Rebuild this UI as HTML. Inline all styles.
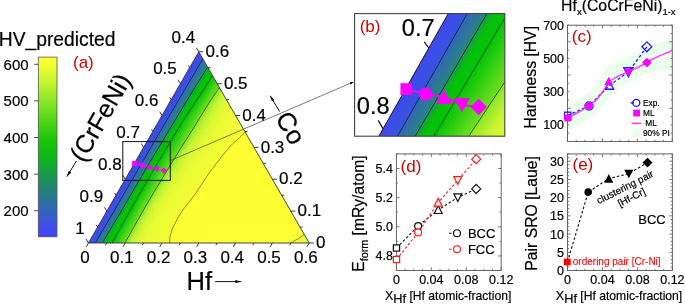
<!DOCTYPE html>
<html><head><meta charset="utf-8"><style>
html,body{margin:0;padding:0;background:#fff;overflow:hidden;}
svg{display:block;will-change:transform;}
text{font-family:"Liberation Sans",sans-serif;stroke:#000;stroke-width:0.2px;}
</style></head><body>
<svg width="685" height="304" viewBox="0 0 685 304" font-family="Liberation Sans, sans-serif">
<defs><linearGradient id="g1" gradientUnits="userSpaceOnUse" x1="198.47" y1="0" x2="199.13" y2="0"></linearGradient><linearGradient id="g2" gradientUnits="userSpaceOnUse" x1="197.90" y1="0" x2="199.70" y2="0"><stop offset="0.2765" stop-color="#3e48ee"/><stop offset="0.7235" stop-color="#3d49ec"/></linearGradient><linearGradient id="g3" gradientUnits="userSpaceOnUse" x1="197.32" y1="0" x2="200.28" y2="0"><stop offset="0.1687" stop-color="#3e48ee"/><stop offset="0.8313" stop-color="#3c4bea"/></linearGradient><linearGradient id="g4" gradientUnits="userSpaceOnUse" x1="196.74" y1="0" x2="200.86" y2="0"><stop offset="0.1214" stop-color="#3e48ee"/><stop offset="0.8786" stop-color="#3b4de7"/></linearGradient><linearGradient id="g5" gradientUnits="userSpaceOnUse" x1="196.16" y1="0" x2="201.44" y2="0"><stop offset="0.0948" stop-color="#3e48ee"/><stop offset="0.9052" stop-color="#3a4fe4"/></linearGradient><linearGradient id="g6" gradientUnits="userSpaceOnUse" x1="195.59" y1="0" x2="202.01" y2="0"><stop offset="0.0778" stop-color="#3e48ee"/><stop offset="0.9222" stop-color="#3951e2"/></linearGradient><linearGradient id="g7" gradientUnits="userSpaceOnUse" x1="195.01" y1="0" x2="202.59" y2="0"><stop offset="0.0659" stop-color="#3e48ee"/><stop offset="0.9341" stop-color="#3853df"/></linearGradient><linearGradient id="g8" gradientUnits="userSpaceOnUse" x1="194.43" y1="0" x2="203.17" y2="0"><stop offset="0.0572" stop-color="#3e48ee"/><stop offset="0.9428" stop-color="#3755dd"/></linearGradient><linearGradient id="g9" gradientUnits="userSpaceOnUse" x1="193.85" y1="0" x2="203.75" y2="0"><stop offset="0.0505" stop-color="#3e48ee"/><stop offset="0.8647" stop-color="#3755dc"/><stop offset="0.8647" stop-color="#3266ba"/><stop offset="0.9495" stop-color="#3169b4"/></linearGradient><linearGradient id="g10" gradientUnits="userSpaceOnUse" x1="193.28" y1="0" x2="204.32" y2="0"><stop offset="0.0453" stop-color="#3e48ee"/><stop offset="0.7737" stop-color="#3755dc"/><stop offset="0.7737" stop-color="#3266ba"/><stop offset="0.9547" stop-color="#306dac"/></linearGradient><linearGradient id="g11" gradientUnits="userSpaceOnUse" x1="192.70" y1="0" x2="204.90" y2="0"><stop offset="0.0410" stop-color="#3e48ee"/><stop offset="0.6999" stop-color="#3755dc"/><stop offset="0.6999" stop-color="#3266ba"/><stop offset="0.9590" stop-color="#2e72a3"/></linearGradient><linearGradient id="g12" gradientUnits="userSpaceOnUse" x1="192.12" y1="0" x2="205.48" y2="0"><stop offset="0.0374" stop-color="#3e48ee"/><stop offset="0.6388" stop-color="#3755dc"/><stop offset="0.6388" stop-color="#3266ba"/><stop offset="0.9626" stop-color="#2d769b"/></linearGradient><linearGradient id="g13" gradientUnits="userSpaceOnUse" x1="191.54" y1="0" x2="206.06" y2="0"><stop offset="0.0345" stop-color="#3e48ee"/><stop offset="0.5875" stop-color="#3755dc"/><stop offset="0.5875" stop-color="#3266ba"/><stop offset="0.9655" stop-color="#2c7b92"/></linearGradient><linearGradient id="g14" gradientUnits="userSpaceOnUse" x1="190.97" y1="0" x2="206.63" y2="0"><stop offset="0.0319" stop-color="#3e48ee"/><stop offset="0.5437" stop-color="#3755dc"/><stop offset="0.5437" stop-color="#3266ba"/><stop offset="0.9681" stop-color="#2a7f8a"/></linearGradient><linearGradient id="g15" gradientUnits="userSpaceOnUse" x1="190.39" y1="0" x2="207.21" y2="0"><stop offset="0.0297" stop-color="#3e48ee"/><stop offset="0.5060" stop-color="#3755dc"/><stop offset="0.5060" stop-color="#3266ba"/><stop offset="0.9703" stop-color="#298381"/></linearGradient><linearGradient id="g16" gradientUnits="userSpaceOnUse" x1="189.81" y1="0" x2="207.79" y2="0"><stop offset="0.0278" stop-color="#3e48ee"/><stop offset="0.4731" stop-color="#3755dc"/><stop offset="0.4731" stop-color="#3266ba"/><stop offset="0.9628" stop-color="#28877a"/><stop offset="0.9628" stop-color="#1e9850"/><stop offset="0.9722" stop-color="#1d9a4d"/></linearGradient><linearGradient id="g17" gradientUnits="userSpaceOnUse" x1="189.23" y1="0" x2="208.37" y2="0"><stop offset="0.0261" stop-color="#3e48ee"/><stop offset="0.4441" stop-color="#3755dc"/><stop offset="0.4441" stop-color="#3266ba"/><stop offset="0.9495" stop-color="#28877a"/><stop offset="0.9495" stop-color="#1e9850"/><stop offset="0.9739" stop-color="#1b9d47"/></linearGradient><linearGradient id="g18" gradientUnits="userSpaceOnUse" x1="188.66" y1="0" x2="208.94" y2="0"><stop offset="0.0246" stop-color="#3e48ee"/><stop offset="0.4185" stop-color="#3755dc"/><stop offset="0.4185" stop-color="#3266ba"/><stop offset="0.8932" stop-color="#28877a"/><stop offset="0.8932" stop-color="#1e9850"/><stop offset="0.9754" stop-color="#12a931"/></linearGradient><linearGradient id="g19" gradientUnits="userSpaceOnUse" x1="188.08" y1="0" x2="209.52" y2="0"><stop offset="0.0233" stop-color="#3e48ee"/><stop offset="0.3956" stop-color="#3755dc"/><stop offset="0.3956" stop-color="#3266ba"/><stop offset="0.8430" stop-color="#28877a"/><stop offset="0.8430" stop-color="#1e9850"/><stop offset="0.9767" stop-color="#0ab61a"/></linearGradient><linearGradient id="g20" gradientUnits="userSpaceOnUse" x1="187.50" y1="0" x2="210.10" y2="0"><stop offset="0.0221" stop-color="#3e48ee"/><stop offset="0.3751" stop-color="#3755dc"/><stop offset="0.3751" stop-color="#3266ba"/><stop offset="0.7978" stop-color="#28877a"/><stop offset="0.7978" stop-color="#1e9850"/><stop offset="0.9374" stop-color="#08b914"/><stop offset="0.9779" stop-color="#06bc10"/></linearGradient><linearGradient id="g21" gradientUnits="userSpaceOnUse" x1="186.93" y1="0" x2="210.67" y2="0"><stop offset="0.0211" stop-color="#3e48ee"/><stop offset="0.3565" stop-color="#3755dc"/><stop offset="0.3565" stop-color="#3266ba"/><stop offset="0.7571" stop-color="#28877a"/><stop offset="0.7571" stop-color="#1e9850"/><stop offset="0.8893" stop-color="#08b914"/><stop offset="0.9789" stop-color="#03c10a"/></linearGradient><linearGradient id="g22" gradientUnits="userSpaceOnUse" x1="186.35" y1="0" x2="211.25" y2="0"><stop offset="0.0201" stop-color="#3e48ee"/><stop offset="0.3397" stop-color="#3755dc"/><stop offset="0.3397" stop-color="#3266ba"/><stop offset="0.7202" stop-color="#28877a"/><stop offset="0.7202" stop-color="#1e9850"/><stop offset="0.8457" stop-color="#08b914"/><stop offset="0.9503" stop-color="#02c308"/><stop offset="0.9799" stop-color="#02c308"/></linearGradient><linearGradient id="g23" gradientUnits="userSpaceOnUse" x1="185.77" y1="0" x2="211.83" y2="0"><stop offset="0.0192" stop-color="#3e48ee"/><stop offset="0.3244" stop-color="#3755dc"/><stop offset="0.3244" stop-color="#3266ba"/><stop offset="0.6865" stop-color="#28877a"/><stop offset="0.6865" stop-color="#1e9850"/><stop offset="0.8060" stop-color="#08b914"/><stop offset="0.9055" stop-color="#02c308"/><stop offset="0.9808" stop-color="#02c307"/></linearGradient><linearGradient id="g24" gradientUnits="userSpaceOnUse" x1="185.19" y1="0" x2="212.41" y2="0"><stop offset="0.0184" stop-color="#3e48ee"/><stop offset="0.3104" stop-color="#3755dc"/><stop offset="0.3104" stop-color="#3266ba"/><stop offset="0.6557" stop-color="#28877a"/><stop offset="0.6557" stop-color="#1e9850"/><stop offset="0.7696" stop-color="#08b914"/><stop offset="0.8646" stop-color="#02c308"/><stop offset="0.9816" stop-color="#02c407"/></linearGradient><linearGradient id="g25" gradientUnits="userSpaceOnUse" x1="184.62" y1="0" x2="212.98" y2="0"><stop offset="0.0176" stop-color="#3e48ee"/><stop offset="0.2975" stop-color="#3755dc"/><stop offset="0.2975" stop-color="#3266ba"/><stop offset="0.6273" stop-color="#28877a"/><stop offset="0.6273" stop-color="#1e9850"/><stop offset="0.7362" stop-color="#08b914"/><stop offset="0.8269" stop-color="#02c308"/><stop offset="0.9824" stop-color="#02c406"/></linearGradient><linearGradient id="g26" gradientUnits="userSpaceOnUse" x1="184.04" y1="0" x2="213.56" y2="0"><stop offset="0.0169" stop-color="#3e48ee"/><stop offset="0.2856" stop-color="#3755dc"/><stop offset="0.2856" stop-color="#3266ba"/><stop offset="0.6012" stop-color="#28877a"/><stop offset="0.6012" stop-color="#1e9850"/><stop offset="0.7038" stop-color="#08b914"/><stop offset="0.7893" stop-color="#02c308"/><stop offset="0.9431" stop-color="#02c406"/><stop offset="0.9431" stop-color="#05c408"/><stop offset="0.9831" stop-color="#0ec60a"/></linearGradient><linearGradient id="g27" gradientUnits="userSpaceOnUse" x1="183.46" y1="0" x2="214.14" y2="0"><stop offset="0.0163" stop-color="#3e48ee"/><stop offset="0.2746" stop-color="#3755dc"/><stop offset="0.2746" stop-color="#3266ba"/><stop offset="0.5771" stop-color="#28877a"/><stop offset="0.5771" stop-color="#1e9850"/><stop offset="0.6757" stop-color="#08b914"/><stop offset="0.7579" stop-color="#02c308"/><stop offset="0.9058" stop-color="#02c406"/><stop offset="0.9058" stop-color="#05c408"/><stop offset="0.9837" stop-color="#16c80c"/></linearGradient><linearGradient id="g28" gradientUnits="userSpaceOnUse" x1="182.88" y1="0" x2="214.72" y2="0"><stop offset="0.0157" stop-color="#3e48ee"/><stop offset="0.2644" stop-color="#3755dc"/><stop offset="0.2644" stop-color="#3266ba"/><stop offset="0.5547" stop-color="#28877a"/><stop offset="0.5547" stop-color="#1e9850"/><stop offset="0.6497" stop-color="#08b914"/><stop offset="0.7288" stop-color="#02c308"/><stop offset="0.8712" stop-color="#02c406"/><stop offset="0.8712" stop-color="#05c408"/><stop offset="0.9843" stop-color="#1fcb0e"/></linearGradient><linearGradient id="g29" gradientUnits="userSpaceOnUse" x1="182.31" y1="0" x2="215.29" y2="0"><stop offset="0.0152" stop-color="#3e48ee"/><stop offset="0.2550" stop-color="#3755dc"/><stop offset="0.2550" stop-color="#3266ba"/><stop offset="0.5339" stop-color="#28877a"/><stop offset="0.5339" stop-color="#1e9850"/><stop offset="0.6254" stop-color="#08b914"/><stop offset="0.7017" stop-color="#02c308"/><stop offset="0.8390" stop-color="#02c406"/><stop offset="0.8390" stop-color="#05c408"/><stop offset="0.9848" stop-color="#28cd10"/></linearGradient><linearGradient id="g30" gradientUnits="userSpaceOnUse" x1="181.73" y1="0" x2="215.87" y2="0"><stop offset="0.0146" stop-color="#3e48ee"/><stop offset="0.2461" stop-color="#3755dc"/><stop offset="0.2461" stop-color="#3266ba"/><stop offset="0.5145" stop-color="#28877a"/><stop offset="0.5145" stop-color="#1e9850"/><stop offset="0.6028" stop-color="#08b914"/><stop offset="0.6764" stop-color="#02c308"/><stop offset="0.8089" stop-color="#02c406"/><stop offset="0.8089" stop-color="#05c408"/><stop offset="0.9854" stop-color="#31cf12"/></linearGradient><linearGradient id="g31" gradientUnits="userSpaceOnUse" x1="181.15" y1="0" x2="216.45" y2="0"><stop offset="0.0142" stop-color="#3e48ee"/><stop offset="0.2379" stop-color="#3755dc"/><stop offset="0.2379" stop-color="#3266ba"/><stop offset="0.4964" stop-color="#28877a"/><stop offset="0.4964" stop-color="#1e9850"/><stop offset="0.5817" stop-color="#08b914"/><stop offset="0.6528" stop-color="#02c308"/><stop offset="0.7809" stop-color="#02c406"/><stop offset="0.7809" stop-color="#05c408"/><stop offset="0.9858" stop-color="#3ad114"/></linearGradient><linearGradient id="g32" gradientUnits="userSpaceOnUse" x1="180.57" y1="0" x2="217.03" y2="0"><stop offset="0.0137" stop-color="#3e48ee"/><stop offset="0.2301" stop-color="#3755dc"/><stop offset="0.2301" stop-color="#3266ba"/><stop offset="0.4794" stop-color="#28877a"/><stop offset="0.4794" stop-color="#1e9850"/><stop offset="0.5619" stop-color="#08b914"/><stop offset="0.6307" stop-color="#02c308"/><stop offset="0.7546" stop-color="#02c406"/><stop offset="0.7546" stop-color="#05c408"/><stop offset="0.9610" stop-color="#3cd214"/><stop offset="0.9863" stop-color="#43d416"/></linearGradient><linearGradient id="g33" gradientUnits="userSpaceOnUse" x1="180.00" y1="0" x2="217.60" y2="0"><stop offset="0.0133" stop-color="#3e48ee"/><stop offset="0.2229" stop-color="#3755dc"/><stop offset="0.2229" stop-color="#3266ba"/><stop offset="0.4634" stop-color="#28877a"/><stop offset="0.4634" stop-color="#1e9850"/><stop offset="0.5434" stop-color="#08b914"/><stop offset="0.6100" stop-color="#02c308"/><stop offset="0.7299" stop-color="#02c406"/><stop offset="0.7299" stop-color="#05c408"/><stop offset="0.9297" stop-color="#3cd214"/><stop offset="0.9867" stop-color="#4cd618"/></linearGradient><linearGradient id="g34" gradientUnits="userSpaceOnUse" x1="179.42" y1="0" x2="218.18" y2="0"><stop offset="0.0129" stop-color="#3e48ee"/><stop offset="0.2161" stop-color="#3755dc"/><stop offset="0.2161" stop-color="#3266ba"/><stop offset="0.4485" stop-color="#28877a"/><stop offset="0.4485" stop-color="#1e9850"/><stop offset="0.5259" stop-color="#08b914"/><stop offset="0.5905" stop-color="#02c308"/><stop offset="0.7067" stop-color="#02c406"/><stop offset="0.7067" stop-color="#05c408"/><stop offset="0.9004" stop-color="#3cd214"/><stop offset="0.9871" stop-color="#55d81a"/></linearGradient><linearGradient id="g35" gradientUnits="userSpaceOnUse" x1="178.84" y1="0" x2="218.76" y2="0"><stop offset="0.0125" stop-color="#3e48ee"/><stop offset="0.2096" stop-color="#3755dc"/><stop offset="0.2096" stop-color="#3266ba"/><stop offset="0.4343" stop-color="#28877a"/><stop offset="0.4343" stop-color="#1e9850"/><stop offset="0.5095" stop-color="#08b914"/><stop offset="0.5721" stop-color="#02c308"/><stop offset="0.6848" stop-color="#02c406"/><stop offset="0.6848" stop-color="#05c408"/><stop offset="0.8727" stop-color="#3cd214"/><stop offset="0.9875" stop-color="#5eda1c"/></linearGradient><linearGradient id="g36" gradientUnits="userSpaceOnUse" x1="178.26" y1="0" x2="219.34" y2="0"><stop offset="0.0122" stop-color="#3e48ee"/><stop offset="0.2036" stop-color="#3755dc"/><stop offset="0.2036" stop-color="#3266ba"/><stop offset="0.4210" stop-color="#28877a"/><stop offset="0.4210" stop-color="#1e9850"/><stop offset="0.4940" stop-color="#08b914"/><stop offset="0.5548" stop-color="#02c308"/><stop offset="0.6642" stop-color="#02c406"/><stop offset="0.6642" stop-color="#05c408"/><stop offset="0.8466" stop-color="#3cd214"/><stop offset="0.9878" stop-color="#67dc1e"/></linearGradient><linearGradient id="g37" gradientUnits="userSpaceOnUse" x1="177.69" y1="0" x2="219.91" y2="0"><stop offset="0.0118" stop-color="#3e48ee"/><stop offset="0.1978" stop-color="#3755dc"/><stop offset="0.1978" stop-color="#3266ba"/><stop offset="0.4084" stop-color="#28877a"/><stop offset="0.4084" stop-color="#1e9850"/><stop offset="0.4793" stop-color="#08b914"/><stop offset="0.5384" stop-color="#02c308"/><stop offset="0.6447" stop-color="#02c406"/><stop offset="0.6447" stop-color="#05c408"/><stop offset="0.8219" stop-color="#3cd214"/><stop offset="0.9882" stop-color="#70de20"/></linearGradient><linearGradient id="g38" gradientUnits="userSpaceOnUse" x1="177.11" y1="0" x2="220.49" y2="0"><stop offset="0.0115" stop-color="#3e48ee"/><stop offset="0.1924" stop-color="#3755dc"/><stop offset="0.1924" stop-color="#3266ba"/><stop offset="0.3965" stop-color="#28877a"/><stop offset="0.3965" stop-color="#1e9850"/><stop offset="0.4654" stop-color="#08b914"/><stop offset="0.5228" stop-color="#02c308"/><stop offset="0.6262" stop-color="#02c406"/><stop offset="0.6262" stop-color="#05c408"/><stop offset="0.7943" stop-color="#3cd214"/><stop offset="0.9624" stop-color="#73df21"/><stop offset="0.9624" stop-color="#8ce628"/><stop offset="0.9885" stop-color="#95e82a"/></linearGradient><linearGradient id="g39" gradientUnits="userSpaceOnUse" x1="176.53" y1="0" x2="221.07" y2="0"><stop offset="0.0112" stop-color="#3e48ee"/><stop offset="0.1872" stop-color="#3755dc"/><stop offset="0.1872" stop-color="#3266ba"/><stop offset="0.3851" stop-color="#28877a"/><stop offset="0.3851" stop-color="#1e9850"/><stop offset="0.4522" stop-color="#08b914"/><stop offset="0.5081" stop-color="#02c308"/><stop offset="0.6087" stop-color="#02c406"/><stop offset="0.6087" stop-color="#05c408"/><stop offset="0.7719" stop-color="#3cd214"/><stop offset="0.9351" stop-color="#73df21"/><stop offset="0.9351" stop-color="#8ce628"/><stop offset="0.9888" stop-color="#9eeb2b"/></linearGradient><linearGradient id="g40" gradientUnits="userSpaceOnUse" x1="175.95" y1="0" x2="221.65" y2="0"><stop offset="0.0109" stop-color="#3e48ee"/><stop offset="0.1824" stop-color="#3755dc"/><stop offset="0.1824" stop-color="#3266ba"/><stop offset="0.3744" stop-color="#28877a"/><stop offset="0.3744" stop-color="#1e9850"/><stop offset="0.4397" stop-color="#08b914"/><stop offset="0.4941" stop-color="#02c308"/><stop offset="0.5921" stop-color="#02c406"/><stop offset="0.5921" stop-color="#05c408"/><stop offset="0.7506" stop-color="#3cd214"/><stop offset="0.9092" stop-color="#73df21"/><stop offset="0.9092" stop-color="#8ce628"/><stop offset="0.9891" stop-color="#a8ed2d"/></linearGradient><linearGradient id="g41" gradientUnits="userSpaceOnUse" x1="175.38" y1="0" x2="222.22" y2="0"><stop offset="0.0107" stop-color="#3e48ee"/><stop offset="0.1777" stop-color="#3755dc"/><stop offset="0.1777" stop-color="#3266ba"/><stop offset="0.3642" stop-color="#28877a"/><stop offset="0.3642" stop-color="#1e9850"/><stop offset="0.4278" stop-color="#08b914"/><stop offset="0.4809" stop-color="#02c308"/><stop offset="0.5763" stop-color="#02c406"/><stop offset="0.5763" stop-color="#05c408"/><stop offset="0.7304" stop-color="#3cd214"/><stop offset="0.8846" stop-color="#73df21"/><stop offset="0.8846" stop-color="#8ce628"/><stop offset="0.9893" stop-color="#b2f02f"/></linearGradient><linearGradient id="g42" gradientUnits="userSpaceOnUse" x1="174.80" y1="0" x2="222.80" y2="0"><stop offset="0.0104" stop-color="#3e48ee"/><stop offset="0.1733" stop-color="#3755dc"/><stop offset="0.1733" stop-color="#3266ba"/><stop offset="0.3545" stop-color="#28877a"/><stop offset="0.3545" stop-color="#1e9850"/><stop offset="0.4165" stop-color="#08b914"/><stop offset="0.4682" stop-color="#02c308"/><stop offset="0.5613" stop-color="#02c406"/><stop offset="0.5613" stop-color="#05c408"/><stop offset="0.7112" stop-color="#3cd214"/><stop offset="0.8611" stop-color="#73df21"/><stop offset="0.8611" stop-color="#8ce628"/><stop offset="0.9896" stop-color="#bcf231"/></linearGradient><linearGradient id="g43" gradientUnits="userSpaceOnUse" x1="174.22" y1="0" x2="223.38" y2="0"><stop offset="0.0102" stop-color="#3e48ee"/><stop offset="0.1691" stop-color="#3755dc"/><stop offset="0.1691" stop-color="#3266ba"/><stop offset="0.3452" stop-color="#28877a"/><stop offset="0.3452" stop-color="#1e9850"/><stop offset="0.4057" stop-color="#08b914"/><stop offset="0.4562" stop-color="#02c308"/><stop offset="0.5469" stop-color="#02c406"/><stop offset="0.5469" stop-color="#05c408"/><stop offset="0.6928" stop-color="#3cd214"/><stop offset="0.8388" stop-color="#73df21"/><stop offset="0.8388" stop-color="#8ce628"/><stop offset="0.9832" stop-color="#c3f432"/><stop offset="0.9898" stop-color="#c4f432"/></linearGradient><linearGradient id="g44" gradientUnits="userSpaceOnUse" x1="173.64" y1="0" x2="223.96" y2="0"><stop offset="0.0099" stop-color="#3e48ee"/><stop offset="0.1650" stop-color="#3755dc"/><stop offset="0.1650" stop-color="#3266ba"/><stop offset="0.3364" stop-color="#28877a"/><stop offset="0.3364" stop-color="#1e9850"/><stop offset="0.3954" stop-color="#08b914"/><stop offset="0.4447" stop-color="#02c308"/><stop offset="0.5333" stop-color="#02c406"/><stop offset="0.5333" stop-color="#05c408"/><stop offset="0.6753" stop-color="#3cd214"/><stop offset="0.8174" stop-color="#73df21"/><stop offset="0.8174" stop-color="#8ce628"/><stop offset="0.9581" stop-color="#c3f432"/><stop offset="0.9901" stop-color="#c9f532"/></linearGradient><linearGradient id="g45" gradientUnits="userSpaceOnUse" x1="173.07" y1="0" x2="224.53" y2="0"><stop offset="0.0097" stop-color="#3e48ee"/><stop offset="0.1611" stop-color="#3755dc"/><stop offset="0.1611" stop-color="#3266ba"/><stop offset="0.3282" stop-color="#28877a"/><stop offset="0.3282" stop-color="#1e9850"/><stop offset="0.3857" stop-color="#08b914"/><stop offset="0.4337" stop-color="#02c308"/><stop offset="0.5200" stop-color="#02c406"/><stop offset="0.5200" stop-color="#05c408"/><stop offset="0.6585" stop-color="#3cd214"/><stop offset="0.7971" stop-color="#73df21"/><stop offset="0.7971" stop-color="#8ce628"/><stop offset="0.9342" stop-color="#c3f432"/><stop offset="0.9903" stop-color="#cdf633"/></linearGradient><linearGradient id="g46" gradientUnits="userSpaceOnUse" x1="172.49" y1="0" x2="225.11" y2="0"><stop offset="0.0095" stop-color="#3e48ee"/><stop offset="0.1574" stop-color="#3755dc"/><stop offset="0.1574" stop-color="#3266ba"/><stop offset="0.3205" stop-color="#28877a"/><stop offset="0.3205" stop-color="#1e9850"/><stop offset="0.3765" stop-color="#08b914"/><stop offset="0.4231" stop-color="#02c308"/><stop offset="0.5071" stop-color="#02c406"/><stop offset="0.5071" stop-color="#05c408"/><stop offset="0.6424" stop-color="#3cd214"/><stop offset="0.7776" stop-color="#73df21"/><stop offset="0.7776" stop-color="#8ce628"/><stop offset="0.9115" stop-color="#c3f432"/><stop offset="0.9905" stop-color="#d2f733"/></linearGradient><linearGradient id="g47" gradientUnits="userSpaceOnUse" x1="171.91" y1="0" x2="225.69" y2="0"><stop offset="0.0093" stop-color="#3e48ee"/><stop offset="0.1537" stop-color="#3755dc"/><stop offset="0.1537" stop-color="#3266ba"/><stop offset="0.3132" stop-color="#28877a"/><stop offset="0.3132" stop-color="#1e9850"/><stop offset="0.3677" stop-color="#08b914"/><stop offset="0.4131" stop-color="#02c308"/><stop offset="0.4948" stop-color="#02c406"/><stop offset="0.4948" stop-color="#05c408"/><stop offset="0.6269" stop-color="#3cd214"/><stop offset="0.7590" stop-color="#73df21"/><stop offset="0.7590" stop-color="#8ce628"/><stop offset="0.8897" stop-color="#c3f432"/><stop offset="0.9907" stop-color="#d6f834"/></linearGradient><linearGradient id="g48" gradientUnits="userSpaceOnUse" x1="171.34" y1="0" x2="226.26" y2="0"><stop offset="0.0091" stop-color="#3e48ee"/><stop offset="0.1503" stop-color="#3755dc"/><stop offset="0.1503" stop-color="#3266ba"/><stop offset="0.3062" stop-color="#28877a"/><stop offset="0.3062" stop-color="#1e9850"/><stop offset="0.3592" stop-color="#08b914"/><stop offset="0.4034" stop-color="#02c308"/><stop offset="0.4830" stop-color="#02c406"/><stop offset="0.4830" stop-color="#05c408"/><stop offset="0.6121" stop-color="#3cd214"/><stop offset="0.7411" stop-color="#73df21"/><stop offset="0.7411" stop-color="#8ce628"/><stop offset="0.8689" stop-color="#c3f432"/><stop offset="0.9909" stop-color="#dbf934"/></linearGradient><linearGradient id="g49" gradientUnits="userSpaceOnUse" x1="170.76" y1="0" x2="226.84" y2="0"><stop offset="0.0089" stop-color="#3e48ee"/><stop offset="0.1469" stop-color="#3755dc"/><stop offset="0.1469" stop-color="#3266ba"/><stop offset="0.2995" stop-color="#28877a"/><stop offset="0.2995" stop-color="#1e9850"/><stop offset="0.3511" stop-color="#08b914"/><stop offset="0.3942" stop-color="#02c308"/><stop offset="0.4717" stop-color="#02c406"/><stop offset="0.4717" stop-color="#05c408"/><stop offset="0.5979" stop-color="#3cd214"/><stop offset="0.7240" stop-color="#73df21"/><stop offset="0.7240" stop-color="#8ce628"/><stop offset="0.8489" stop-color="#c3f432"/><stop offset="0.9738" stop-color="#dcf934"/><stop offset="0.9911" stop-color="#def934"/></linearGradient><linearGradient id="g50" gradientUnits="userSpaceOnUse" x1="170.18" y1="0" x2="227.42" y2="0"><stop offset="0.0087" stop-color="#3e48ee"/><stop offset="0.1437" stop-color="#3755dc"/><stop offset="0.1437" stop-color="#3266ba"/><stop offset="0.2930" stop-color="#28877a"/><stop offset="0.2930" stop-color="#1e9850"/><stop offset="0.3434" stop-color="#08b914"/><stop offset="0.3853" stop-color="#02c308"/><stop offset="0.4608" stop-color="#02c406"/><stop offset="0.4608" stop-color="#05c408"/><stop offset="0.5842" stop-color="#3cd214"/><stop offset="0.7076" stop-color="#73df21"/><stop offset="0.7076" stop-color="#8ce628"/><stop offset="0.8297" stop-color="#c3f432"/><stop offset="0.9519" stop-color="#dcf934"/><stop offset="0.9913" stop-color="#e0fa34"/></linearGradient><linearGradient id="g51" gradientUnits="userSpaceOnUse" x1="169.60" y1="0" x2="228.00" y2="0"><stop offset="0.0086" stop-color="#3e48ee"/><stop offset="0.1407" stop-color="#3755dc"/><stop offset="0.1407" stop-color="#3266ba"/><stop offset="0.2868" stop-color="#28877a"/><stop offset="0.2868" stop-color="#1e9850"/><stop offset="0.3359" stop-color="#08b914"/><stop offset="0.3768" stop-color="#02c308"/><stop offset="0.4504" stop-color="#02c406"/><stop offset="0.4504" stop-color="#05c408"/><stop offset="0.5711" stop-color="#3cd214"/><stop offset="0.6918" stop-color="#73df21"/><stop offset="0.6918" stop-color="#8ce628"/><stop offset="0.8113" stop-color="#c3f432"/><stop offset="0.9308" stop-color="#dcf934"/><stop offset="0.9914" stop-color="#e2fa34"/></linearGradient><linearGradient id="g52" gradientUnits="userSpaceOnUse" x1="169.03" y1="0" x2="228.57" y2="0"><stop offset="0.0084" stop-color="#3e48ee"/><stop offset="0.1377" stop-color="#3755dc"/><stop offset="0.1377" stop-color="#3266ba"/><stop offset="0.2809" stop-color="#28877a"/><stop offset="0.2809" stop-color="#1e9850"/><stop offset="0.3287" stop-color="#08b914"/><stop offset="0.3686" stop-color="#02c308"/><stop offset="0.4404" stop-color="#02c406"/><stop offset="0.4404" stop-color="#05c408"/><stop offset="0.5585" stop-color="#3cd214"/><stop offset="0.6766" stop-color="#73df21"/><stop offset="0.6766" stop-color="#8ce628"/><stop offset="0.7936" stop-color="#c3f432"/><stop offset="0.9105" stop-color="#dcf934"/><stop offset="0.9916" stop-color="#e4fb34"/></linearGradient><linearGradient id="g53" gradientUnits="userSpaceOnUse" x1="168.45" y1="0" x2="229.15" y2="0"><stop offset="0.0082" stop-color="#3e48ee"/><stop offset="0.1349" stop-color="#3755dc"/><stop offset="0.1349" stop-color="#3266ba"/><stop offset="0.2751" stop-color="#28877a"/><stop offset="0.2751" stop-color="#1e9850"/><stop offset="0.3218" stop-color="#08b914"/><stop offset="0.3607" stop-color="#02c308"/><stop offset="0.4308" stop-color="#02c406"/><stop offset="0.4308" stop-color="#05c408"/><stop offset="0.5465" stop-color="#3cd214"/><stop offset="0.6622" stop-color="#73df21"/><stop offset="0.6622" stop-color="#8ce628"/><stop offset="0.7767" stop-color="#c3f432"/><stop offset="0.8913" stop-color="#dcf934"/><stop offset="0.9918" stop-color="#e6fb34"/></linearGradient><linearGradient id="g54" gradientUnits="userSpaceOnUse" x1="167.87" y1="0" x2="229.73" y2="0"><stop offset="0.0081" stop-color="#3e48ee"/><stop offset="0.1321" stop-color="#3755dc"/><stop offset="0.1321" stop-color="#3266ba"/><stop offset="0.2696" stop-color="#28877a"/><stop offset="0.2696" stop-color="#1e9850"/><stop offset="0.3152" stop-color="#08b914"/><stop offset="0.3531" stop-color="#02c308"/><stop offset="0.4215" stop-color="#02c406"/><stop offset="0.4215" stop-color="#05c408"/><stop offset="0.5353" stop-color="#3cd214"/><stop offset="0.6492" stop-color="#73df21"/><stop offset="0.6492" stop-color="#8ce628"/><stop offset="0.7619" stop-color="#c3f432"/><stop offset="0.8747" stop-color="#dcf934"/><stop offset="0.9919" stop-color="#e8fb34"/></linearGradient><linearGradient id="g55" gradientUnits="userSpaceOnUse" x1="167.29" y1="0" x2="230.31" y2="0"><stop offset="0.0079" stop-color="#3e48ee"/><stop offset="0.1295" stop-color="#3755dc"/><stop offset="0.1295" stop-color="#3266ba"/><stop offset="0.2643" stop-color="#28877a"/><stop offset="0.2643" stop-color="#1e9850"/><stop offset="0.3088" stop-color="#08b914"/><stop offset="0.3458" stop-color="#02c308"/><stop offset="0.4125" stop-color="#02c406"/><stop offset="0.4125" stop-color="#05c408"/><stop offset="0.5246" stop-color="#3cd214"/><stop offset="0.6367" stop-color="#73df21"/><stop offset="0.6367" stop-color="#8ce628"/><stop offset="0.7477" stop-color="#c3f432"/><stop offset="0.8587" stop-color="#dcf934"/><stop offset="0.9921" stop-color="#eafc34"/></linearGradient><linearGradient id="g56" gradientUnits="userSpaceOnUse" x1="166.72" y1="0" x2="230.88" y2="0"><stop offset="0.0078" stop-color="#3e48ee"/><stop offset="0.1270" stop-color="#3755dc"/><stop offset="0.1270" stop-color="#3266ba"/><stop offset="0.2592" stop-color="#28877a"/><stop offset="0.2592" stop-color="#1e9850"/><stop offset="0.3026" stop-color="#08b914"/><stop offset="0.3388" stop-color="#02c308"/><stop offset="0.4039" stop-color="#02c406"/><stop offset="0.4039" stop-color="#05c408"/><stop offset="0.5143" stop-color="#3cd214"/><stop offset="0.6247" stop-color="#73df21"/><stop offset="0.6247" stop-color="#8ce628"/><stop offset="0.7340" stop-color="#c3f432"/><stop offset="0.8433" stop-color="#dcf934"/><stop offset="0.9890" stop-color="#ebfc34"/><stop offset="0.9922" stop-color="#ebfc34"/></linearGradient><linearGradient id="g57" gradientUnits="userSpaceOnUse" x1="166.14" y1="0" x2="231.46" y2="0"><stop offset="0.0077" stop-color="#3e48ee"/><stop offset="0.1245" stop-color="#3755dc"/><stop offset="0.1245" stop-color="#3266ba"/><stop offset="0.2542" stop-color="#28877a"/><stop offset="0.2542" stop-color="#1e9850"/><stop offset="0.2967" stop-color="#08b914"/><stop offset="0.3320" stop-color="#02c308"/><stop offset="0.3956" stop-color="#02c406"/><stop offset="0.3956" stop-color="#05c408"/><stop offset="0.5043" stop-color="#3cd214"/><stop offset="0.6131" stop-color="#73df21"/><stop offset="0.6131" stop-color="#8ce628"/><stop offset="0.7207" stop-color="#c3f432"/><stop offset="0.8284" stop-color="#dcf934"/><stop offset="0.9719" stop-color="#ebfc34"/><stop offset="0.9923" stop-color="#ebfc34"/></linearGradient><linearGradient id="g58" gradientUnits="userSpaceOnUse" x1="165.56" y1="0" x2="232.04" y2="0"><stop offset="0.0075" stop-color="#3e48ee"/><stop offset="0.1221" stop-color="#3755dc"/><stop offset="0.1221" stop-color="#3266ba"/><stop offset="0.2495" stop-color="#28877a"/><stop offset="0.2495" stop-color="#1e9850"/><stop offset="0.2909" stop-color="#08b914"/><stop offset="0.3254" stop-color="#02c308"/><stop offset="0.3876" stop-color="#02c406"/><stop offset="0.3876" stop-color="#05c408"/><stop offset="0.4947" stop-color="#3cd214"/><stop offset="0.6019" stop-color="#73df21"/><stop offset="0.6019" stop-color="#8ce628"/><stop offset="0.7079" stop-color="#c3f432"/><stop offset="0.8140" stop-color="#dcf934"/><stop offset="0.9555" stop-color="#ebfc34"/><stop offset="0.9925" stop-color="#ecfc34"/></linearGradient><linearGradient id="g59" gradientUnits="userSpaceOnUse" x1="164.98" y1="0" x2="232.62" y2="0"><stop offset="0.0074" stop-color="#3e48ee"/><stop offset="0.1199" stop-color="#3755dc"/><stop offset="0.1199" stop-color="#3266ba"/><stop offset="0.2449" stop-color="#28877a"/><stop offset="0.2449" stop-color="#1e9850"/><stop offset="0.2854" stop-color="#08b914"/><stop offset="0.3191" stop-color="#02c308"/><stop offset="0.3798" stop-color="#02c406"/><stop offset="0.3798" stop-color="#05c408"/><stop offset="0.4854" stop-color="#3cd214"/><stop offset="0.5910" stop-color="#73df21"/><stop offset="0.5910" stop-color="#8ce628"/><stop offset="0.6956" stop-color="#c3f432"/><stop offset="0.8002" stop-color="#dcf934"/><stop offset="0.9396" stop-color="#ebfc34"/><stop offset="0.9926" stop-color="#ecfc34"/></linearGradient><linearGradient id="g60" gradientUnits="userSpaceOnUse" x1="164.41" y1="0" x2="233.19" y2="0"><stop offset="0.0073" stop-color="#3e48ee"/><stop offset="0.1177" stop-color="#3755dc"/><stop offset="0.1177" stop-color="#3266ba"/><stop offset="0.2404" stop-color="#28877a"/><stop offset="0.2404" stop-color="#1e9850"/><stop offset="0.2800" stop-color="#08b914"/><stop offset="0.3130" stop-color="#02c308"/><stop offset="0.3723" stop-color="#02c406"/><stop offset="0.3723" stop-color="#05c408"/><stop offset="0.4765" stop-color="#3cd214"/><stop offset="0.5806" stop-color="#73df21"/><stop offset="0.5806" stop-color="#8ce628"/><stop offset="0.6837" stop-color="#c3f432"/><stop offset="0.7868" stop-color="#dcf934"/><stop offset="0.9242" stop-color="#ebfc34"/><stop offset="0.9927" stop-color="#edfc34"/></linearGradient><linearGradient id="g61" gradientUnits="userSpaceOnUse" x1="163.83" y1="0" x2="233.77" y2="0"><stop offset="0.0071" stop-color="#3e48ee"/><stop offset="0.1155" stop-color="#3755dc"/><stop offset="0.1155" stop-color="#3266ba"/><stop offset="0.2361" stop-color="#28877a"/><stop offset="0.2361" stop-color="#1e9850"/><stop offset="0.2748" stop-color="#08b914"/><stop offset="0.3071" stop-color="#02c308"/><stop offset="0.3651" stop-color="#02c406"/><stop offset="0.3651" stop-color="#05c408"/><stop offset="0.4678" stop-color="#3cd214"/><stop offset="0.5705" stop-color="#73df21"/><stop offset="0.5705" stop-color="#8ce628"/><stop offset="0.6721" stop-color="#c3f432"/><stop offset="0.7738" stop-color="#dcf934"/><stop offset="0.9094" stop-color="#ebfc34"/><stop offset="0.9929" stop-color="#edfc34"/></linearGradient><linearGradient id="g62" gradientUnits="userSpaceOnUse" x1="163.25" y1="0" x2="234.35" y2="0"><stop offset="0.0070" stop-color="#3e48ee"/><stop offset="0.1135" stop-color="#3755dc"/><stop offset="0.1135" stop-color="#3266ba"/><stop offset="0.2320" stop-color="#28877a"/><stop offset="0.2320" stop-color="#1e9850"/><stop offset="0.2698" stop-color="#08b914"/><stop offset="0.3013" stop-color="#02c308"/><stop offset="0.3581" stop-color="#02c406"/><stop offset="0.3581" stop-color="#05c408"/><stop offset="0.4594" stop-color="#3cd214"/><stop offset="0.5607" stop-color="#73df21"/><stop offset="0.5607" stop-color="#8ce628"/><stop offset="0.6610" stop-color="#c3f432"/><stop offset="0.7613" stop-color="#dcf934"/><stop offset="0.8950" stop-color="#ebfc34"/><stop offset="0.9930" stop-color="#edfc34"/></linearGradient><linearGradient id="g63" gradientUnits="userSpaceOnUse" x1="162.67" y1="0" x2="234.93" y2="0"><stop offset="0.0069" stop-color="#3e48ee"/><stop offset="0.1115" stop-color="#3755dc"/><stop offset="0.1115" stop-color="#3266ba"/><stop offset="0.2279" stop-color="#28877a"/><stop offset="0.2279" stop-color="#1e9850"/><stop offset="0.2649" stop-color="#08b914"/><stop offset="0.2958" stop-color="#02c308"/><stop offset="0.3513" stop-color="#02c406"/><stop offset="0.3513" stop-color="#05c408"/><stop offset="0.4513" stop-color="#3cd214"/><stop offset="0.5512" stop-color="#73df21"/><stop offset="0.5512" stop-color="#8ce628"/><stop offset="0.6502" stop-color="#c3f432"/><stop offset="0.7491" stop-color="#dcf934"/><stop offset="0.8811" stop-color="#ebfc34"/><stop offset="0.9931" stop-color="#eefc34"/></linearGradient><linearGradient id="g64" gradientUnits="userSpaceOnUse" x1="162.10" y1="0" x2="235.50" y2="0"><stop offset="0.0068" stop-color="#3e48ee"/><stop offset="0.1095" stop-color="#3755dc"/><stop offset="0.1095" stop-color="#3266ba"/><stop offset="0.2240" stop-color="#28877a"/><stop offset="0.2240" stop-color="#1e9850"/><stop offset="0.2602" stop-color="#08b914"/><stop offset="0.2904" stop-color="#02c308"/><stop offset="0.3447" stop-color="#02c406"/><stop offset="0.3447" stop-color="#05c408"/><stop offset="0.4434" stop-color="#3cd214"/><stop offset="0.5420" stop-color="#73df21"/><stop offset="0.5420" stop-color="#8ce628"/><stop offset="0.6397" stop-color="#c3f432"/><stop offset="0.7374" stop-color="#dcf934"/><stop offset="0.8676" stop-color="#ebfc34"/><stop offset="0.9932" stop-color="#eefc34"/></linearGradient><linearGradient id="g65" gradientUnits="userSpaceOnUse" x1="161.52" y1="0" x2="236.08" y2="0"><stop offset="0.0067" stop-color="#3e48ee"/><stop offset="0.1077" stop-color="#3755dc"/><stop offset="0.1077" stop-color="#3266ba"/><stop offset="0.2202" stop-color="#28877a"/><stop offset="0.2202" stop-color="#1e9850"/><stop offset="0.2557" stop-color="#08b914"/><stop offset="0.2852" stop-color="#02c308"/><stop offset="0.3384" stop-color="#02c406"/><stop offset="0.3384" stop-color="#05c408"/><stop offset="0.4357" stop-color="#3cd214"/><stop offset="0.5331" stop-color="#73df21"/><stop offset="0.5331" stop-color="#8ce628"/><stop offset="0.6296" stop-color="#c3f432"/><stop offset="0.7260" stop-color="#dcf934"/><stop offset="0.8545" stop-color="#ebfc34"/><stop offset="0.9933" stop-color="#eefc34"/></linearGradient><linearGradient id="g66" gradientUnits="userSpaceOnUse" x1="160.94" y1="0" x2="236.66" y2="0"><stop offset="0.0066" stop-color="#3e48ee"/><stop offset="0.1058" stop-color="#3755dc"/><stop offset="0.1058" stop-color="#3266ba"/><stop offset="0.2166" stop-color="#28877a"/><stop offset="0.2166" stop-color="#1e9850"/><stop offset="0.2513" stop-color="#08b914"/><stop offset="0.2802" stop-color="#02c308"/><stop offset="0.3322" stop-color="#02c406"/><stop offset="0.3322" stop-color="#05c408"/><stop offset="0.4284" stop-color="#3cd214"/><stop offset="0.5245" stop-color="#73df21"/><stop offset="0.5245" stop-color="#8ce628"/><stop offset="0.6197" stop-color="#c3f432"/><stop offset="0.7149" stop-color="#dcf934"/><stop offset="0.8419" stop-color="#ebfc34"/><stop offset="0.9934" stop-color="#effc34"/></linearGradient><linearGradient id="g67" gradientUnits="userSpaceOnUse" x1="160.36" y1="0" x2="237.24" y2="0"><stop offset="0.0065" stop-color="#3e48ee"/><stop offset="0.1041" stop-color="#3755dc"/><stop offset="0.1041" stop-color="#3266ba"/><stop offset="0.2130" stop-color="#28877a"/><stop offset="0.2130" stop-color="#1e9850"/><stop offset="0.2470" stop-color="#08b914"/><stop offset="0.2753" stop-color="#02c308"/><stop offset="0.3262" stop-color="#02c406"/><stop offset="0.3262" stop-color="#05c408"/><stop offset="0.4212" stop-color="#3cd214"/><stop offset="0.5162" stop-color="#73df21"/><stop offset="0.5162" stop-color="#8ce628"/><stop offset="0.6102" stop-color="#c3f432"/><stop offset="0.7042" stop-color="#dcf934"/><stop offset="0.8296" stop-color="#ebfc34"/><stop offset="0.9935" stop-color="#effd34"/></linearGradient><linearGradient id="g68" gradientUnits="userSpaceOnUse" x1="159.79" y1="0" x2="237.81" y2="0"><stop offset="0.0064" stop-color="#3e48ee"/><stop offset="0.1024" stop-color="#3755dc"/><stop offset="0.1024" stop-color="#3266ba"/><stop offset="0.2096" stop-color="#28877a"/><stop offset="0.2096" stop-color="#1e9850"/><stop offset="0.2428" stop-color="#08b914"/><stop offset="0.2705" stop-color="#02c308"/><stop offset="0.3204" stop-color="#02c406"/><stop offset="0.3204" stop-color="#05c408"/><stop offset="0.4142" stop-color="#3cd214"/><stop offset="0.5080" stop-color="#73df21"/><stop offset="0.5080" stop-color="#8ce628"/><stop offset="0.6009" stop-color="#c3f432"/><stop offset="0.6938" stop-color="#dcf934"/><stop offset="0.8177" stop-color="#ebfc34"/><stop offset="0.9936" stop-color="#f0fd34"/></linearGradient><linearGradient id="g69" gradientUnits="userSpaceOnUse" x1="159.21" y1="0" x2="238.39" y2="0"><stop offset="0.0063" stop-color="#3e48ee"/><stop offset="0.1007" stop-color="#3755dc"/><stop offset="0.1007" stop-color="#3266ba"/><stop offset="0.2062" stop-color="#28877a"/><stop offset="0.2062" stop-color="#1e9850"/><stop offset="0.2388" stop-color="#08b914"/><stop offset="0.2659" stop-color="#02c308"/><stop offset="0.3147" stop-color="#02c406"/><stop offset="0.3147" stop-color="#05c408"/><stop offset="0.4075" stop-color="#3cd214"/><stop offset="0.5002" stop-color="#73df21"/><stop offset="0.5002" stop-color="#8ce628"/><stop offset="0.5920" stop-color="#c3f432"/><stop offset="0.6837" stop-color="#dcf934"/><stop offset="0.8061" stop-color="#ebfc34"/><stop offset="0.9937" stop-color="#f0fd34"/></linearGradient><linearGradient id="g70" gradientUnits="userSpaceOnUse" x1="158.63" y1="0" x2="238.97" y2="0"><stop offset="0.0062" stop-color="#3e48ee"/><stop offset="0.0991" stop-color="#3755dc"/><stop offset="0.0991" stop-color="#3266ba"/><stop offset="0.2030" stop-color="#28877a"/><stop offset="0.2030" stop-color="#1e9850"/><stop offset="0.2349" stop-color="#08b914"/><stop offset="0.2614" stop-color="#02c308"/><stop offset="0.3093" stop-color="#02c406"/><stop offset="0.3093" stop-color="#05c408"/><stop offset="0.4009" stop-color="#3cd214"/><stop offset="0.4925" stop-color="#73df21"/><stop offset="0.4925" stop-color="#8ce628"/><stop offset="0.5832" stop-color="#c3f432"/><stop offset="0.6739" stop-color="#dcf934"/><stop offset="0.7949" stop-color="#ebfc34"/><stop offset="0.9938" stop-color="#f0fd34"/></linearGradient><linearGradient id="g71" gradientUnits="userSpaceOnUse" x1="158.05" y1="0" x2="239.55" y2="0"><stop offset="0.0061" stop-color="#3e48ee"/><stop offset="0.0975" stop-color="#3755dc"/><stop offset="0.0975" stop-color="#3266ba"/><stop offset="0.1998" stop-color="#28877a"/><stop offset="0.1998" stop-color="#1e9850"/><stop offset="0.2310" stop-color="#08b914"/><stop offset="0.2571" stop-color="#02c308"/><stop offset="0.3039" stop-color="#02c406"/><stop offset="0.3039" stop-color="#05c408"/><stop offset="0.3945" stop-color="#3cd214"/><stop offset="0.4851" stop-color="#73df21"/><stop offset="0.4851" stop-color="#8ce628"/><stop offset="0.5747" stop-color="#c3f432"/><stop offset="0.6644" stop-color="#dcf934"/><stop offset="0.7840" stop-color="#ebfc34"/><stop offset="0.9939" stop-color="#f1fd34"/></linearGradient><linearGradient id="g72" gradientUnits="userSpaceOnUse" x1="157.48" y1="0" x2="240.12" y2="0"><stop offset="0.0060" stop-color="#3e48ee"/><stop offset="0.0960" stop-color="#3755dc"/><stop offset="0.0960" stop-color="#3266ba"/><stop offset="0.1967" stop-color="#28877a"/><stop offset="0.1967" stop-color="#1e9850"/><stop offset="0.2273" stop-color="#08b914"/><stop offset="0.2528" stop-color="#02c308"/><stop offset="0.2988" stop-color="#02c406"/><stop offset="0.2988" stop-color="#05c408"/><stop offset="0.3883" stop-color="#3cd214"/><stop offset="0.4779" stop-color="#73df21"/><stop offset="0.4779" stop-color="#8ce628"/><stop offset="0.5665" stop-color="#c3f432"/><stop offset="0.6552" stop-color="#dcf934"/><stop offset="0.7734" stop-color="#ebfc34"/><stop offset="0.9940" stop-color="#f1fd34"/></linearGradient><linearGradient id="g73" gradientUnits="userSpaceOnUse" x1="156.90" y1="0" x2="240.70" y2="0"><stop offset="0.0060" stop-color="#3e48ee"/><stop offset="0.0945" stop-color="#3755dc"/><stop offset="0.0945" stop-color="#3266ba"/><stop offset="0.1937" stop-color="#28877a"/><stop offset="0.1937" stop-color="#1e9850"/><stop offset="0.2237" stop-color="#08b914"/><stop offset="0.2487" stop-color="#02c308"/><stop offset="0.2937" stop-color="#02c406"/><stop offset="0.2937" stop-color="#05c408"/><stop offset="0.3823" stop-color="#3cd214"/><stop offset="0.4708" stop-color="#73df21"/><stop offset="0.4708" stop-color="#8ce628"/><stop offset="0.5585" stop-color="#c3f432"/><stop offset="0.6462" stop-color="#dcf934"/><stop offset="0.7630" stop-color="#ebfc34"/><stop offset="0.9940" stop-color="#f1fd34"/></linearGradient><linearGradient id="g74" gradientUnits="userSpaceOnUse" x1="156.32" y1="0" x2="241.28" y2="0"><stop offset="0.0059" stop-color="#3e48ee"/><stop offset="0.0931" stop-color="#3755dc"/><stop offset="0.0931" stop-color="#3266ba"/><stop offset="0.1908" stop-color="#28877a"/><stop offset="0.1908" stop-color="#1e9850"/><stop offset="0.2202" stop-color="#08b914"/><stop offset="0.2447" stop-color="#02c308"/><stop offset="0.2888" stop-color="#02c406"/><stop offset="0.2888" stop-color="#05c408"/><stop offset="0.3764" stop-color="#3cd214"/><stop offset="0.4640" stop-color="#73df21"/><stop offset="0.4640" stop-color="#8ce628"/><stop offset="0.5507" stop-color="#c3f432"/><stop offset="0.6374" stop-color="#dcf934"/><stop offset="0.7530" stop-color="#ebfc34"/><stop offset="0.9941" stop-color="#f2fd34"/></linearGradient><linearGradient id="g75" gradientUnits="userSpaceOnUse" x1="155.75" y1="0" x2="241.85" y2="0"><stop offset="0.0058" stop-color="#3e48ee"/><stop offset="0.0917" stop-color="#3755dc"/><stop offset="0.0917" stop-color="#3266ba"/><stop offset="0.1880" stop-color="#28877a"/><stop offset="0.1880" stop-color="#1e9850"/><stop offset="0.2169" stop-color="#08b914"/><stop offset="0.2410" stop-color="#02c308"/><stop offset="0.2844" stop-color="#02c406"/><stop offset="0.2844" stop-color="#05c408"/><stop offset="0.3708" stop-color="#3cd214"/><stop offset="0.4573" stop-color="#73df21"/><stop offset="0.4573" stop-color="#8ce628"/><stop offset="0.5429" stop-color="#c3f432"/><stop offset="0.6284" stop-color="#dcf934"/><stop offset="0.7425" stop-color="#ebfc34"/><stop offset="0.9942" stop-color="#f2fd34"/></linearGradient><linearGradient id="g76" gradientUnits="userSpaceOnUse" x1="155.17" y1="0" x2="242.43" y2="0"><stop offset="0.0057" stop-color="#3e48ee"/><stop offset="0.0905" stop-color="#3755dc"/><stop offset="0.0905" stop-color="#3266ba"/><stop offset="0.1852" stop-color="#28877a"/><stop offset="0.1852" stop-color="#1e9850"/><stop offset="0.2137" stop-color="#08b914"/><stop offset="0.2375" stop-color="#02c308"/><stop offset="0.2804" stop-color="#02c406"/><stop offset="0.2804" stop-color="#05c408"/><stop offset="0.3655" stop-color="#3cd214"/><stop offset="0.4507" stop-color="#73df21"/><stop offset="0.4507" stop-color="#8ce628"/><stop offset="0.5350" stop-color="#c3f432"/><stop offset="0.6193" stop-color="#dcf934"/><stop offset="0.7317" stop-color="#ebfc34"/><stop offset="0.9943" stop-color="#f2fd34"/></linearGradient><linearGradient id="g77" gradientUnits="userSpaceOnUse" x1="154.59" y1="0" x2="243.01" y2="0"><stop offset="0.0057" stop-color="#3e48ee"/><stop offset="0.0893" stop-color="#3755dc"/><stop offset="0.0893" stop-color="#3266ba"/><stop offset="0.1825" stop-color="#28877a"/><stop offset="0.1825" stop-color="#1e9850"/><stop offset="0.2107" stop-color="#08b914"/><stop offset="0.2342" stop-color="#02c308"/><stop offset="0.2764" stop-color="#02c406"/><stop offset="0.2764" stop-color="#05c408"/><stop offset="0.3603" stop-color="#3cd214"/><stop offset="0.4442" stop-color="#73df21"/><stop offset="0.4442" stop-color="#8ce628"/><stop offset="0.5273" stop-color="#c3f432"/><stop offset="0.6103" stop-color="#dcf934"/><stop offset="0.7211" stop-color="#ebfc34"/><stop offset="0.9943" stop-color="#f3fd34"/></linearGradient><linearGradient id="g78" gradientUnits="userSpaceOnUse" x1="154.01" y1="0" x2="243.59" y2="0"><stop offset="0.0056" stop-color="#3e48ee"/><stop offset="0.0881" stop-color="#3755dc"/><stop offset="0.0881" stop-color="#3266ba"/><stop offset="0.1799" stop-color="#28877a"/><stop offset="0.1799" stop-color="#1e9850"/><stop offset="0.2077" stop-color="#08b914"/><stop offset="0.2309" stop-color="#02c308"/><stop offset="0.2726" stop-color="#02c406"/><stop offset="0.2726" stop-color="#05c408"/><stop offset="0.3553" stop-color="#3cd214"/><stop offset="0.4380" stop-color="#73df21"/><stop offset="0.4380" stop-color="#8ce628"/><stop offset="0.5198" stop-color="#c3f432"/><stop offset="0.6016" stop-color="#dcf934"/><stop offset="0.7108" stop-color="#ebfc34"/><stop offset="0.9836" stop-color="#f3fd34"/><stop offset="0.9837" stop-color="#ffff33"/><stop offset="0.9944" stop-color="#ffff33"/></linearGradient><linearGradient id="g79" gradientUnits="userSpaceOnUse" x1="153.44" y1="0" x2="244.16" y2="0"><stop offset="0.0055" stop-color="#3e48ee"/><stop offset="0.0869" stop-color="#3755dc"/><stop offset="0.0869" stop-color="#3266ba"/><stop offset="0.1773" stop-color="#28877a"/><stop offset="0.1773" stop-color="#1e9850"/><stop offset="0.2048" stop-color="#08b914"/><stop offset="0.2277" stop-color="#02c308"/><stop offset="0.2689" stop-color="#02c406"/><stop offset="0.2689" stop-color="#05c408"/><stop offset="0.3504" stop-color="#3cd214"/><stop offset="0.4319" stop-color="#73df21"/><stop offset="0.4319" stop-color="#8ce628"/><stop offset="0.5125" stop-color="#c3f432"/><stop offset="0.5932" stop-color="#dcf934"/><stop offset="0.7007" stop-color="#ebfc34"/><stop offset="0.9696" stop-color="#f3fd34"/><stop offset="0.9697" stop-color="#ffff33"/><stop offset="0.9945" stop-color="#ffff33"/></linearGradient><linearGradient id="g80" gradientUnits="userSpaceOnUse" x1="152.86" y1="0" x2="244.74" y2="0"><stop offset="0.0054" stop-color="#3e48ee"/><stop offset="0.0858" stop-color="#3755dc"/><stop offset="0.0858" stop-color="#3266ba"/><stop offset="0.1748" stop-color="#28877a"/><stop offset="0.1748" stop-color="#1e9850"/><stop offset="0.2019" stop-color="#08b914"/><stop offset="0.2245" stop-color="#02c308"/><stop offset="0.2653" stop-color="#02c406"/><stop offset="0.2653" stop-color="#05c408"/><stop offset="0.3456" stop-color="#3cd214"/><stop offset="0.4259" stop-color="#73df21"/><stop offset="0.4259" stop-color="#8ce628"/><stop offset="0.5054" stop-color="#c3f432"/><stop offset="0.5849" stop-color="#dcf934"/><stop offset="0.6909" stop-color="#ebfc34"/><stop offset="0.9559" stop-color="#f3fd34"/><stop offset="0.9561" stop-color="#ffff33"/><stop offset="0.9946" stop-color="#ffff33"/></linearGradient><linearGradient id="g81" gradientUnits="userSpaceOnUse" x1="152.28" y1="0" x2="245.32" y2="0"><stop offset="0.0054" stop-color="#3e48ee"/><stop offset="0.0847" stop-color="#3755dc"/><stop offset="0.0847" stop-color="#3266ba"/><stop offset="0.1723" stop-color="#28877a"/><stop offset="0.1723" stop-color="#1e9850"/><stop offset="0.1991" stop-color="#08b914"/><stop offset="0.2215" stop-color="#02c308"/><stop offset="0.2617" stop-color="#02c406"/><stop offset="0.2617" stop-color="#05c408"/><stop offset="0.3409" stop-color="#3cd214"/><stop offset="0.4201" stop-color="#73df21"/><stop offset="0.4201" stop-color="#8ce628"/><stop offset="0.4985" stop-color="#c3f432"/><stop offset="0.5769" stop-color="#dcf934"/><stop offset="0.6814" stop-color="#ebfc34"/><stop offset="0.9426" stop-color="#f3fd34"/><stop offset="0.9428" stop-color="#ffff33"/><stop offset="0.9946" stop-color="#ffff33"/></linearGradient><linearGradient id="g82" gradientUnits="userSpaceOnUse" x1="151.70" y1="0" x2="245.90" y2="0"><stop offset="0.0053" stop-color="#3e48ee"/><stop offset="0.0836" stop-color="#3755dc"/><stop offset="0.0836" stop-color="#3266ba"/><stop offset="0.1699" stop-color="#28877a"/><stop offset="0.1699" stop-color="#1e9850"/><stop offset="0.1964" stop-color="#08b914"/><stop offset="0.2185" stop-color="#02c308"/><stop offset="0.2583" stop-color="#02c406"/><stop offset="0.2583" stop-color="#05c408"/><stop offset="0.3364" stop-color="#3cd214"/><stop offset="0.4144" stop-color="#73df21"/><stop offset="0.4144" stop-color="#8ce628"/><stop offset="0.5004" stop-color="#c3f432"/><stop offset="0.5863" stop-color="#dcf934"/><stop offset="0.7009" stop-color="#ebfc34"/><stop offset="0.9874" stop-color="#f3fd34"/><stop offset="0.9875" stop-color="#ffff33"/><stop offset="0.9947" stop-color="#ffff33"/></linearGradient><linearGradient id="g83" gradientUnits="userSpaceOnUse" x1="151.13" y1="0" x2="246.47" y2="0"><stop offset="0.0052" stop-color="#3e48ee"/><stop offset="0.0826" stop-color="#3755dc"/><stop offset="0.0826" stop-color="#3266ba"/><stop offset="0.1676" stop-color="#28877a"/><stop offset="0.1676" stop-color="#1e9850"/><stop offset="0.1938" stop-color="#08b914"/><stop offset="0.2156" stop-color="#02c308"/><stop offset="0.2549" stop-color="#02c406"/><stop offset="0.2549" stop-color="#05c408"/><stop offset="0.3319" stop-color="#3cd214"/><stop offset="0.4089" stop-color="#73df21"/><stop offset="0.4089" stop-color="#8ce628"/><stop offset="0.4933" stop-color="#c3f432"/><stop offset="0.5776" stop-color="#dcf934"/><stop offset="0.6901" stop-color="#ebfc34"/><stop offset="0.9714" stop-color="#f3fd34"/><stop offset="0.9715" stop-color="#ffff33"/><stop offset="0.9948" stop-color="#ffff33"/></linearGradient><linearGradient id="g84" gradientUnits="userSpaceOnUse" x1="150.55" y1="0" x2="247.05" y2="0"><stop offset="0.0052" stop-color="#3e48ee"/><stop offset="0.0816" stop-color="#3755dc"/><stop offset="0.0816" stop-color="#3266ba"/><stop offset="0.1653" stop-color="#28877a"/><stop offset="0.1653" stop-color="#1e9850"/><stop offset="0.1912" stop-color="#08b914"/><stop offset="0.2128" stop-color="#02c308"/><stop offset="0.2516" stop-color="#02c406"/><stop offset="0.2516" stop-color="#05c408"/><stop offset="0.3276" stop-color="#3cd214"/><stop offset="0.4035" stop-color="#73df21"/><stop offset="0.4035" stop-color="#8ce628"/><stop offset="0.4863" stop-color="#c3f432"/><stop offset="0.5692" stop-color="#dcf934"/><stop offset="0.6796" stop-color="#ebfc34"/><stop offset="0.9557" stop-color="#f3fd34"/><stop offset="0.9558" stop-color="#ffff33"/><stop offset="0.9948" stop-color="#ffff33"/></linearGradient><linearGradient id="g85" gradientUnits="userSpaceOnUse" x1="149.97" y1="0" x2="247.63" y2="0"><stop offset="0.0051" stop-color="#3e48ee"/><stop offset="0.0806" stop-color="#3755dc"/><stop offset="0.0806" stop-color="#3266ba"/><stop offset="0.1631" stop-color="#28877a"/><stop offset="0.1631" stop-color="#1e9850"/><stop offset="0.1887" stop-color="#08b914"/><stop offset="0.2100" stop-color="#02c308"/><stop offset="0.2484" stop-color="#02c406"/><stop offset="0.2484" stop-color="#05c408"/><stop offset="0.3233" stop-color="#3cd214"/><stop offset="0.3982" stop-color="#73df21"/><stop offset="0.3982" stop-color="#8ce628"/><stop offset="0.4796" stop-color="#c3f432"/><stop offset="0.5609" stop-color="#dcf934"/><stop offset="0.6694" stop-color="#ebfc34"/><stop offset="0.9405" stop-color="#f3fd34"/><stop offset="0.9406" stop-color="#ffff33"/><stop offset="0.9949" stop-color="#ffff33"/></linearGradient><linearGradient id="g86" gradientUnits="userSpaceOnUse" x1="149.39" y1="0" x2="248.21" y2="0"><stop offset="0.0051" stop-color="#3e48ee"/><stop offset="0.0796" stop-color="#3755dc"/><stop offset="0.0796" stop-color="#3266ba"/><stop offset="0.1610" stop-color="#28877a"/><stop offset="0.1610" stop-color="#1e9850"/><stop offset="0.1863" stop-color="#08b914"/><stop offset="0.2073" stop-color="#02c308"/><stop offset="0.2453" stop-color="#02c406"/><stop offset="0.2453" stop-color="#05c408"/><stop offset="0.3192" stop-color="#3cd214"/><stop offset="0.3931" stop-color="#73df21"/><stop offset="0.3931" stop-color="#8ce628"/><stop offset="0.4730" stop-color="#c3f432"/><stop offset="0.5528" stop-color="#dcf934"/><stop offset="0.6593" stop-color="#ebfc34"/><stop offset="0.9256" stop-color="#f3fd34"/><stop offset="0.9257" stop-color="#ffff33"/><stop offset="0.9949" stop-color="#ffff33"/></linearGradient><linearGradient id="g87" gradientUnits="userSpaceOnUse" x1="148.82" y1="0" x2="248.78" y2="0"><stop offset="0.0050" stop-color="#3e48ee"/><stop offset="0.0787" stop-color="#3755dc"/><stop offset="0.0787" stop-color="#3266ba"/><stop offset="0.1588" stop-color="#28877a"/><stop offset="0.1588" stop-color="#1e9850"/><stop offset="0.1839" stop-color="#08b914"/><stop offset="0.2047" stop-color="#02c308"/><stop offset="0.2422" stop-color="#02c406"/><stop offset="0.2422" stop-color="#05c408"/><stop offset="0.3151" stop-color="#3cd214"/><stop offset="0.3881" stop-color="#73df21"/><stop offset="0.3881" stop-color="#8ce628"/><stop offset="0.4665" stop-color="#c3f432"/><stop offset="0.5449" stop-color="#dcf934"/><stop offset="0.6495" stop-color="#ebfc34"/><stop offset="0.9110" stop-color="#f3fd34"/><stop offset="0.9111" stop-color="#ffff33"/><stop offset="0.9950" stop-color="#ffff33"/></linearGradient><linearGradient id="g88" gradientUnits="userSpaceOnUse" x1="148.24" y1="0" x2="249.36" y2="0"><stop offset="0.0049" stop-color="#3e48ee"/><stop offset="0.0777" stop-color="#3755dc"/><stop offset="0.0777" stop-color="#3266ba"/><stop offset="0.1568" stop-color="#28877a"/><stop offset="0.1568" stop-color="#1e9850"/><stop offset="0.1815" stop-color="#08b914"/><stop offset="0.2021" stop-color="#02c308"/><stop offset="0.2392" stop-color="#02c406"/><stop offset="0.2392" stop-color="#05c408"/><stop offset="0.3112" stop-color="#3cd214"/><stop offset="0.3831" stop-color="#73df21"/><stop offset="0.3831" stop-color="#8ce628"/><stop offset="0.4600" stop-color="#c3f432"/><stop offset="0.5369" stop-color="#dcf934"/><stop offset="0.6394" stop-color="#ebfc34"/><stop offset="0.8956" stop-color="#f3fd34"/><stop offset="0.8957" stop-color="#ffff33"/><stop offset="0.9951" stop-color="#ffff33"/></linearGradient><linearGradient id="g89" gradientUnits="userSpaceOnUse" x1="147.66" y1="0" x2="249.94" y2="0"><stop offset="0.0049" stop-color="#3e48ee"/><stop offset="0.0768" stop-color="#3755dc"/><stop offset="0.0768" stop-color="#3266ba"/><stop offset="0.1547" stop-color="#28877a"/><stop offset="0.1547" stop-color="#1e9850"/><stop offset="0.1792" stop-color="#08b914"/><stop offset="0.1996" stop-color="#02c308"/><stop offset="0.2363" stop-color="#02c406"/><stop offset="0.2363" stop-color="#05c408"/><stop offset="0.3073" stop-color="#3cd214"/><stop offset="0.3783" stop-color="#73df21"/><stop offset="0.3783" stop-color="#8ce628"/><stop offset="0.4536" stop-color="#c3f432"/><stop offset="0.5288" stop-color="#dcf934"/><stop offset="0.6291" stop-color="#ebfc34"/><stop offset="0.8798" stop-color="#f3fd34"/><stop offset="0.8799" stop-color="#ffff33"/><stop offset="0.9951" stop-color="#ffff33"/></linearGradient><linearGradient id="g90" gradientUnits="userSpaceOnUse" x1="147.08" y1="0" x2="250.52" y2="0"><stop offset="0.0048" stop-color="#3e48ee"/><stop offset="0.0760" stop-color="#3755dc"/><stop offset="0.0760" stop-color="#3266ba"/><stop offset="0.1528" stop-color="#28877a"/><stop offset="0.1528" stop-color="#1e9850"/><stop offset="0.1770" stop-color="#08b914"/><stop offset="0.1971" stop-color="#02c308"/><stop offset="0.2334" stop-color="#02c406"/><stop offset="0.2334" stop-color="#05c408"/><stop offset="0.3035" stop-color="#3cd214"/><stop offset="0.3736" stop-color="#73df21"/><stop offset="0.3736" stop-color="#8ce628"/><stop offset="0.4473" stop-color="#c3f432"/><stop offset="0.5209" stop-color="#dcf934"/><stop offset="0.6190" stop-color="#ebfc34"/><stop offset="0.8644" stop-color="#f3fd34"/><stop offset="0.8645" stop-color="#ffff33"/><stop offset="0.9952" stop-color="#ffff33"/></linearGradient><linearGradient id="g91" gradientUnits="userSpaceOnUse" x1="146.51" y1="0" x2="251.09" y2="0"><stop offset="0.0048" stop-color="#3e48ee"/><stop offset="0.0751" stop-color="#3755dc"/><stop offset="0.0751" stop-color="#3266ba"/><stop offset="0.1508" stop-color="#28877a"/><stop offset="0.1508" stop-color="#1e9850"/><stop offset="0.1748" stop-color="#08b914"/><stop offset="0.1947" stop-color="#02c308"/><stop offset="0.2306" stop-color="#02c406"/><stop offset="0.2306" stop-color="#05c408"/><stop offset="0.2999" stop-color="#3cd214"/><stop offset="0.3691" stop-color="#73df21"/><stop offset="0.3691" stop-color="#8ce628"/><stop offset="0.4411" stop-color="#c3f432"/><stop offset="0.5131" stop-color="#dcf934"/><stop offset="0.6092" stop-color="#ebfc34"/><stop offset="0.8493" stop-color="#f3fd34"/><stop offset="0.8494" stop-color="#ffff33"/><stop offset="0.9952" stop-color="#ffff33"/></linearGradient><linearGradient id="g92" gradientUnits="userSpaceOnUse" x1="145.93" y1="0" x2="251.67" y2="0"><stop offset="0.0047" stop-color="#3e48ee"/><stop offset="0.0742" stop-color="#3755dc"/><stop offset="0.0742" stop-color="#3266ba"/><stop offset="0.1489" stop-color="#28877a"/><stop offset="0.1489" stop-color="#1e9850"/><stop offset="0.1726" stop-color="#08b914"/><stop offset="0.1924" stop-color="#02c308"/><stop offset="0.2279" stop-color="#02c406"/><stop offset="0.2279" stop-color="#05c408"/><stop offset="0.2962" stop-color="#3cd214"/><stop offset="0.3646" stop-color="#73df21"/><stop offset="0.3646" stop-color="#8ce628"/><stop offset="0.4351" stop-color="#c3f432"/><stop offset="0.5056" stop-color="#dcf934"/><stop offset="0.5995" stop-color="#ebfc34"/><stop offset="0.8345" stop-color="#f3fd34"/><stop offset="0.8346" stop-color="#ffff33"/><stop offset="0.9953" stop-color="#ffff33"/></linearGradient><linearGradient id="g93" gradientUnits="userSpaceOnUse" x1="145.35" y1="0" x2="252.25" y2="0"><stop offset="0.0047" stop-color="#3e48ee"/><stop offset="0.0734" stop-color="#3755dc"/><stop offset="0.0734" stop-color="#3266ba"/><stop offset="0.1471" stop-color="#28877a"/><stop offset="0.1471" stop-color="#1e9850"/><stop offset="0.1705" stop-color="#08b914"/><stop offset="0.1901" stop-color="#02c308"/><stop offset="0.2252" stop-color="#02c406"/><stop offset="0.2252" stop-color="#05c408"/><stop offset="0.2927" stop-color="#3cd214"/><stop offset="0.3602" stop-color="#73df21"/><stop offset="0.3602" stop-color="#8ce628"/><stop offset="0.4292" stop-color="#c3f432"/><stop offset="0.4981" stop-color="#dcf934"/><stop offset="0.5901" stop-color="#ebfc34"/><stop offset="0.8201" stop-color="#f3fd34"/><stop offset="0.8202" stop-color="#ffff33"/><stop offset="0.9953" stop-color="#ffff33"/></linearGradient><linearGradient id="g94" gradientUnits="userSpaceOnUse" x1="144.77" y1="0" x2="252.83" y2="0"><stop offset="0.0046" stop-color="#3e48ee"/><stop offset="0.0726" stop-color="#3755dc"/><stop offset="0.0726" stop-color="#3266ba"/><stop offset="0.1453" stop-color="#28877a"/><stop offset="0.1453" stop-color="#1e9850"/><stop offset="0.1685" stop-color="#08b914"/><stop offset="0.1878" stop-color="#02c308"/><stop offset="0.2226" stop-color="#02c406"/><stop offset="0.2226" stop-color="#05c408"/><stop offset="0.2892" stop-color="#3cd214"/><stop offset="0.3559" stop-color="#73df21"/><stop offset="0.3559" stop-color="#8ce628"/><stop offset="0.4237" stop-color="#c3f432"/><stop offset="0.4916" stop-color="#dcf934"/><stop offset="0.5820" stop-color="#ebfc34"/><stop offset="0.8082" stop-color="#f3fd34"/><stop offset="0.8083" stop-color="#ffff33"/><stop offset="0.9954" stop-color="#ffff33"/></linearGradient><linearGradient id="g95" gradientUnits="userSpaceOnUse" x1="144.20" y1="0" x2="253.40" y2="0"><stop offset="0.0046" stop-color="#3e48ee"/><stop offset="0.0718" stop-color="#3755dc"/><stop offset="0.0718" stop-color="#3266ba"/><stop offset="0.1435" stop-color="#28877a"/><stop offset="0.1435" stop-color="#1e9850"/><stop offset="0.1665" stop-color="#08b914"/><stop offset="0.1856" stop-color="#02c308"/><stop offset="0.2201" stop-color="#02c406"/><stop offset="0.2201" stop-color="#05c408"/><stop offset="0.2859" stop-color="#3cd214"/><stop offset="0.3517" stop-color="#73df21"/><stop offset="0.3517" stop-color="#8ce628"/><stop offset="0.4184" stop-color="#c3f432"/><stop offset="0.4852" stop-color="#dcf934"/><stop offset="0.5742" stop-color="#ebfc34"/><stop offset="0.7967" stop-color="#f3fd34"/><stop offset="0.7968" stop-color="#ffff33"/><stop offset="0.9954" stop-color="#ffff33"/></linearGradient><linearGradient id="g96" gradientUnits="userSpaceOnUse" x1="143.62" y1="0" x2="253.98" y2="0"><stop offset="0.0045" stop-color="#3e48ee"/><stop offset="0.0710" stop-color="#3755dc"/><stop offset="0.0710" stop-color="#3266ba"/><stop offset="0.1418" stop-color="#28877a"/><stop offset="0.1418" stop-color="#1e9850"/><stop offset="0.1645" stop-color="#08b914"/><stop offset="0.1835" stop-color="#02c308"/><stop offset="0.2175" stop-color="#02c406"/><stop offset="0.2175" stop-color="#05c408"/><stop offset="0.2825" stop-color="#3cd214"/><stop offset="0.3475" stop-color="#73df21"/><stop offset="0.3475" stop-color="#8ce628"/><stop offset="0.4132" stop-color="#c3f432"/><stop offset="0.4789" stop-color="#dcf934"/><stop offset="0.5665" stop-color="#ebfc34"/><stop offset="0.7856" stop-color="#f3fd34"/><stop offset="0.7856" stop-color="#ffff33"/><stop offset="0.9955" stop-color="#ffff33"/></linearGradient><linearGradient id="g97" gradientUnits="userSpaceOnUse" x1="143.04" y1="0" x2="254.56" y2="0"><stop offset="0.0045" stop-color="#3e48ee"/><stop offset="0.0703" stop-color="#3755dc"/><stop offset="0.0703" stop-color="#3266ba"/><stop offset="0.1401" stop-color="#28877a"/><stop offset="0.1401" stop-color="#1e9850"/><stop offset="0.1626" stop-color="#08b914"/><stop offset="0.1813" stop-color="#02c308"/><stop offset="0.2151" stop-color="#02c406"/><stop offset="0.2151" stop-color="#05c408"/><stop offset="0.2793" stop-color="#3cd214"/><stop offset="0.3435" stop-color="#73df21"/><stop offset="0.3435" stop-color="#8ce628"/><stop offset="0.4082" stop-color="#c3f432"/><stop offset="0.4728" stop-color="#dcf934"/><stop offset="0.5591" stop-color="#ebfc34"/><stop offset="0.7746" stop-color="#f3fd34"/><stop offset="0.7747" stop-color="#ffff33"/><stop offset="0.9955" stop-color="#ffff33"/></linearGradient><linearGradient id="g98" gradientUnits="userSpaceOnUse" x1="142.46" y1="0" x2="255.14" y2="0"><stop offset="0.0044" stop-color="#3e48ee"/><stop offset="0.0695" stop-color="#3755dc"/><stop offset="0.0695" stop-color="#3266ba"/><stop offset="0.1384" stop-color="#28877a"/><stop offset="0.1384" stop-color="#1e9850"/><stop offset="0.1607" stop-color="#08b914"/><stop offset="0.1793" stop-color="#02c308"/><stop offset="0.2127" stop-color="#02c406"/><stop offset="0.2127" stop-color="#05c408"/><stop offset="0.2761" stop-color="#3cd214"/><stop offset="0.3396" stop-color="#73df21"/><stop offset="0.3396" stop-color="#8ce628"/><stop offset="0.4032" stop-color="#c3f432"/><stop offset="0.4669" stop-color="#dcf934"/><stop offset="0.5517" stop-color="#ebfc34"/><stop offset="0.7639" stop-color="#f3fd34"/><stop offset="0.7640" stop-color="#ffff33"/><stop offset="0.9956" stop-color="#ffff33"/></linearGradient><linearGradient id="g99" gradientUnits="userSpaceOnUse" x1="141.89" y1="0" x2="255.71" y2="0"><stop offset="0.0044" stop-color="#3e48ee"/><stop offset="0.0688" stop-color="#3755dc"/><stop offset="0.0688" stop-color="#3266ba"/><stop offset="0.1368" stop-color="#28877a"/><stop offset="0.1368" stop-color="#1e9850"/><stop offset="0.1588" stop-color="#08b914"/><stop offset="0.1772" stop-color="#02c308"/><stop offset="0.2103" stop-color="#02c406"/><stop offset="0.2103" stop-color="#05c408"/><stop offset="0.2730" stop-color="#3cd214"/><stop offset="0.3357" stop-color="#73df21"/><stop offset="0.3357" stop-color="#8ce628"/><stop offset="0.3983" stop-color="#c3f432"/><stop offset="0.4610" stop-color="#dcf934"/><stop offset="0.5445" stop-color="#ebfc34"/><stop offset="0.7534" stop-color="#f3fd34"/><stop offset="0.7534" stop-color="#ffff33"/><stop offset="0.9956" stop-color="#ffff33"/></linearGradient><linearGradient id="g100" gradientUnits="userSpaceOnUse" x1="141.31" y1="0" x2="256.29" y2="0"><stop offset="0.0043" stop-color="#3e48ee"/><stop offset="0.0681" stop-color="#3755dc"/><stop offset="0.0681" stop-color="#3266ba"/><stop offset="0.1352" stop-color="#28877a"/><stop offset="0.1352" stop-color="#1e9850"/><stop offset="0.1570" stop-color="#08b914"/><stop offset="0.1752" stop-color="#02c308"/><stop offset="0.2080" stop-color="#02c406"/><stop offset="0.2080" stop-color="#05c408"/><stop offset="0.2700" stop-color="#3cd214"/><stop offset="0.3319" stop-color="#73df21"/><stop offset="0.3319" stop-color="#8ce628"/><stop offset="0.3936" stop-color="#c3f432"/><stop offset="0.4552" stop-color="#dcf934"/><stop offset="0.5375" stop-color="#ebfc34"/><stop offset="0.7431" stop-color="#f3fd34"/><stop offset="0.7431" stop-color="#ffff33"/><stop offset="0.9957" stop-color="#ffff33"/></linearGradient><linearGradient id="g101" gradientUnits="userSpaceOnUse" x1="140.73" y1="0" x2="256.87" y2="0"><stop offset="0.0043" stop-color="#3e48ee"/><stop offset="0.0674" stop-color="#3755dc"/><stop offset="0.0674" stop-color="#3266ba"/><stop offset="0.1336" stop-color="#28877a"/><stop offset="0.1336" stop-color="#1e9850"/><stop offset="0.1553" stop-color="#08b914"/><stop offset="0.1733" stop-color="#02c308"/><stop offset="0.2057" stop-color="#02c406"/><stop offset="0.2057" stop-color="#05c408"/><stop offset="0.2670" stop-color="#3cd214"/><stop offset="0.3282" stop-color="#73df21"/><stop offset="0.3282" stop-color="#8ce628"/><stop offset="0.3890" stop-color="#c3f432"/><stop offset="0.4497" stop-color="#dcf934"/><stop offset="0.5308" stop-color="#ebfc34"/><stop offset="0.7333" stop-color="#f3fd34"/><stop offset="0.7334" stop-color="#ffff33"/><stop offset="0.9957" stop-color="#ffff33"/></linearGradient><linearGradient id="g102" gradientUnits="userSpaceOnUse" x1="140.16" y1="0" x2="257.44" y2="0"><stop offset="0.0043" stop-color="#3e48ee"/><stop offset="0.0667" stop-color="#3755dc"/><stop offset="0.0667" stop-color="#3266ba"/><stop offset="0.1321" stop-color="#28877a"/><stop offset="0.1321" stop-color="#1e9850"/><stop offset="0.1535" stop-color="#08b914"/><stop offset="0.1714" stop-color="#02c308"/><stop offset="0.2035" stop-color="#02c406"/><stop offset="0.2035" stop-color="#05c408"/><stop offset="0.2640" stop-color="#3cd214"/><stop offset="0.3245" stop-color="#73df21"/><stop offset="0.3245" stop-color="#8ce628"/><stop offset="0.3845" stop-color="#c3f432"/><stop offset="0.4444" stop-color="#dcf934"/><stop offset="0.5244" stop-color="#ebfc34"/><stop offset="0.7242" stop-color="#f3fd34"/><stop offset="0.7243" stop-color="#ffff33"/><stop offset="0.9957" stop-color="#ffff33"/></linearGradient><linearGradient id="g103" gradientUnits="userSpaceOnUse" x1="139.58" y1="0" x2="258.02" y2="0"><stop offset="0.0042" stop-color="#3e48ee"/><stop offset="0.0660" stop-color="#3755dc"/><stop offset="0.0660" stop-color="#3266ba"/><stop offset="0.1306" stop-color="#28877a"/><stop offset="0.1306" stop-color="#1e9850"/><stop offset="0.1518" stop-color="#08b914"/><stop offset="0.1695" stop-color="#02c308"/><stop offset="0.2013" stop-color="#02c406"/><stop offset="0.2013" stop-color="#05c408"/><stop offset="0.2612" stop-color="#3cd214"/><stop offset="0.3210" stop-color="#73df21"/><stop offset="0.3210" stop-color="#8ce628"/><stop offset="0.3801" stop-color="#c3f432"/><stop offset="0.4392" stop-color="#dcf934"/><stop offset="0.5181" stop-color="#ebfc34"/><stop offset="0.7152" stop-color="#f3fd34"/><stop offset="0.7153" stop-color="#ffff33"/><stop offset="0.9958" stop-color="#ffff33"/></linearGradient><linearGradient id="g104" gradientUnits="userSpaceOnUse" x1="139.00" y1="0" x2="258.60" y2="0"><stop offset="0.0042" stop-color="#3e48ee"/><stop offset="0.0653" stop-color="#3755dc"/><stop offset="0.0653" stop-color="#3266ba"/><stop offset="0.1291" stop-color="#28877a"/><stop offset="0.1291" stop-color="#1e9850"/><stop offset="0.1501" stop-color="#08b914"/><stop offset="0.1677" stop-color="#02c308"/><stop offset="0.1992" stop-color="#02c406"/><stop offset="0.1992" stop-color="#05c408"/><stop offset="0.2583" stop-color="#3cd214"/><stop offset="0.3175" stop-color="#73df21"/><stop offset="0.3175" stop-color="#8ce628"/><stop offset="0.3758" stop-color="#c3f432"/><stop offset="0.4341" stop-color="#dcf934"/><stop offset="0.5119" stop-color="#ebfc34"/><stop offset="0.7064" stop-color="#f3fd34"/><stop offset="0.7065" stop-color="#ffff33"/><stop offset="0.9958" stop-color="#ffff33"/></linearGradient><linearGradient id="g105" gradientUnits="userSpaceOnUse" x1="138.42" y1="0" x2="259.18" y2="0"><stop offset="0.0041" stop-color="#3e48ee"/><stop offset="0.0647" stop-color="#3755dc"/><stop offset="0.0647" stop-color="#3266ba"/><stop offset="0.1277" stop-color="#28877a"/><stop offset="0.1277" stop-color="#1e9850"/><stop offset="0.1485" stop-color="#08b914"/><stop offset="0.1659" stop-color="#02c308"/><stop offset="0.1971" stop-color="#02c406"/><stop offset="0.1971" stop-color="#05c408"/><stop offset="0.2556" stop-color="#3cd214"/><stop offset="0.3140" stop-color="#73df21"/><stop offset="0.3140" stop-color="#8ce628"/><stop offset="0.3716" stop-color="#c3f432"/><stop offset="0.4291" stop-color="#dcf934"/><stop offset="0.5059" stop-color="#ebfc34"/><stop offset="0.6977" stop-color="#f3fd34"/><stop offset="0.6978" stop-color="#ffff33"/><stop offset="0.9959" stop-color="#ffff33"/></linearGradient><linearGradient id="g106" gradientUnits="userSpaceOnUse" x1="137.85" y1="0" x2="259.75" y2="0"><stop offset="0.0041" stop-color="#3e48ee"/><stop offset="0.0641" stop-color="#3755dc"/><stop offset="0.0641" stop-color="#3266ba"/><stop offset="0.1262" stop-color="#28877a"/><stop offset="0.1262" stop-color="#1e9850"/><stop offset="0.1469" stop-color="#08b914"/><stop offset="0.1641" stop-color="#02c308"/><stop offset="0.1951" stop-color="#02c406"/><stop offset="0.1951" stop-color="#05c408"/><stop offset="0.2529" stop-color="#3cd214"/><stop offset="0.3106" stop-color="#73df21"/><stop offset="0.3106" stop-color="#8ce628"/><stop offset="0.3674" stop-color="#c3f432"/><stop offset="0.4242" stop-color="#dcf934"/><stop offset="0.5000" stop-color="#ebfc34"/><stop offset="0.6893" stop-color="#f3fd34"/><stop offset="0.6893" stop-color="#ffff33"/><stop offset="0.9959" stop-color="#ffff33"/></linearGradient><linearGradient id="g107" gradientUnits="userSpaceOnUse" x1="137.27" y1="0" x2="260.33" y2="0"><stop offset="0.0041" stop-color="#3e48ee"/><stop offset="0.0634" stop-color="#3755dc"/><stop offset="0.0634" stop-color="#3266ba"/><stop offset="0.1248" stop-color="#28877a"/><stop offset="0.1248" stop-color="#1e9850"/><stop offset="0.1453" stop-color="#08b914"/><stop offset="0.1624" stop-color="#02c308"/><stop offset="0.1930" stop-color="#02c406"/><stop offset="0.1930" stop-color="#05c408"/><stop offset="0.2502" stop-color="#3cd214"/><stop offset="0.3073" stop-color="#73df21"/><stop offset="0.3073" stop-color="#8ce628"/><stop offset="0.3634" stop-color="#c3f432"/><stop offset="0.4194" stop-color="#dcf934"/><stop offset="0.4941" stop-color="#ebfc34"/><stop offset="0.6809" stop-color="#f3fd34"/><stop offset="0.6810" stop-color="#ffff33"/><stop offset="0.9959" stop-color="#ffff33"/></linearGradient><linearGradient id="g108" gradientUnits="userSpaceOnUse" x1="136.69" y1="0" x2="260.91" y2="0"><stop offset="0.0040" stop-color="#3e48ee"/><stop offset="0.0628" stop-color="#3755dc"/><stop offset="0.0628" stop-color="#3266ba"/><stop offset="0.1235" stop-color="#28877a"/><stop offset="0.1235" stop-color="#1e9850"/><stop offset="0.1438" stop-color="#08b914"/><stop offset="0.1607" stop-color="#02c308"/><stop offset="0.1911" stop-color="#02c406"/><stop offset="0.1911" stop-color="#05c408"/><stop offset="0.2476" stop-color="#3cd214"/><stop offset="0.3041" stop-color="#73df21"/><stop offset="0.3041" stop-color="#8ce628"/><stop offset="0.3594" stop-color="#c3f432"/><stop offset="0.4147" stop-color="#dcf934"/><stop offset="0.4884" stop-color="#ebfc34"/><stop offset="0.6728" stop-color="#f3fd34"/><stop offset="0.6729" stop-color="#ffff33"/><stop offset="0.9960" stop-color="#ffff33"/></linearGradient><linearGradient id="g109" gradientUnits="userSpaceOnUse" x1="136.11" y1="0" x2="261.49" y2="0"><stop offset="0.0040" stop-color="#3e48ee"/><stop offset="0.0622" stop-color="#3755dc"/><stop offset="0.0622" stop-color="#3266ba"/><stop offset="0.1221" stop-color="#28877a"/><stop offset="0.1221" stop-color="#1e9850"/><stop offset="0.1422" stop-color="#08b914"/><stop offset="0.1590" stop-color="#02c308"/><stop offset="0.1891" stop-color="#02c406"/><stop offset="0.1891" stop-color="#05c408"/><stop offset="0.2450" stop-color="#3cd214"/><stop offset="0.3009" stop-color="#73df21"/><stop offset="0.3009" stop-color="#8ce628"/><stop offset="0.3555" stop-color="#c3f432"/><stop offset="0.4101" stop-color="#dcf934"/><stop offset="0.4829" stop-color="#ebfc34"/><stop offset="0.6648" stop-color="#f3fd34"/><stop offset="0.6649" stop-color="#ffff33"/><stop offset="0.9960" stop-color="#ffff33"/></linearGradient><linearGradient id="g110" gradientUnits="userSpaceOnUse" x1="135.54" y1="0" x2="262.06" y2="0"><stop offset="0.0040" stop-color="#3e48ee"/><stop offset="0.0616" stop-color="#3755dc"/><stop offset="0.0616" stop-color="#3266ba"/><stop offset="0.1209" stop-color="#28877a"/><stop offset="0.1209" stop-color="#1e9850"/><stop offset="0.1408" stop-color="#08b914"/><stop offset="0.1574" stop-color="#02c308"/><stop offset="0.1873" stop-color="#02c406"/><stop offset="0.1873" stop-color="#05c408"/><stop offset="0.2426" stop-color="#3cd214"/><stop offset="0.2979" stop-color="#73df21"/><stop offset="0.2979" stop-color="#8ce628"/><stop offset="0.3517" stop-color="#c3f432"/><stop offset="0.4056" stop-color="#dcf934"/><stop offset="0.4775" stop-color="#ebfc34"/><stop offset="0.6571" stop-color="#f3fd34"/><stop offset="0.6572" stop-color="#ffff33"/><stop offset="0.9960" stop-color="#ffff33"/></linearGradient><linearGradient id="g111" gradientUnits="userSpaceOnUse" x1="134.96" y1="0" x2="262.64" y2="0"><stop offset="0.0039" stop-color="#3e48ee"/><stop offset="0.0611" stop-color="#3755dc"/><stop offset="0.0611" stop-color="#3266ba"/><stop offset="0.1197" stop-color="#28877a"/><stop offset="0.1197" stop-color="#1e9850"/><stop offset="0.1395" stop-color="#08b914"/><stop offset="0.1559" stop-color="#02c308"/><stop offset="0.1855" stop-color="#02c406"/><stop offset="0.1855" stop-color="#05c408"/><stop offset="0.2402" stop-color="#3cd214"/><stop offset="0.2950" stop-color="#73df21"/><stop offset="0.2950" stop-color="#8ce628"/><stop offset="0.3482" stop-color="#c3f432"/><stop offset="0.4013" stop-color="#dcf934"/><stop offset="0.4723" stop-color="#ebfc34"/><stop offset="0.6496" stop-color="#f3fd34"/><stop offset="0.6497" stop-color="#ffff33"/><stop offset="0.9961" stop-color="#ffff33"/></linearGradient><linearGradient id="g112" gradientUnits="userSpaceOnUse" x1="134.38" y1="0" x2="263.22" y2="0"><stop offset="0.0039" stop-color="#3e48ee"/><stop offset="0.0605" stop-color="#3755dc"/><stop offset="0.0605" stop-color="#3266ba"/><stop offset="0.1186" stop-color="#28877a"/><stop offset="0.1186" stop-color="#1e9850"/><stop offset="0.1382" stop-color="#08b914"/><stop offset="0.1545" stop-color="#02c308"/><stop offset="0.1838" stop-color="#02c406"/><stop offset="0.1838" stop-color="#05c408"/><stop offset="0.2380" stop-color="#3cd214"/><stop offset="0.2921" stop-color="#73df21"/><stop offset="0.2921" stop-color="#8ce628"/><stop offset="0.3446" stop-color="#c3f432"/><stop offset="0.3971" stop-color="#dcf934"/><stop offset="0.4671" stop-color="#ebfc34"/><stop offset="0.6422" stop-color="#f3fd34"/><stop offset="0.6422" stop-color="#ffff33"/><stop offset="0.9961" stop-color="#ffff33"/></linearGradient><linearGradient id="g113" gradientUnits="userSpaceOnUse" x1="133.80" y1="0" x2="263.80" y2="0"><stop offset="0.0038" stop-color="#3e48ee"/><stop offset="0.0599" stop-color="#3755dc"/><stop offset="0.0599" stop-color="#3266ba"/><stop offset="0.1175" stop-color="#28877a"/><stop offset="0.1175" stop-color="#1e9850"/><stop offset="0.1369" stop-color="#08b914"/><stop offset="0.1530" stop-color="#02c308"/><stop offset="0.1821" stop-color="#02c406"/><stop offset="0.1821" stop-color="#05c408"/><stop offset="0.2357" stop-color="#3cd214"/><stop offset="0.2893" stop-color="#73df21"/><stop offset="0.2893" stop-color="#8ce628"/><stop offset="0.3412" stop-color="#c3f432"/><stop offset="0.3930" stop-color="#dcf934"/><stop offset="0.4621" stop-color="#ebfc34"/><stop offset="0.6349" stop-color="#f3fd34"/><stop offset="0.6350" stop-color="#ffff33"/><stop offset="0.9962" stop-color="#ffff33"/></linearGradient><linearGradient id="g114" gradientUnits="userSpaceOnUse" x1="133.23" y1="0" x2="264.37" y2="0"><stop offset="0.0038" stop-color="#3e48ee"/><stop offset="0.0594" stop-color="#3755dc"/><stop offset="0.0594" stop-color="#3266ba"/><stop offset="0.1164" stop-color="#28877a"/><stop offset="0.1164" stop-color="#1e9850"/><stop offset="0.1356" stop-color="#08b914"/><stop offset="0.1516" stop-color="#02c308"/><stop offset="0.1805" stop-color="#02c406"/><stop offset="0.1805" stop-color="#05c408"/><stop offset="0.2335" stop-color="#3cd214"/><stop offset="0.2866" stop-color="#73df21"/><stop offset="0.2866" stop-color="#8ce628"/><stop offset="0.3377" stop-color="#c3f432"/><stop offset="0.3889" stop-color="#dcf934"/><stop offset="0.4571" stop-color="#ebfc34"/><stop offset="0.6277" stop-color="#f3fd34"/><stop offset="0.6278" stop-color="#ffff33"/><stop offset="0.9962" stop-color="#ffff33"/></linearGradient><linearGradient id="g115" gradientUnits="userSpaceOnUse" x1="132.65" y1="0" x2="264.95" y2="0"><stop offset="0.0038" stop-color="#3e48ee"/><stop offset="0.0589" stop-color="#3755dc"/><stop offset="0.0589" stop-color="#3266ba"/><stop offset="0.1153" stop-color="#28877a"/><stop offset="0.1153" stop-color="#1e9850"/><stop offset="0.1344" stop-color="#08b914"/><stop offset="0.1503" stop-color="#02c308"/><stop offset="0.1788" stop-color="#02c406"/><stop offset="0.1788" stop-color="#05c408"/><stop offset="0.2314" stop-color="#3cd214"/><stop offset="0.2839" stop-color="#73df21"/><stop offset="0.2839" stop-color="#8ce628"/><stop offset="0.3344" stop-color="#c3f432"/><stop offset="0.3849" stop-color="#dcf934"/><stop offset="0.4523" stop-color="#ebfc34"/><stop offset="0.6207" stop-color="#f3fd34"/><stop offset="0.6208" stop-color="#ffff33"/><stop offset="0.9962" stop-color="#ffff33"/></linearGradient><linearGradient id="g116" gradientUnits="userSpaceOnUse" x1="132.07" y1="0" x2="265.53" y2="0"><stop offset="0.0037" stop-color="#3e48ee"/><stop offset="0.0583" stop-color="#3755dc"/><stop offset="0.0583" stop-color="#3266ba"/><stop offset="0.1143" stop-color="#28877a"/><stop offset="0.1143" stop-color="#1e9850"/><stop offset="0.1332" stop-color="#08b914"/><stop offset="0.1489" stop-color="#02c308"/><stop offset="0.1772" stop-color="#02c406"/><stop offset="0.1772" stop-color="#05c408"/><stop offset="0.2292" stop-color="#3cd214"/><stop offset="0.2812" stop-color="#73df21"/><stop offset="0.2812" stop-color="#8ce628"/><stop offset="0.3311" stop-color="#c3f432"/><stop offset="0.3810" stop-color="#dcf934"/><stop offset="0.4475" stop-color="#ebfc34"/><stop offset="0.6138" stop-color="#f3fd34"/><stop offset="0.6138" stop-color="#ffff33"/><stop offset="0.9963" stop-color="#ffff33"/></linearGradient><linearGradient id="g117" gradientUnits="userSpaceOnUse" x1="131.49" y1="0" x2="266.11" y2="0"><stop offset="0.0037" stop-color="#3e48ee"/><stop offset="0.0578" stop-color="#3755dc"/><stop offset="0.0578" stop-color="#3266ba"/><stop offset="0.1133" stop-color="#28877a"/><stop offset="0.1133" stop-color="#1e9850"/><stop offset="0.1320" stop-color="#08b914"/><stop offset="0.1476" stop-color="#02c308"/><stop offset="0.1757" stop-color="#02c406"/><stop offset="0.1757" stop-color="#05c408"/><stop offset="0.2271" stop-color="#3cd214"/><stop offset="0.2786" stop-color="#73df21"/><stop offset="0.2786" stop-color="#8ce628"/><stop offset="0.3279" stop-color="#c3f432"/><stop offset="0.3771" stop-color="#dcf934"/><stop offset="0.4428" stop-color="#ebfc34"/><stop offset="0.6070" stop-color="#f3fd34"/><stop offset="0.6070" stop-color="#ffff33"/><stop offset="0.9963" stop-color="#ffff33"/></linearGradient><linearGradient id="g118" gradientUnits="userSpaceOnUse" x1="130.92" y1="0" x2="266.68" y2="0"><stop offset="0.0037" stop-color="#3e48ee"/><stop offset="0.0573" stop-color="#3755dc"/><stop offset="0.0573" stop-color="#3266ba"/><stop offset="0.1122" stop-color="#28877a"/><stop offset="0.1122" stop-color="#1e9850"/><stop offset="0.1308" stop-color="#08b914"/><stop offset="0.1463" stop-color="#02c308"/><stop offset="0.1741" stop-color="#02c406"/><stop offset="0.1741" stop-color="#05c408"/><stop offset="0.2251" stop-color="#3cd214"/><stop offset="0.2761" stop-color="#73df21"/><stop offset="0.2761" stop-color="#8ce628"/><stop offset="0.3248" stop-color="#c3f432"/><stop offset="0.3735" stop-color="#dcf934"/><stop offset="0.4384" stop-color="#ebfc34"/><stop offset="0.6008" stop-color="#f3fd34"/><stop offset="0.6009" stop-color="#ffff33"/><stop offset="0.9963" stop-color="#ffff33"/></linearGradient><linearGradient id="g119" gradientUnits="userSpaceOnUse" x1="130.34" y1="0" x2="267.26" y2="0"><stop offset="0.0037" stop-color="#3e48ee"/><stop offset="0.0568" stop-color="#3755dc"/><stop offset="0.0568" stop-color="#3266ba"/><stop offset="0.1113" stop-color="#28877a"/><stop offset="0.1113" stop-color="#1e9850"/><stop offset="0.1297" stop-color="#08b914"/><stop offset="0.1450" stop-color="#02c308"/><stop offset="0.1726" stop-color="#02c406"/><stop offset="0.1726" stop-color="#05c408"/><stop offset="0.2231" stop-color="#3cd214"/><stop offset="0.2735" stop-color="#73df21"/><stop offset="0.2735" stop-color="#8ce628"/><stop offset="0.3217" stop-color="#c3f432"/><stop offset="0.3699" stop-color="#dcf934"/><stop offset="0.4342" stop-color="#ebfc34"/><stop offset="0.5948" stop-color="#f3fd34"/><stop offset="0.5949" stop-color="#ffff33"/><stop offset="0.9963" stop-color="#ffff33"/></linearGradient><linearGradient id="g120" gradientUnits="userSpaceOnUse" x1="129.76" y1="0" x2="267.84" y2="0"><stop offset="0.0036" stop-color="#3e48ee"/><stop offset="0.0563" stop-color="#3755dc"/><stop offset="0.0563" stop-color="#3266ba"/><stop offset="0.1103" stop-color="#28877a"/><stop offset="0.1103" stop-color="#1e9850"/><stop offset="0.1285" stop-color="#08b914"/><stop offset="0.1437" stop-color="#02c308"/><stop offset="0.1711" stop-color="#02c406"/><stop offset="0.1711" stop-color="#05c408"/><stop offset="0.2211" stop-color="#3cd214"/><stop offset="0.2711" stop-color="#73df21"/><stop offset="0.2711" stop-color="#8ce628"/><stop offset="0.3187" stop-color="#c3f432"/><stop offset="0.3664" stop-color="#dcf934"/><stop offset="0.4300" stop-color="#ebfc34"/><stop offset="0.5888" stop-color="#f3fd34"/><stop offset="0.5889" stop-color="#ffff33"/><stop offset="0.9964" stop-color="#ffff33"/></linearGradient><linearGradient id="g121" gradientUnits="userSpaceOnUse" x1="129.18" y1="0" x2="268.42" y2="0"><stop offset="0.0036" stop-color="#3e48ee"/><stop offset="0.0558" stop-color="#3755dc"/><stop offset="0.0558" stop-color="#3266ba"/><stop offset="0.1093" stop-color="#28877a"/><stop offset="0.1093" stop-color="#1e9850"/><stop offset="0.1274" stop-color="#08b914"/><stop offset="0.1425" stop-color="#02c308"/><stop offset="0.1696" stop-color="#02c406"/><stop offset="0.1696" stop-color="#05c408"/><stop offset="0.2191" stop-color="#3cd214"/><stop offset="0.2686" stop-color="#73df21"/><stop offset="0.2686" stop-color="#8ce628"/><stop offset="0.3158" stop-color="#c3f432"/><stop offset="0.3629" stop-color="#dcf934"/><stop offset="0.4258" stop-color="#ebfc34"/><stop offset="0.5830" stop-color="#f3fd34"/><stop offset="0.5831" stop-color="#ffff33"/><stop offset="0.9964" stop-color="#ffff33"/></linearGradient><linearGradient id="g122" gradientUnits="userSpaceOnUse" x1="128.61" y1="0" x2="268.99" y2="0"><stop offset="0.0036" stop-color="#3e48ee"/><stop offset="0.0554" stop-color="#3755dc"/><stop offset="0.0554" stop-color="#3266ba"/><stop offset="0.1084" stop-color="#28877a"/><stop offset="0.1084" stop-color="#1e9850"/><stop offset="0.1263" stop-color="#08b914"/><stop offset="0.1413" stop-color="#02c308"/><stop offset="0.1682" stop-color="#02c406"/><stop offset="0.1682" stop-color="#05c408"/><stop offset="0.2172" stop-color="#3cd214"/><stop offset="0.2662" stop-color="#73df21"/><stop offset="0.2662" stop-color="#8ce628"/><stop offset="0.3129" stop-color="#c3f432"/><stop offset="0.3595" stop-color="#dcf934"/><stop offset="0.4217" stop-color="#ebfc34"/><stop offset="0.5772" stop-color="#f3fd34"/><stop offset="0.5773" stop-color="#ffff33"/><stop offset="0.9964" stop-color="#ffff33"/></linearGradient><linearGradient id="g123" gradientUnits="userSpaceOnUse" x1="128.03" y1="0" x2="269.57" y2="0"><stop offset="0.0035" stop-color="#3e48ee"/><stop offset="0.0549" stop-color="#3755dc"/><stop offset="0.0549" stop-color="#3266ba"/><stop offset="0.1074" stop-color="#28877a"/><stop offset="0.1074" stop-color="#1e9850"/><stop offset="0.1252" stop-color="#08b914"/><stop offset="0.1401" stop-color="#02c308"/><stop offset="0.1668" stop-color="#02c406"/><stop offset="0.1668" stop-color="#05c408"/><stop offset="0.2153" stop-color="#3cd214"/><stop offset="0.2639" stop-color="#73df21"/><stop offset="0.2639" stop-color="#8ce628"/><stop offset="0.3100" stop-color="#c3f432"/><stop offset="0.3562" stop-color="#dcf934"/><stop offset="0.4177" stop-color="#ebfc34"/><stop offset="0.5716" stop-color="#f3fd34"/><stop offset="0.5717" stop-color="#ffff33"/><stop offset="0.9965" stop-color="#ffff33"/></linearGradient><linearGradient id="g124" gradientUnits="userSpaceOnUse" x1="127.45" y1="0" x2="270.15" y2="0"><stop offset="0.0035" stop-color="#3e48ee"/><stop offset="0.0544" stop-color="#3755dc"/><stop offset="0.0544" stop-color="#3266ba"/><stop offset="0.1065" stop-color="#28877a"/><stop offset="0.1065" stop-color="#1e9850"/><stop offset="0.1242" stop-color="#08b914"/><stop offset="0.1389" stop-color="#02c308"/><stop offset="0.1654" stop-color="#02c406"/><stop offset="0.1654" stop-color="#05c408"/><stop offset="0.2135" stop-color="#3cd214"/><stop offset="0.2616" stop-color="#73df21"/><stop offset="0.2616" stop-color="#8ce628"/><stop offset="0.3072" stop-color="#c3f432"/><stop offset="0.3529" stop-color="#dcf934"/><stop offset="0.4138" stop-color="#ebfc34"/><stop offset="0.5660" stop-color="#f3fd34"/><stop offset="0.5661" stop-color="#ffff33"/><stop offset="0.9965" stop-color="#ffff33"/></linearGradient><linearGradient id="g125" gradientUnits="userSpaceOnUse" x1="126.87" y1="0" x2="270.73" y2="0"><stop offset="0.0035" stop-color="#3e48ee"/><stop offset="0.0540" stop-color="#3755dc"/><stop offset="0.0540" stop-color="#3266ba"/><stop offset="0.1056" stop-color="#28877a"/><stop offset="0.1056" stop-color="#1e9850"/><stop offset="0.1231" stop-color="#08b914"/><stop offset="0.1377" stop-color="#02c308"/><stop offset="0.1640" stop-color="#02c406"/><stop offset="0.1640" stop-color="#05c408"/><stop offset="0.2116" stop-color="#3cd214"/><stop offset="0.2593" stop-color="#73df21"/><stop offset="0.2593" stop-color="#8ce628"/><stop offset="0.3045" stop-color="#c3f432"/><stop offset="0.3497" stop-color="#dcf934"/><stop offset="0.4099" stop-color="#ebfc34"/><stop offset="0.5606" stop-color="#f3fd34"/><stop offset="0.5606" stop-color="#ffff33"/><stop offset="0.9965" stop-color="#ffff33"/></linearGradient><linearGradient id="g126" gradientUnits="userSpaceOnUse" x1="126.30" y1="0" x2="271.30" y2="0"><stop offset="0.0034" stop-color="#3e48ee"/><stop offset="0.0535" stop-color="#3755dc"/><stop offset="0.0535" stop-color="#3266ba"/><stop offset="0.1047" stop-color="#28877a"/><stop offset="0.1047" stop-color="#1e9850"/><stop offset="0.1221" stop-color="#08b914"/><stop offset="0.1366" stop-color="#02c308"/><stop offset="0.1626" stop-color="#02c406"/><stop offset="0.1626" stop-color="#05c408"/><stop offset="0.2098" stop-color="#3cd214"/><stop offset="0.2570" stop-color="#73df21"/><stop offset="0.2570" stop-color="#8ce628"/><stop offset="0.3018" stop-color="#c3f432"/><stop offset="0.3465" stop-color="#dcf934"/><stop offset="0.4061" stop-color="#ebfc34"/><stop offset="0.5552" stop-color="#f3fd34"/><stop offset="0.5552" stop-color="#ffff33"/><stop offset="0.9966" stop-color="#ffff33"/></linearGradient><linearGradient id="g127" gradientUnits="userSpaceOnUse" x1="125.72" y1="0" x2="271.88" y2="0"><stop offset="0.0034" stop-color="#3e48ee"/><stop offset="0.0531" stop-color="#3755dc"/><stop offset="0.0531" stop-color="#3266ba"/><stop offset="0.1038" stop-color="#28877a"/><stop offset="0.1038" stop-color="#1e9850"/><stop offset="0.1211" stop-color="#08b914"/><stop offset="0.1354" stop-color="#02c308"/><stop offset="0.1613" stop-color="#02c406"/><stop offset="0.1613" stop-color="#05c408"/><stop offset="0.2081" stop-color="#3cd214"/><stop offset="0.2548" stop-color="#73df21"/><stop offset="0.2548" stop-color="#8ce628"/><stop offset="0.2991" stop-color="#c3f432"/><stop offset="0.3434" stop-color="#dcf934"/><stop offset="0.4025" stop-color="#ebfc34"/><stop offset="0.5502" stop-color="#f3fd34"/><stop offset="0.5502" stop-color="#ffff33"/><stop offset="0.9966" stop-color="#ffff33"/></linearGradient><linearGradient id="g128" gradientUnits="userSpaceOnUse" x1="125.14" y1="0" x2="272.46" y2="0"><stop offset="0.0034" stop-color="#3e48ee"/><stop offset="0.0527" stop-color="#3755dc"/><stop offset="0.0527" stop-color="#3266ba"/><stop offset="0.1030" stop-color="#28877a"/><stop offset="0.1030" stop-color="#1e9850"/><stop offset="0.1201" stop-color="#08b914"/><stop offset="0.1343" stop-color="#02c308"/><stop offset="0.1600" stop-color="#02c406"/><stop offset="0.1600" stop-color="#05c408"/><stop offset="0.2063" stop-color="#3cd214"/><stop offset="0.2526" stop-color="#73df21"/><stop offset="0.2526" stop-color="#8ce628"/><stop offset="0.2965" stop-color="#c3f432"/><stop offset="0.3404" stop-color="#dcf934"/><stop offset="0.3990" stop-color="#ebfc34"/><stop offset="0.5453" stop-color="#f3fd34"/><stop offset="0.5453" stop-color="#ffff33"/><stop offset="0.9966" stop-color="#ffff33"/></linearGradient><linearGradient id="g129" gradientUnits="userSpaceOnUse" x1="124.57" y1="0" x2="273.03" y2="0"><stop offset="0.0034" stop-color="#3e48ee"/><stop offset="0.0522" stop-color="#3755dc"/><stop offset="0.0522" stop-color="#3266ba"/><stop offset="0.1021" stop-color="#28877a"/><stop offset="0.1021" stop-color="#1e9850"/><stop offset="0.1191" stop-color="#08b914"/><stop offset="0.1332" stop-color="#02c308"/><stop offset="0.1587" stop-color="#02c406"/><stop offset="0.1587" stop-color="#05c408"/><stop offset="0.2046" stop-color="#3cd214"/><stop offset="0.2505" stop-color="#73df21"/><stop offset="0.2505" stop-color="#8ce628"/><stop offset="0.2940" stop-color="#c3f432"/><stop offset="0.3375" stop-color="#dcf934"/><stop offset="0.3955" stop-color="#ebfc34"/><stop offset="0.5404" stop-color="#f3fd34"/><stop offset="0.5405" stop-color="#ffff33"/><stop offset="0.9966" stop-color="#ffff33"/></linearGradient><linearGradient id="g130" gradientUnits="userSpaceOnUse" x1="123.99" y1="0" x2="273.61" y2="0"><stop offset="0.0033" stop-color="#3e48ee"/><stop offset="0.0518" stop-color="#3755dc"/><stop offset="0.0518" stop-color="#3266ba"/><stop offset="0.1013" stop-color="#28877a"/><stop offset="0.1013" stop-color="#1e9850"/><stop offset="0.1181" stop-color="#08b914"/><stop offset="0.1322" stop-color="#02c308"/><stop offset="0.1574" stop-color="#02c406"/><stop offset="0.1574" stop-color="#05c408"/><stop offset="0.2029" stop-color="#3cd214"/><stop offset="0.2484" stop-color="#73df21"/><stop offset="0.2484" stop-color="#8ce628"/><stop offset="0.2915" stop-color="#c3f432"/><stop offset="0.3346" stop-color="#dcf934"/><stop offset="0.3920" stop-color="#ebfc34"/><stop offset="0.5356" stop-color="#f3fd34"/><stop offset="0.5357" stop-color="#ffff33"/><stop offset="0.9967" stop-color="#ffff33"/></linearGradient><linearGradient id="g131" gradientUnits="userSpaceOnUse" x1="123.41" y1="0" x2="274.19" y2="0"><stop offset="0.0033" stop-color="#3e48ee"/><stop offset="0.0514" stop-color="#3755dc"/><stop offset="0.0514" stop-color="#3266ba"/><stop offset="0.1005" stop-color="#28877a"/><stop offset="0.1005" stop-color="#1e9850"/><stop offset="0.1172" stop-color="#08b914"/><stop offset="0.1311" stop-color="#02c308"/><stop offset="0.1562" stop-color="#02c406"/><stop offset="0.1562" stop-color="#05c408"/><stop offset="0.2012" stop-color="#3cd214"/><stop offset="0.2463" stop-color="#73df21"/><stop offset="0.2463" stop-color="#8ce628"/><stop offset="0.2890" stop-color="#c3f432"/><stop offset="0.3317" stop-color="#dcf934"/><stop offset="0.3886" stop-color="#ebfc34"/><stop offset="0.5310" stop-color="#f3fd34"/><stop offset="0.5310" stop-color="#ffff33"/><stop offset="0.9967" stop-color="#ffff33"/></linearGradient><linearGradient id="g132" gradientUnits="userSpaceOnUse" x1="122.83" y1="0" x2="274.77" y2="0"><stop offset="0.0033" stop-color="#3e48ee"/><stop offset="0.0510" stop-color="#3755dc"/><stop offset="0.0510" stop-color="#3266ba"/><stop offset="0.0997" stop-color="#28877a"/><stop offset="0.0997" stop-color="#1e9850"/><stop offset="0.1162" stop-color="#08b914"/><stop offset="0.1301" stop-color="#02c308"/><stop offset="0.1549" stop-color="#02c406"/><stop offset="0.1549" stop-color="#05c408"/><stop offset="0.1996" stop-color="#3cd214"/><stop offset="0.2443" stop-color="#73df21"/><stop offset="0.2443" stop-color="#8ce628"/><stop offset="0.2866" stop-color="#c3f432"/><stop offset="0.3289" stop-color="#dcf934"/><stop offset="0.3853" stop-color="#ebfc34"/><stop offset="0.5263" stop-color="#f3fd34"/><stop offset="0.5264" stop-color="#ffff33"/><stop offset="0.9967" stop-color="#ffff33"/></linearGradient><linearGradient id="g133" gradientUnits="userSpaceOnUse" x1="122.26" y1="0" x2="275.34" y2="0"><stop offset="0.0033" stop-color="#3e48ee"/><stop offset="0.0506" stop-color="#3755dc"/><stop offset="0.0506" stop-color="#3266ba"/><stop offset="0.0989" stop-color="#28877a"/><stop offset="0.0989" stop-color="#1e9850"/><stop offset="0.1153" stop-color="#08b914"/><stop offset="0.1290" stop-color="#02c308"/><stop offset="0.1537" stop-color="#02c406"/><stop offset="0.1537" stop-color="#05c408"/><stop offset="0.1980" stop-color="#3cd214"/><stop offset="0.2423" stop-color="#73df21"/><stop offset="0.2423" stop-color="#8ce628"/><stop offset="0.2842" stop-color="#c3f432"/><stop offset="0.3261" stop-color="#dcf934"/><stop offset="0.3820" stop-color="#ebfc34"/><stop offset="0.5218" stop-color="#f3fd34"/><stop offset="0.5218" stop-color="#ffff33"/><stop offset="0.9967" stop-color="#ffff33"/></linearGradient><linearGradient id="g134" gradientUnits="userSpaceOnUse" x1="121.68" y1="0" x2="275.92" y2="0"><stop offset="0.0032" stop-color="#3e48ee"/><stop offset="0.0502" stop-color="#3755dc"/><stop offset="0.0502" stop-color="#3266ba"/><stop offset="0.0981" stop-color="#28877a"/><stop offset="0.0981" stop-color="#1e9850"/><stop offset="0.1144" stop-color="#08b914"/><stop offset="0.1280" stop-color="#02c308"/><stop offset="0.1525" stop-color="#02c406"/><stop offset="0.1525" stop-color="#05c408"/><stop offset="0.1964" stop-color="#3cd214"/><stop offset="0.2403" stop-color="#73df21"/><stop offset="0.2403" stop-color="#8ce628"/><stop offset="0.2819" stop-color="#c3f432"/><stop offset="0.3234" stop-color="#dcf934"/><stop offset="0.3788" stop-color="#ebfc34"/><stop offset="0.5174" stop-color="#f3fd34"/><stop offset="0.5174" stop-color="#ffff33"/><stop offset="0.9968" stop-color="#ffff33"/></linearGradient><linearGradient id="g135" gradientUnits="userSpaceOnUse" x1="121.10" y1="0" x2="276.50" y2="0"><stop offset="0.0032" stop-color="#3e48ee"/><stop offset="0.0498" stop-color="#3755dc"/><stop offset="0.0498" stop-color="#3266ba"/><stop offset="0.0973" stop-color="#28877a"/><stop offset="0.0973" stop-color="#1e9850"/><stop offset="0.1135" stop-color="#08b914"/><stop offset="0.1270" stop-color="#02c308"/><stop offset="0.1513" stop-color="#02c406"/><stop offset="0.1513" stop-color="#05c408"/><stop offset="0.1948" stop-color="#3cd214"/><stop offset="0.2383" stop-color="#73df21"/><stop offset="0.2383" stop-color="#8ce628"/><stop offset="0.2796" stop-color="#c3f432"/><stop offset="0.3208" stop-color="#dcf934"/><stop offset="0.3757" stop-color="#ebfc34"/><stop offset="0.5131" stop-color="#f3fd34"/><stop offset="0.5132" stop-color="#ffff33"/><stop offset="0.9968" stop-color="#ffff33"/></linearGradient><linearGradient id="g136" gradientUnits="userSpaceOnUse" x1="120.52" y1="0" x2="277.08" y2="0"><stop offset="0.0032" stop-color="#3e48ee"/><stop offset="0.0494" stop-color="#3755dc"/><stop offset="0.0494" stop-color="#3266ba"/><stop offset="0.0965" stop-color="#28877a"/><stop offset="0.0965" stop-color="#1e9850"/><stop offset="0.1126" stop-color="#08b914"/><stop offset="0.1260" stop-color="#02c308"/><stop offset="0.1502" stop-color="#02c406"/><stop offset="0.1502" stop-color="#05c408"/><stop offset="0.1933" stop-color="#3cd214"/><stop offset="0.2364" stop-color="#73df21"/><stop offset="0.2364" stop-color="#8ce628"/><stop offset="0.2773" stop-color="#c3f432"/><stop offset="0.3182" stop-color="#dcf934"/><stop offset="0.3727" stop-color="#ebfc34"/><stop offset="0.5090" stop-color="#f3fd34"/><stop offset="0.5090" stop-color="#ffff33"/><stop offset="0.9968" stop-color="#ffff33"/></linearGradient><linearGradient id="g137" gradientUnits="userSpaceOnUse" x1="119.95" y1="0" x2="277.65" y2="0"><stop offset="0.0032" stop-color="#3e48ee"/><stop offset="0.0490" stop-color="#3755dc"/><stop offset="0.0490" stop-color="#3266ba"/><stop offset="0.0958" stop-color="#28877a"/><stop offset="0.0958" stop-color="#1e9850"/><stop offset="0.1118" stop-color="#08b914"/><stop offset="0.1251" stop-color="#02c308"/><stop offset="0.1490" stop-color="#02c406"/><stop offset="0.1490" stop-color="#05c408"/><stop offset="0.1918" stop-color="#3cd214"/><stop offset="0.2345" stop-color="#73df21"/><stop offset="0.2345" stop-color="#8ce628"/><stop offset="0.2751" stop-color="#c3f432"/><stop offset="0.3156" stop-color="#dcf934"/><stop offset="0.3697" stop-color="#ebfc34"/><stop offset="0.5049" stop-color="#f3fd34"/><stop offset="0.5049" stop-color="#ffff33"/><stop offset="0.9968" stop-color="#ffff33"/></linearGradient><linearGradient id="g138" gradientUnits="userSpaceOnUse" x1="119.37" y1="0" x2="278.23" y2="0"><stop offset="0.0031" stop-color="#3e48ee"/><stop offset="0.0487" stop-color="#3755dc"/><stop offset="0.0487" stop-color="#3266ba"/><stop offset="0.0950" stop-color="#28877a"/><stop offset="0.0950" stop-color="#1e9850"/><stop offset="0.1109" stop-color="#08b914"/><stop offset="0.1241" stop-color="#02c308"/><stop offset="0.1479" stop-color="#02c406"/><stop offset="0.1479" stop-color="#05c408"/><stop offset="0.1903" stop-color="#3cd214"/><stop offset="0.2326" stop-color="#73df21"/><stop offset="0.2326" stop-color="#8ce628"/><stop offset="0.2729" stop-color="#c3f432"/><stop offset="0.3131" stop-color="#dcf934"/><stop offset="0.3667" stop-color="#ebfc34"/><stop offset="0.5008" stop-color="#f3fd34"/><stop offset="0.5009" stop-color="#ffff33"/><stop offset="0.9969" stop-color="#ffff33"/></linearGradient><linearGradient id="g139" gradientUnits="userSpaceOnUse" x1="118.79" y1="0" x2="278.81" y2="0"><stop offset="0.0031" stop-color="#3e48ee"/><stop offset="0.0483" stop-color="#3755dc"/><stop offset="0.0483" stop-color="#3266ba"/><stop offset="0.0943" stop-color="#28877a"/><stop offset="0.0943" stop-color="#1e9850"/><stop offset="0.1101" stop-color="#08b914"/><stop offset="0.1232" stop-color="#02c308"/><stop offset="0.1468" stop-color="#02c406"/><stop offset="0.1468" stop-color="#05c408"/><stop offset="0.1888" stop-color="#3cd214"/><stop offset="0.2308" stop-color="#73df21"/><stop offset="0.2308" stop-color="#8ce628"/><stop offset="0.2707" stop-color="#c3f432"/><stop offset="0.3106" stop-color="#dcf934"/><stop offset="0.3638" stop-color="#ebfc34"/><stop offset="0.4968" stop-color="#f3fd34"/><stop offset="0.4969" stop-color="#ffff33"/><stop offset="0.9969" stop-color="#ffff33"/></linearGradient><linearGradient id="g140" gradientUnits="userSpaceOnUse" x1="118.21" y1="0" x2="279.39" y2="0"><stop offset="0.0031" stop-color="#3e48ee"/><stop offset="0.0479" stop-color="#3755dc"/><stop offset="0.0479" stop-color="#3266ba"/><stop offset="0.0936" stop-color="#28877a"/><stop offset="0.0936" stop-color="#1e9850"/><stop offset="0.1092" stop-color="#08b914"/><stop offset="0.1223" stop-color="#02c308"/><stop offset="0.1457" stop-color="#02c406"/><stop offset="0.1457" stop-color="#05c408"/><stop offset="0.1873" stop-color="#3cd214"/><stop offset="0.2290" stop-color="#73df21"/><stop offset="0.2290" stop-color="#8ce628"/><stop offset="0.2686" stop-color="#c3f432"/><stop offset="0.3082" stop-color="#dcf934"/><stop offset="0.3609" stop-color="#ebfc34"/><stop offset="0.4929" stop-color="#f3fd34"/><stop offset="0.4929" stop-color="#ffff33"/><stop offset="0.9969" stop-color="#ffff33"/></linearGradient><linearGradient id="g141" gradientUnits="userSpaceOnUse" x1="117.64" y1="0" x2="279.96" y2="0"><stop offset="0.0031" stop-color="#3e48ee"/><stop offset="0.0476" stop-color="#3755dc"/><stop offset="0.0476" stop-color="#3266ba"/><stop offset="0.0929" stop-color="#28877a"/><stop offset="0.0929" stop-color="#1e9850"/><stop offset="0.1084" stop-color="#08b914"/><stop offset="0.1213" stop-color="#02c308"/><stop offset="0.1446" stop-color="#02c406"/><stop offset="0.1446" stop-color="#05c408"/><stop offset="0.1859" stop-color="#3cd214"/><stop offset="0.2272" stop-color="#73df21"/><stop offset="0.2272" stop-color="#8ce628"/><stop offset="0.2665" stop-color="#c3f432"/><stop offset="0.3057" stop-color="#dcf934"/><stop offset="0.3581" stop-color="#ebfc34"/><stop offset="0.4890" stop-color="#f3fd34"/><stop offset="0.4890" stop-color="#ffff33"/><stop offset="0.9969" stop-color="#ffff33"/></linearGradient><linearGradient id="g142" gradientUnits="userSpaceOnUse" x1="117.06" y1="0" x2="280.54" y2="0"><stop offset="0.0031" stop-color="#3e48ee"/><stop offset="0.0472" stop-color="#3755dc"/><stop offset="0.0472" stop-color="#3266ba"/><stop offset="0.0922" stop-color="#28877a"/><stop offset="0.0922" stop-color="#1e9850"/><stop offset="0.1076" stop-color="#08b914"/><stop offset="0.1204" stop-color="#02c308"/><stop offset="0.1436" stop-color="#02c406"/><stop offset="0.1436" stop-color="#05c408"/><stop offset="0.1845" stop-color="#3cd214"/><stop offset="0.2254" stop-color="#73df21"/><stop offset="0.2254" stop-color="#8ce628"/><stop offset="0.2644" stop-color="#c3f432"/><stop offset="0.3033" stop-color="#dcf934"/><stop offset="0.3552" stop-color="#ebfc34"/><stop offset="0.4850" stop-color="#f3fd34"/><stop offset="0.4850" stop-color="#ffff33"/><stop offset="0.9969" stop-color="#ffff33"/></linearGradient><linearGradient id="g143" gradientUnits="userSpaceOnUse" x1="116.48" y1="0" x2="281.12" y2="0"><stop offset="0.0030" stop-color="#3e48ee"/><stop offset="0.0469" stop-color="#3755dc"/><stop offset="0.0469" stop-color="#3266ba"/><stop offset="0.0915" stop-color="#28877a"/><stop offset="0.0915" stop-color="#1e9850"/><stop offset="0.1068" stop-color="#08b914"/><stop offset="0.1196" stop-color="#02c308"/><stop offset="0.1425" stop-color="#02c406"/><stop offset="0.1425" stop-color="#05c408"/><stop offset="0.1831" stop-color="#3cd214"/><stop offset="0.2237" stop-color="#73df21"/><stop offset="0.2237" stop-color="#8ce628"/><stop offset="0.2622" stop-color="#c3f432"/><stop offset="0.3007" stop-color="#dcf934"/><stop offset="0.3520" stop-color="#ebfc34"/><stop offset="0.4804" stop-color="#f3fd34"/><stop offset="0.4804" stop-color="#ffff33"/><stop offset="0.9970" stop-color="#ffff33"/></linearGradient><linearGradient id="g144" gradientUnits="userSpaceOnUse" x1="115.90" y1="0" x2="281.70" y2="0"><stop offset="0.0030" stop-color="#3e48ee"/><stop offset="0.0466" stop-color="#3755dc"/><stop offset="0.0466" stop-color="#3266ba"/><stop offset="0.0908" stop-color="#28877a"/><stop offset="0.0908" stop-color="#1e9850"/><stop offset="0.1060" stop-color="#08b914"/><stop offset="0.1187" stop-color="#02c308"/><stop offset="0.1415" stop-color="#02c406"/><stop offset="0.1415" stop-color="#05c408"/><stop offset="0.1817" stop-color="#3cd214"/><stop offset="0.2220" stop-color="#73df21"/><stop offset="0.2220" stop-color="#8ce628"/><stop offset="0.2601" stop-color="#c3f432"/><stop offset="0.2981" stop-color="#dcf934"/><stop offset="0.3489" stop-color="#ebfc34"/><stop offset="0.4759" stop-color="#f3fd34"/><stop offset="0.4759" stop-color="#ffff33"/><stop offset="0.9970" stop-color="#ffff33"/></linearGradient><linearGradient id="g145" gradientUnits="userSpaceOnUse" x1="115.33" y1="0" x2="282.27" y2="0"><stop offset="0.0030" stop-color="#3e48ee"/><stop offset="0.0462" stop-color="#3755dc"/><stop offset="0.0462" stop-color="#3266ba"/><stop offset="0.0901" stop-color="#28877a"/><stop offset="0.0901" stop-color="#1e9850"/><stop offset="0.1052" stop-color="#08b914"/><stop offset="0.1178" stop-color="#02c308"/><stop offset="0.1405" stop-color="#02c406"/><stop offset="0.1405" stop-color="#05c408"/><stop offset="0.1804" stop-color="#3cd214"/><stop offset="0.2203" stop-color="#73df21"/><stop offset="0.2203" stop-color="#8ce628"/><stop offset="0.2580" stop-color="#c3f432"/><stop offset="0.2956" stop-color="#dcf934"/><stop offset="0.3458" stop-color="#ebfc34"/><stop offset="0.4714" stop-color="#f3fd34"/><stop offset="0.4714" stop-color="#ffff33"/><stop offset="0.9970" stop-color="#ffff33"/></linearGradient><linearGradient id="g146" gradientUnits="userSpaceOnUse" x1="114.75" y1="0" x2="282.85" y2="0"><stop offset="0.0030" stop-color="#3e48ee"/><stop offset="0.0459" stop-color="#3755dc"/><stop offset="0.0459" stop-color="#3266ba"/><stop offset="0.0895" stop-color="#28877a"/><stop offset="0.0895" stop-color="#1e9850"/><stop offset="0.1045" stop-color="#08b914"/><stop offset="0.1170" stop-color="#02c308"/><stop offset="0.1394" stop-color="#02c406"/><stop offset="0.1394" stop-color="#05c408"/><stop offset="0.1790" stop-color="#3cd214"/><stop offset="0.2186" stop-color="#73df21"/><stop offset="0.2186" stop-color="#8ce628"/><stop offset="0.2559" stop-color="#c3f432"/><stop offset="0.2931" stop-color="#dcf934"/><stop offset="0.3428" stop-color="#ebfc34"/><stop offset="0.4670" stop-color="#f3fd34"/><stop offset="0.4670" stop-color="#ffff33"/><stop offset="0.9970" stop-color="#ffff33"/></linearGradient><linearGradient id="g147" gradientUnits="userSpaceOnUse" x1="114.17" y1="0" x2="283.43" y2="0"><stop offset="0.0030" stop-color="#3e48ee"/><stop offset="0.0456" stop-color="#3755dc"/><stop offset="0.0456" stop-color="#3266ba"/><stop offset="0.0888" stop-color="#28877a"/><stop offset="0.0888" stop-color="#1e9850"/><stop offset="0.1037" stop-color="#08b914"/><stop offset="0.1161" stop-color="#02c308"/><stop offset="0.1385" stop-color="#02c406"/><stop offset="0.1385" stop-color="#05c408"/><stop offset="0.1777" stop-color="#3cd214"/><stop offset="0.2170" stop-color="#73df21"/><stop offset="0.2170" stop-color="#8ce628"/><stop offset="0.2538" stop-color="#c3f432"/><stop offset="0.2907" stop-color="#dcf934"/><stop offset="0.3398" stop-color="#ebfc34"/><stop offset="0.4626" stop-color="#f3fd34"/><stop offset="0.4627" stop-color="#ffff33"/><stop offset="0.9970" stop-color="#ffff33"/></linearGradient><linearGradient id="g148" gradientUnits="userSpaceOnUse" x1="113.59" y1="0" x2="284.01" y2="0"><stop offset="0.0029" stop-color="#3e48ee"/><stop offset="0.0452" stop-color="#3755dc"/><stop offset="0.0452" stop-color="#3266ba"/><stop offset="0.0882" stop-color="#28877a"/><stop offset="0.0882" stop-color="#1e9850"/><stop offset="0.1030" stop-color="#08b914"/><stop offset="0.1153" stop-color="#02c308"/><stop offset="0.1375" stop-color="#02c406"/><stop offset="0.1375" stop-color="#05c408"/><stop offset="0.1764" stop-color="#3cd214"/><stop offset="0.2154" stop-color="#73df21"/><stop offset="0.2154" stop-color="#8ce628"/><stop offset="0.2518" stop-color="#c3f432"/><stop offset="0.2883" stop-color="#dcf934"/><stop offset="0.3369" stop-color="#ebfc34"/><stop offset="0.4583" stop-color="#f3fd34"/><stop offset="0.4584" stop-color="#ffff33"/><stop offset="0.9971" stop-color="#ffff33"/></linearGradient><linearGradient id="g149" gradientUnits="userSpaceOnUse" x1="113.02" y1="0" x2="284.58" y2="0"><stop offset="0.0029" stop-color="#3e48ee"/><stop offset="0.0449" stop-color="#3755dc"/><stop offset="0.0449" stop-color="#3266ba"/><stop offset="0.0875" stop-color="#28877a"/><stop offset="0.0875" stop-color="#1e9850"/><stop offset="0.1022" stop-color="#08b914"/><stop offset="0.1145" stop-color="#02c308"/><stop offset="0.1365" stop-color="#02c406"/><stop offset="0.1365" stop-color="#05c408"/><stop offset="0.1751" stop-color="#3cd214"/><stop offset="0.2138" stop-color="#73df21"/><stop offset="0.2138" stop-color="#8ce628"/><stop offset="0.2498" stop-color="#c3f432"/><stop offset="0.2859" stop-color="#dcf934"/><stop offset="0.3339" stop-color="#ebfc34"/><stop offset="0.4541" stop-color="#f3fd34"/><stop offset="0.4542" stop-color="#ffff33"/><stop offset="0.9971" stop-color="#ffff33"/></linearGradient><linearGradient id="g150" gradientUnits="userSpaceOnUse" x1="112.44" y1="0" x2="285.16" y2="0"><stop offset="0.0029" stop-color="#3e48ee"/><stop offset="0.0446" stop-color="#3755dc"/><stop offset="0.0446" stop-color="#3266ba"/><stop offset="0.0869" stop-color="#28877a"/><stop offset="0.0869" stop-color="#1e9850"/><stop offset="0.1015" stop-color="#08b914"/><stop offset="0.1137" stop-color="#02c308"/><stop offset="0.1356" stop-color="#02c406"/><stop offset="0.1356" stop-color="#05c408"/><stop offset="0.1739" stop-color="#3cd214"/><stop offset="0.2122" stop-color="#73df21"/><stop offset="0.2122" stop-color="#8ce628"/><stop offset="0.2478" stop-color="#c3f432"/><stop offset="0.2835" stop-color="#dcf934"/><stop offset="0.3311" stop-color="#ebfc34"/><stop offset="0.4499" stop-color="#f3fd34"/><stop offset="0.4500" stop-color="#ffff33"/><stop offset="0.9971" stop-color="#ffff33"/></linearGradient><linearGradient id="g151" gradientUnits="userSpaceOnUse" x1="111.86" y1="0" x2="285.74" y2="0"><stop offset="0.0029" stop-color="#3e48ee"/><stop offset="0.0443" stop-color="#3755dc"/><stop offset="0.0443" stop-color="#3266ba"/><stop offset="0.0863" stop-color="#28877a"/><stop offset="0.0863" stop-color="#1e9850"/><stop offset="0.1008" stop-color="#08b914"/><stop offset="0.1129" stop-color="#02c308"/><stop offset="0.1346" stop-color="#02c406"/><stop offset="0.1346" stop-color="#05c408"/><stop offset="0.1726" stop-color="#3cd214"/><stop offset="0.2106" stop-color="#73df21"/><stop offset="0.2106" stop-color="#8ce628"/><stop offset="0.2459" stop-color="#c3f432"/><stop offset="0.2812" stop-color="#dcf934"/><stop offset="0.3282" stop-color="#ebfc34"/><stop offset="0.4458" stop-color="#f3fd34"/><stop offset="0.4459" stop-color="#ffff33"/><stop offset="0.9971" stop-color="#ffff33"/></linearGradient><linearGradient id="g152" gradientUnits="userSpaceOnUse" x1="111.28" y1="0" x2="286.32" y2="0"><stop offset="0.0029" stop-color="#3e48ee"/><stop offset="0.0440" stop-color="#3755dc"/><stop offset="0.0440" stop-color="#3266ba"/><stop offset="0.0857" stop-color="#28877a"/><stop offset="0.0857" stop-color="#1e9850"/><stop offset="0.1001" stop-color="#08b914"/><stop offset="0.1121" stop-color="#02c308"/><stop offset="0.1337" stop-color="#02c406"/><stop offset="0.1337" stop-color="#05c408"/><stop offset="0.1714" stop-color="#3cd214"/><stop offset="0.2091" stop-color="#73df21"/><stop offset="0.2091" stop-color="#8ce628"/><stop offset="0.2440" stop-color="#c3f432"/><stop offset="0.2789" stop-color="#dcf934"/><stop offset="0.3254" stop-color="#ebfc34"/><stop offset="0.4418" stop-color="#f3fd34"/><stop offset="0.4418" stop-color="#ffff33"/><stop offset="0.9971" stop-color="#ffff33"/></linearGradient><linearGradient id="g153" gradientUnits="userSpaceOnUse" x1="110.71" y1="0" x2="286.89" y2="0"><stop offset="0.0028" stop-color="#3e48ee"/><stop offset="0.0437" stop-color="#3755dc"/><stop offset="0.0437" stop-color="#3266ba"/><stop offset="0.0850" stop-color="#28877a"/><stop offset="0.0850" stop-color="#1e9850"/><stop offset="0.0994" stop-color="#08b914"/><stop offset="0.1114" stop-color="#02c308"/><stop offset="0.1330" stop-color="#02c406"/><stop offset="0.1330" stop-color="#05c408"/><stop offset="0.1704" stop-color="#3cd214"/><stop offset="0.2078" stop-color="#73df21"/><stop offset="0.2078" stop-color="#8ce628"/><stop offset="0.2423" stop-color="#c3f432"/><stop offset="0.2768" stop-color="#dcf934"/><stop offset="0.3228" stop-color="#ebfc34"/><stop offset="0.4377" stop-color="#f3fd34"/><stop offset="0.4378" stop-color="#ffff33"/><stop offset="0.9972" stop-color="#ffff33"/></linearGradient><linearGradient id="g154" gradientUnits="userSpaceOnUse" x1="110.13" y1="0" x2="287.47" y2="0"><stop offset="0.0028" stop-color="#3e48ee"/><stop offset="0.0433" stop-color="#3755dc"/><stop offset="0.0433" stop-color="#3266ba"/><stop offset="0.0844" stop-color="#28877a"/><stop offset="0.0844" stop-color="#1e9850"/><stop offset="0.0987" stop-color="#08b914"/><stop offset="0.1107" stop-color="#02c308"/><stop offset="0.1322" stop-color="#02c406"/><stop offset="0.1322" stop-color="#05c408"/><stop offset="0.1694" stop-color="#3cd214"/><stop offset="0.2065" stop-color="#73df21"/><stop offset="0.2065" stop-color="#8ce628"/><stop offset="0.2406" stop-color="#c3f432"/><stop offset="0.2747" stop-color="#dcf934"/><stop offset="0.3202" stop-color="#ebfc34"/><stop offset="0.4339" stop-color="#f3fd34"/><stop offset="0.4339" stop-color="#ffff33"/><stop offset="0.9972" stop-color="#ffff33"/></linearGradient><linearGradient id="g155" gradientUnits="userSpaceOnUse" x1="109.55" y1="0" x2="288.05" y2="0"><stop offset="0.0028" stop-color="#3e48ee"/><stop offset="0.0430" stop-color="#3755dc"/><stop offset="0.0430" stop-color="#3266ba"/><stop offset="0.0838" stop-color="#28877a"/><stop offset="0.0838" stop-color="#1e9850"/><stop offset="0.0981" stop-color="#08b914"/><stop offset="0.1100" stop-color="#02c308"/><stop offset="0.1315" stop-color="#02c406"/><stop offset="0.1315" stop-color="#05c408"/><stop offset="0.1684" stop-color="#3cd214"/><stop offset="0.2053" stop-color="#73df21"/><stop offset="0.2053" stop-color="#8ce628"/><stop offset="0.2390" stop-color="#c3f432"/><stop offset="0.2727" stop-color="#dcf934"/><stop offset="0.3177" stop-color="#ebfc34"/><stop offset="0.4301" stop-color="#f3fd34"/><stop offset="0.4302" stop-color="#ffff33"/><stop offset="0.9972" stop-color="#ffff33"/></linearGradient><linearGradient id="g156" gradientUnits="userSpaceOnUse" x1="108.98" y1="0" x2="288.62" y2="0"><stop offset="0.0028" stop-color="#3e48ee"/><stop offset="0.0427" stop-color="#3755dc"/><stop offset="0.0427" stop-color="#3266ba"/><stop offset="0.0832" stop-color="#28877a"/><stop offset="0.0832" stop-color="#1e9850"/><stop offset="0.0974" stop-color="#08b914"/><stop offset="0.1093" stop-color="#02c308"/><stop offset="0.1308" stop-color="#02c406"/><stop offset="0.1308" stop-color="#05c408"/><stop offset="0.1674" stop-color="#3cd214"/><stop offset="0.2040" stop-color="#73df21"/><stop offset="0.2040" stop-color="#8ce628"/><stop offset="0.2374" stop-color="#c3f432"/><stop offset="0.2707" stop-color="#dcf934"/><stop offset="0.3152" stop-color="#ebfc34"/><stop offset="0.4264" stop-color="#f3fd34"/><stop offset="0.4264" stop-color="#ffff33"/><stop offset="0.9972" stop-color="#ffff33"/></linearGradient><linearGradient id="g157" gradientUnits="userSpaceOnUse" x1="108.40" y1="0" x2="289.20" y2="0"><stop offset="0.0028" stop-color="#3e48ee"/><stop offset="0.0424" stop-color="#3755dc"/><stop offset="0.0424" stop-color="#3266ba"/><stop offset="0.0825" stop-color="#28877a"/><stop offset="0.0825" stop-color="#1e9850"/><stop offset="0.0968" stop-color="#08b914"/><stop offset="0.1087" stop-color="#02c308"/><stop offset="0.1301" stop-color="#02c406"/><stop offset="0.1301" stop-color="#05c408"/><stop offset="0.1664" stop-color="#3cd214"/><stop offset="0.2028" stop-color="#73df21"/><stop offset="0.2028" stop-color="#8ce628"/><stop offset="0.2358" stop-color="#c3f432"/><stop offset="0.2688" stop-color="#dcf934"/><stop offset="0.3127" stop-color="#ebfc34"/><stop offset="0.4227" stop-color="#f3fd34"/><stop offset="0.4228" stop-color="#ffff33"/><stop offset="0.9972" stop-color="#ffff33"/></linearGradient><linearGradient id="g158" gradientUnits="userSpaceOnUse" x1="107.82" y1="0" x2="289.78" y2="0"><stop offset="0.0027" stop-color="#3e48ee"/><stop offset="0.0421" stop-color="#3755dc"/><stop offset="0.0421" stop-color="#3266ba"/><stop offset="0.0819" stop-color="#28877a"/><stop offset="0.0819" stop-color="#1e9850"/><stop offset="0.0962" stop-color="#08b914"/><stop offset="0.1080" stop-color="#02c308"/><stop offset="0.1294" stop-color="#02c406"/><stop offset="0.1294" stop-color="#05c408"/><stop offset="0.1655" stop-color="#3cd214"/><stop offset="0.2016" stop-color="#73df21"/><stop offset="0.2016" stop-color="#8ce628"/><stop offset="0.2342" stop-color="#c3f432"/><stop offset="0.2668" stop-color="#dcf934"/><stop offset="0.3103" stop-color="#ebfc34"/><stop offset="0.4191" stop-color="#f3fd34"/><stop offset="0.4191" stop-color="#ffff33"/><stop offset="0.9973" stop-color="#ffff33"/></linearGradient><linearGradient id="g159" gradientUnits="userSpaceOnUse" x1="107.24" y1="0" x2="290.36" y2="0"><stop offset="0.0027" stop-color="#3e48ee"/><stop offset="0.0418" stop-color="#3755dc"/><stop offset="0.0418" stop-color="#3266ba"/><stop offset="0.0813" stop-color="#28877a"/><stop offset="0.0813" stop-color="#1e9850"/><stop offset="0.0955" stop-color="#08b914"/><stop offset="0.1074" stop-color="#02c308"/><stop offset="0.1287" stop-color="#02c406"/><stop offset="0.1287" stop-color="#05c408"/><stop offset="0.1645" stop-color="#3cd214"/><stop offset="0.2004" stop-color="#73df21"/><stop offset="0.2004" stop-color="#8ce628"/><stop offset="0.2326" stop-color="#c3f432"/><stop offset="0.2649" stop-color="#dcf934"/><stop offset="0.3079" stop-color="#ebfc34"/><stop offset="0.4155" stop-color="#f3fd34"/><stop offset="0.4155" stop-color="#ffff33"/><stop offset="0.9973" stop-color="#ffff33"/></linearGradient><linearGradient id="g160" gradientUnits="userSpaceOnUse" x1="106.67" y1="0" x2="290.93" y2="0"><stop offset="0.0027" stop-color="#3e48ee"/><stop offset="0.0415" stop-color="#3755dc"/><stop offset="0.0415" stop-color="#3266ba"/><stop offset="0.0807" stop-color="#28877a"/><stop offset="0.0807" stop-color="#1e9850"/><stop offset="0.0949" stop-color="#08b914"/><stop offset="0.1067" stop-color="#02c308"/><stop offset="0.1280" stop-color="#02c406"/><stop offset="0.1280" stop-color="#05c408"/><stop offset="0.1636" stop-color="#3cd214"/><stop offset="0.1992" stop-color="#73df21"/><stop offset="0.1992" stop-color="#8ce628"/><stop offset="0.2311" stop-color="#c3f432"/><stop offset="0.2630" stop-color="#dcf934"/><stop offset="0.3056" stop-color="#ebfc34"/><stop offset="0.4119" stop-color="#f3fd34"/><stop offset="0.4120" stop-color="#ffff33"/><stop offset="0.9973" stop-color="#ffff33"/></linearGradient><linearGradient id="g161" gradientUnits="userSpaceOnUse" x1="106.09" y1="0" x2="291.51" y2="0"><stop offset="0.0027" stop-color="#3e48ee"/><stop offset="0.0412" stop-color="#3755dc"/><stop offset="0.0412" stop-color="#3266ba"/><stop offset="0.0802" stop-color="#28877a"/><stop offset="0.0802" stop-color="#1e9850"/><stop offset="0.0943" stop-color="#08b914"/><stop offset="0.1061" stop-color="#02c308"/><stop offset="0.1273" stop-color="#02c406"/><stop offset="0.1273" stop-color="#05c408"/><stop offset="0.1626" stop-color="#3cd214"/><stop offset="0.1980" stop-color="#73df21"/><stop offset="0.1980" stop-color="#8ce628"/><stop offset="0.2296" stop-color="#c3f432"/><stop offset="0.2611" stop-color="#dcf934"/><stop offset="0.3032" stop-color="#ebfc34"/><stop offset="0.4085" stop-color="#f3fd34"/><stop offset="0.4085" stop-color="#ffff33"/><stop offset="0.9973" stop-color="#ffff33"/></linearGradient><linearGradient id="g162" gradientUnits="userSpaceOnUse" x1="105.51" y1="0" x2="292.09" y2="0"><stop offset="0.0027" stop-color="#3e48ee"/><stop offset="0.0409" stop-color="#3755dc"/><stop offset="0.0409" stop-color="#3266ba"/><stop offset="0.0796" stop-color="#28877a"/><stop offset="0.0796" stop-color="#1e9850"/><stop offset="0.0937" stop-color="#08b914"/><stop offset="0.1055" stop-color="#02c308"/><stop offset="0.1266" stop-color="#02c406"/><stop offset="0.1266" stop-color="#05c408"/><stop offset="0.1617" stop-color="#3cd214"/><stop offset="0.1968" stop-color="#73df21"/><stop offset="0.1968" stop-color="#8ce628"/><stop offset="0.2281" stop-color="#c3f432"/><stop offset="0.2593" stop-color="#dcf934"/><stop offset="0.3009" stop-color="#ebfc34"/><stop offset="0.4050" stop-color="#f3fd34"/><stop offset="0.4051" stop-color="#ffff33"/><stop offset="0.9973" stop-color="#ffff33"/></linearGradient><linearGradient id="g163" gradientUnits="userSpaceOnUse" x1="104.93" y1="0" x2="292.67" y2="0"><stop offset="0.0027" stop-color="#3e48ee"/><stop offset="0.0406" stop-color="#3755dc"/><stop offset="0.0406" stop-color="#3266ba"/><stop offset="0.0790" stop-color="#28877a"/><stop offset="0.0790" stop-color="#1e9850"/><stop offset="0.0931" stop-color="#08b914"/><stop offset="0.1048" stop-color="#02c308"/><stop offset="0.1260" stop-color="#02c406"/><stop offset="0.1260" stop-color="#05c408"/><stop offset="0.1608" stop-color="#3cd214"/><stop offset="0.1957" stop-color="#73df21"/><stop offset="0.1957" stop-color="#8ce628"/><stop offset="0.2267" stop-color="#c3f432"/><stop offset="0.2576" stop-color="#dcf934"/><stop offset="0.2989" stop-color="#ebfc34"/><stop offset="0.4021" stop-color="#f3fd34"/><stop offset="0.4022" stop-color="#ffff33"/><stop offset="0.9973" stop-color="#ffff33"/></linearGradient><linearGradient id="g164" gradientUnits="userSpaceOnUse" x1="104.36" y1="0" x2="293.24" y2="0"><stop offset="0.0026" stop-color="#3e48ee"/><stop offset="0.0403" stop-color="#3755dc"/><stop offset="0.0403" stop-color="#3266ba"/><stop offset="0.0785" stop-color="#28877a"/><stop offset="0.0785" stop-color="#1e9850"/><stop offset="0.0925" stop-color="#08b914"/><stop offset="0.1042" stop-color="#02c308"/><stop offset="0.1253" stop-color="#02c406"/><stop offset="0.1253" stop-color="#05c408"/><stop offset="0.1599" stop-color="#3cd214"/><stop offset="0.1946" stop-color="#73df21"/><stop offset="0.1946" stop-color="#8ce628"/><stop offset="0.2253" stop-color="#c3f432"/><stop offset="0.2561" stop-color="#dcf934"/><stop offset="0.2972" stop-color="#ebfc34"/><stop offset="0.3998" stop-color="#f3fd34"/><stop offset="0.3999" stop-color="#ffff33"/><stop offset="0.9974" stop-color="#ffff33"/></linearGradient><linearGradient id="g165" gradientUnits="userSpaceOnUse" x1="103.78" y1="0" x2="293.82" y2="0"><stop offset="0.0026" stop-color="#3e48ee"/><stop offset="0.0400" stop-color="#3755dc"/><stop offset="0.0400" stop-color="#3266ba"/><stop offset="0.0779" stop-color="#28877a"/><stop offset="0.0779" stop-color="#1e9850"/><stop offset="0.0919" stop-color="#08b914"/><stop offset="0.1036" stop-color="#02c308"/><stop offset="0.1247" stop-color="#02c406"/><stop offset="0.1247" stop-color="#05c408"/><stop offset="0.1591" stop-color="#3cd214"/><stop offset="0.1934" stop-color="#73df21"/><stop offset="0.1934" stop-color="#8ce628"/><stop offset="0.2241" stop-color="#c3f432"/><stop offset="0.2547" stop-color="#dcf934"/><stop offset="0.2955" stop-color="#ebfc34"/><stop offset="0.3975" stop-color="#f3fd34"/><stop offset="0.3976" stop-color="#ffff33"/><stop offset="0.9974" stop-color="#ffff33"/></linearGradient><linearGradient id="g166" gradientUnits="userSpaceOnUse" x1="103.20" y1="0" x2="294.40" y2="0"><stop offset="0.0026" stop-color="#3e48ee"/><stop offset="0.0397" stop-color="#3755dc"/><stop offset="0.0397" stop-color="#3266ba"/><stop offset="0.0774" stop-color="#28877a"/><stop offset="0.0774" stop-color="#1e9850"/><stop offset="0.0914" stop-color="#08b914"/><stop offset="0.1030" stop-color="#02c308"/><stop offset="0.1240" stop-color="#02c406"/><stop offset="0.1240" stop-color="#05c408"/><stop offset="0.1582" stop-color="#3cd214"/><stop offset="0.1923" stop-color="#73df21"/><stop offset="0.1923" stop-color="#8ce628"/><stop offset="0.2228" stop-color="#c3f432"/><stop offset="0.2532" stop-color="#dcf934"/><stop offset="0.2938" stop-color="#ebfc34"/><stop offset="0.3953" stop-color="#f3fd34"/><stop offset="0.3954" stop-color="#ffff33"/><stop offset="0.9974" stop-color="#ffff33"/></linearGradient><linearGradient id="g167" gradientUnits="userSpaceOnUse" x1="102.62" y1="0" x2="294.98" y2="0"><stop offset="0.0026" stop-color="#3e48ee"/><stop offset="0.0394" stop-color="#3755dc"/><stop offset="0.0394" stop-color="#3266ba"/><stop offset="0.0768" stop-color="#28877a"/><stop offset="0.0768" stop-color="#1e9850"/><stop offset="0.0908" stop-color="#08b914"/><stop offset="0.1024" stop-color="#02c308"/><stop offset="0.1234" stop-color="#02c406"/><stop offset="0.1234" stop-color="#05c408"/><stop offset="0.1573" stop-color="#3cd214"/><stop offset="0.1912" stop-color="#73df21"/><stop offset="0.1912" stop-color="#8ce628"/><stop offset="0.2215" stop-color="#c3f432"/><stop offset="0.2518" stop-color="#dcf934"/><stop offset="0.2922" stop-color="#ebfc34"/><stop offset="0.3931" stop-color="#f3fd34"/><stop offset="0.3931" stop-color="#ffff33"/><stop offset="0.9974" stop-color="#ffff33"/></linearGradient><linearGradient id="g168" gradientUnits="userSpaceOnUse" x1="102.05" y1="0" x2="295.55" y2="0"><stop offset="0.0026" stop-color="#3e48ee"/><stop offset="0.0392" stop-color="#3755dc"/><stop offset="0.0392" stop-color="#3266ba"/><stop offset="0.0763" stop-color="#28877a"/><stop offset="0.0763" stop-color="#1e9850"/><stop offset="0.0902" stop-color="#08b914"/><stop offset="0.1019" stop-color="#02c308"/><stop offset="0.1228" stop-color="#02c406"/><stop offset="0.1228" stop-color="#05c408"/><stop offset="0.1565" stop-color="#3cd214"/><stop offset="0.1902" stop-color="#73df21"/><stop offset="0.1902" stop-color="#8ce628"/><stop offset="0.2203" stop-color="#c3f432"/><stop offset="0.2504" stop-color="#dcf934"/><stop offset="0.2905" stop-color="#ebfc34"/><stop offset="0.3909" stop-color="#f3fd34"/><stop offset="0.3909" stop-color="#ffff33"/><stop offset="0.9974" stop-color="#ffff33"/></linearGradient><linearGradient id="g169" gradientUnits="userSpaceOnUse" x1="101.47" y1="0" x2="296.13" y2="0"><stop offset="0.0026" stop-color="#3e48ee"/><stop offset="0.0389" stop-color="#3755dc"/><stop offset="0.0389" stop-color="#3266ba"/><stop offset="0.0758" stop-color="#28877a"/><stop offset="0.0758" stop-color="#1e9850"/><stop offset="0.0897" stop-color="#08b914"/><stop offset="0.1013" stop-color="#02c308"/><stop offset="0.1222" stop-color="#02c406"/><stop offset="0.1222" stop-color="#05c408"/><stop offset="0.1556" stop-color="#3cd214"/><stop offset="0.1891" stop-color="#73df21"/><stop offset="0.1891" stop-color="#8ce628"/><stop offset="0.2190" stop-color="#c3f432"/><stop offset="0.2490" stop-color="#dcf934"/><stop offset="0.2889" stop-color="#ebfc34"/><stop offset="0.3887" stop-color="#f3fd34"/><stop offset="0.3888" stop-color="#ffff33"/><stop offset="0.9974" stop-color="#ffff33"/></linearGradient><linearGradient id="g170" gradientUnits="userSpaceOnUse" x1="100.89" y1="0" x2="296.71" y2="0"><stop offset="0.0026" stop-color="#3e48ee"/><stop offset="0.0386" stop-color="#3755dc"/><stop offset="0.0386" stop-color="#3266ba"/><stop offset="0.0752" stop-color="#28877a"/><stop offset="0.0752" stop-color="#1e9850"/><stop offset="0.0891" stop-color="#08b914"/><stop offset="0.1007" stop-color="#02c308"/><stop offset="0.1216" stop-color="#02c406"/><stop offset="0.1216" stop-color="#05c408"/><stop offset="0.1548" stop-color="#3cd214"/><stop offset="0.1881" stop-color="#73df21"/><stop offset="0.1881" stop-color="#8ce628"/><stop offset="0.2178" stop-color="#c3f432"/><stop offset="0.2476" stop-color="#dcf934"/><stop offset="0.2873" stop-color="#ebfc34"/><stop offset="0.3866" stop-color="#f3fd34"/><stop offset="0.3866" stop-color="#ffff33"/><stop offset="0.9974" stop-color="#ffff33"/></linearGradient><linearGradient id="g171" gradientUnits="userSpaceOnUse" x1="100.31" y1="0" x2="297.29" y2="0"><stop offset="0.0025" stop-color="#3e48ee"/><stop offset="0.0384" stop-color="#3755dc"/><stop offset="0.0384" stop-color="#3266ba"/><stop offset="0.0747" stop-color="#28877a"/><stop offset="0.0747" stop-color="#1e9850"/><stop offset="0.0886" stop-color="#08b914"/><stop offset="0.1001" stop-color="#02c308"/><stop offset="0.1210" stop-color="#02c406"/><stop offset="0.1210" stop-color="#05c408"/><stop offset="0.1540" stop-color="#3cd214"/><stop offset="0.1870" stop-color="#73df21"/><stop offset="0.1870" stop-color="#8ce628"/><stop offset="0.2166" stop-color="#c3f432"/><stop offset="0.2462" stop-color="#dcf934"/><stop offset="0.2857" stop-color="#ebfc34"/><stop offset="0.3845" stop-color="#f3fd34"/><stop offset="0.3845" stop-color="#ffff33"/><stop offset="0.9975" stop-color="#ffff33"/></linearGradient><linearGradient id="g172" gradientUnits="userSpaceOnUse" x1="99.74" y1="0" x2="297.86" y2="0"><stop offset="0.0025" stop-color="#3e48ee"/><stop offset="0.0381" stop-color="#3755dc"/><stop offset="0.0381" stop-color="#3266ba"/><stop offset="0.0742" stop-color="#28877a"/><stop offset="0.0742" stop-color="#1e9850"/><stop offset="0.0881" stop-color="#08b914"/><stop offset="0.0996" stop-color="#02c308"/><stop offset="0.1204" stop-color="#02c406"/><stop offset="0.1204" stop-color="#05c408"/><stop offset="0.1532" stop-color="#3cd214"/><stop offset="0.1860" stop-color="#73df21"/><stop offset="0.1860" stop-color="#8ce628"/><stop offset="0.2154" stop-color="#c3f432"/><stop offset="0.2449" stop-color="#dcf934"/><stop offset="0.2842" stop-color="#ebfc34"/><stop offset="0.3824" stop-color="#f3fd34"/><stop offset="0.3824" stop-color="#ffff33"/><stop offset="0.9975" stop-color="#ffff33"/></linearGradient><linearGradient id="g173" gradientUnits="userSpaceOnUse" x1="99.16" y1="0" x2="298.44" y2="0"><stop offset="0.0025" stop-color="#3e48ee"/><stop offset="0.0379" stop-color="#3755dc"/><stop offset="0.0379" stop-color="#3266ba"/><stop offset="0.0737" stop-color="#28877a"/><stop offset="0.0737" stop-color="#1e9850"/><stop offset="0.0875" stop-color="#08b914"/><stop offset="0.0990" stop-color="#02c308"/><stop offset="0.1198" stop-color="#02c406"/><stop offset="0.1198" stop-color="#05c408"/><stop offset="0.1524" stop-color="#3cd214"/><stop offset="0.1850" stop-color="#73df21"/><stop offset="0.1850" stop-color="#8ce628"/><stop offset="0.2143" stop-color="#c3f432"/><stop offset="0.2436" stop-color="#dcf934"/><stop offset="0.2827" stop-color="#ebfc34"/><stop offset="0.3804" stop-color="#f3fd34"/><stop offset="0.3804" stop-color="#ffff33"/><stop offset="0.9975" stop-color="#ffff33"/></linearGradient><linearGradient id="g174" gradientUnits="userSpaceOnUse" x1="98.58" y1="0" x2="299.02" y2="0"><stop offset="0.0025" stop-color="#3e48ee"/><stop offset="0.0376" stop-color="#3755dc"/><stop offset="0.0376" stop-color="#3266ba"/><stop offset="0.0732" stop-color="#28877a"/><stop offset="0.0732" stop-color="#1e9850"/><stop offset="0.0870" stop-color="#08b914"/><stop offset="0.0985" stop-color="#02c308"/><stop offset="0.1192" stop-color="#02c406"/><stop offset="0.1192" stop-color="#05c408"/><stop offset="0.1516" stop-color="#3cd214"/><stop offset="0.1840" stop-color="#73df21"/><stop offset="0.1840" stop-color="#8ce628"/><stop offset="0.2132" stop-color="#c3f432"/><stop offset="0.2424" stop-color="#dcf934"/><stop offset="0.2814" stop-color="#ebfc34"/><stop offset="0.3789" stop-color="#f3fd34"/><stop offset="0.3789" stop-color="#ffff33"/><stop offset="0.9975" stop-color="#ffff33"/></linearGradient><linearGradient id="g175" gradientUnits="userSpaceOnUse" x1="98.00" y1="0" x2="299.60" y2="0"><stop offset="0.0025" stop-color="#3e48ee"/><stop offset="0.0373" stop-color="#3755dc"/><stop offset="0.0373" stop-color="#3266ba"/><stop offset="0.0727" stop-color="#28877a"/><stop offset="0.0727" stop-color="#1e9850"/><stop offset="0.0865" stop-color="#08b914"/><stop offset="0.0980" stop-color="#02c308"/><stop offset="0.1186" stop-color="#02c406"/><stop offset="0.1186" stop-color="#05c408"/><stop offset="0.1508" stop-color="#3cd214"/><stop offset="0.1830" stop-color="#73df21"/><stop offset="0.1830" stop-color="#8ce628"/><stop offset="0.2121" stop-color="#c3f432"/><stop offset="0.2413" stop-color="#dcf934"/><stop offset="0.2802" stop-color="#ebfc34"/><stop offset="0.3774" stop-color="#f3fd34"/><stop offset="0.3774" stop-color="#ffff33"/><stop offset="0.9975" stop-color="#ffff33"/></linearGradient><linearGradient id="g176" gradientUnits="userSpaceOnUse" x1="97.43" y1="0" x2="300.17" y2="0"><stop offset="0.0025" stop-color="#3e48ee"/><stop offset="0.0371" stop-color="#3755dc"/><stop offset="0.0371" stop-color="#3266ba"/><stop offset="0.0722" stop-color="#28877a"/><stop offset="0.0722" stop-color="#1e9850"/><stop offset="0.0860" stop-color="#08b914"/><stop offset="0.0974" stop-color="#02c308"/><stop offset="0.1181" stop-color="#02c406"/><stop offset="0.1181" stop-color="#05c408"/><stop offset="0.1500" stop-color="#3cd214"/><stop offset="0.1820" stop-color="#73df21"/><stop offset="0.1820" stop-color="#8ce628"/><stop offset="0.2111" stop-color="#c3f432"/><stop offset="0.2402" stop-color="#dcf934"/><stop offset="0.2790" stop-color="#ebfc34"/><stop offset="0.3759" stop-color="#f3fd34"/><stop offset="0.3760" stop-color="#ffff33"/><stop offset="0.9975" stop-color="#ffff33"/></linearGradient><linearGradient id="g177" gradientUnits="userSpaceOnUse" x1="96.85" y1="0" x2="300.75" y2="0"><stop offset="0.0025" stop-color="#3e48ee"/><stop offset="0.0369" stop-color="#3755dc"/><stop offset="0.0369" stop-color="#3266ba"/><stop offset="0.0717" stop-color="#28877a"/><stop offset="0.0717" stop-color="#1e9850"/><stop offset="0.0855" stop-color="#08b914"/><stop offset="0.0969" stop-color="#02c308"/><stop offset="0.1175" stop-color="#02c406"/><stop offset="0.1175" stop-color="#05c408"/><stop offset="0.1493" stop-color="#3cd214"/><stop offset="0.1810" stop-color="#73df21"/><stop offset="0.1810" stop-color="#8ce628"/><stop offset="0.2100" stop-color="#c3f432"/><stop offset="0.2391" stop-color="#dcf934"/><stop offset="0.2777" stop-color="#ebfc34"/><stop offset="0.3745" stop-color="#f3fd34"/><stop offset="0.3745" stop-color="#ffff33"/><stop offset="0.9975" stop-color="#ffff33"/></linearGradient><linearGradient id="g178" gradientUnits="userSpaceOnUse" x1="96.27" y1="0" x2="301.33" y2="0"><stop offset="0.0024" stop-color="#3e48ee"/><stop offset="0.0366" stop-color="#3755dc"/><stop offset="0.0366" stop-color="#3266ba"/><stop offset="0.0713" stop-color="#28877a"/><stop offset="0.0713" stop-color="#1e9850"/><stop offset="0.0850" stop-color="#08b914"/><stop offset="0.0964" stop-color="#02c308"/><stop offset="0.1169" stop-color="#02c406"/><stop offset="0.1169" stop-color="#05c408"/><stop offset="0.1485" stop-color="#3cd214"/><stop offset="0.1801" stop-color="#73df21"/><stop offset="0.1801" stop-color="#8ce628"/><stop offset="0.2090" stop-color="#c3f432"/><stop offset="0.2380" stop-color="#dcf934"/><stop offset="0.2766" stop-color="#ebfc34"/><stop offset="0.3731" stop-color="#f3fd34"/><stop offset="0.3731" stop-color="#ffff33"/><stop offset="0.9976" stop-color="#ffff33"/></linearGradient><linearGradient id="g179" gradientUnits="userSpaceOnUse" x1="95.69" y1="0" x2="301.91" y2="0"><stop offset="0.0024" stop-color="#3e48ee"/><stop offset="0.0364" stop-color="#3755dc"/><stop offset="0.0364" stop-color="#3266ba"/><stop offset="0.0708" stop-color="#28877a"/><stop offset="0.0708" stop-color="#1e9850"/><stop offset="0.0845" stop-color="#08b914"/><stop offset="0.0959" stop-color="#02c308"/><stop offset="0.1164" stop-color="#02c406"/><stop offset="0.1164" stop-color="#05c408"/><stop offset="0.1478" stop-color="#3cd214"/><stop offset="0.1791" stop-color="#73df21"/><stop offset="0.1791" stop-color="#8ce628"/><stop offset="0.2080" stop-color="#c3f432"/><stop offset="0.2369" stop-color="#dcf934"/><stop offset="0.2754" stop-color="#ebfc34"/><stop offset="0.3716" stop-color="#f3fd34"/><stop offset="0.3717" stop-color="#ffff33"/><stop offset="0.9976" stop-color="#ffff33"/></linearGradient><linearGradient id="g180" gradientUnits="userSpaceOnUse" x1="95.12" y1="0" x2="302.48" y2="0"><stop offset="0.0024" stop-color="#3e48ee"/><stop offset="0.0361" stop-color="#3755dc"/><stop offset="0.0361" stop-color="#3266ba"/><stop offset="0.0703" stop-color="#28877a"/><stop offset="0.0703" stop-color="#1e9850"/><stop offset="0.0840" stop-color="#08b914"/><stop offset="0.0954" stop-color="#02c308"/><stop offset="0.1159" stop-color="#02c406"/><stop offset="0.1159" stop-color="#05c408"/><stop offset="0.1470" stop-color="#3cd214"/><stop offset="0.1782" stop-color="#73df21"/><stop offset="0.1782" stop-color="#8ce628"/><stop offset="0.2070" stop-color="#c3f432"/><stop offset="0.2358" stop-color="#dcf934"/><stop offset="0.2742" stop-color="#ebfc34"/><stop offset="0.3702" stop-color="#f3fd34"/><stop offset="0.3703" stop-color="#ffff33"/><stop offset="0.9976" stop-color="#ffff33"/></linearGradient><linearGradient id="g181" gradientUnits="userSpaceOnUse" x1="94.54" y1="0" x2="303.06" y2="0"><stop offset="0.0024" stop-color="#3e48ee"/><stop offset="0.0359" stop-color="#3755dc"/><stop offset="0.0359" stop-color="#3266ba"/><stop offset="0.0699" stop-color="#28877a"/><stop offset="0.0699" stop-color="#1e9850"/><stop offset="0.0835" stop-color="#08b914"/><stop offset="0.0949" stop-color="#02c308"/><stop offset="0.1153" stop-color="#02c406"/><stop offset="0.1153" stop-color="#05c408"/><stop offset="0.1463" stop-color="#3cd214"/><stop offset="0.1772" stop-color="#73df21"/><stop offset="0.1772" stop-color="#8ce628"/><stop offset="0.2060" stop-color="#c3f432"/><stop offset="0.2348" stop-color="#dcf934"/><stop offset="0.2731" stop-color="#ebfc34"/><stop offset="0.3689" stop-color="#f3fd34"/><stop offset="0.3690" stop-color="#ffff33"/><stop offset="0.9976" stop-color="#ffff33"/></linearGradient><linearGradient id="g182" gradientUnits="userSpaceOnUse" x1="93.96" y1="0" x2="303.64" y2="0"><stop offset="0.0024" stop-color="#3e48ee"/><stop offset="0.0357" stop-color="#3755dc"/><stop offset="0.0357" stop-color="#3266ba"/><stop offset="0.0694" stop-color="#28877a"/><stop offset="0.0694" stop-color="#1e9850"/><stop offset="0.0830" stop-color="#08b914"/><stop offset="0.0944" stop-color="#02c308"/><stop offset="0.1148" stop-color="#02c406"/><stop offset="0.1148" stop-color="#05c408"/><stop offset="0.1456" stop-color="#3cd214"/><stop offset="0.1763" stop-color="#73df21"/><stop offset="0.1763" stop-color="#8ce628"/><stop offset="0.2051" stop-color="#c3f432"/><stop offset="0.2339" stop-color="#dcf934"/><stop offset="0.2723" stop-color="#ebfc34"/><stop offset="0.3684" stop-color="#f3fd34"/><stop offset="0.3684" stop-color="#ffff33"/><stop offset="0.9976" stop-color="#ffff33"/></linearGradient><linearGradient id="g183" gradientUnits="userSpaceOnUse" x1="93.39" y1="0" x2="304.21" y2="0"><stop offset="0.0024" stop-color="#3e48ee"/><stop offset="0.0354" stop-color="#3755dc"/><stop offset="0.0354" stop-color="#3266ba"/><stop offset="0.0690" stop-color="#28877a"/><stop offset="0.0690" stop-color="#1e9850"/><stop offset="0.0826" stop-color="#08b914"/><stop offset="0.0939" stop-color="#02c308"/><stop offset="0.1143" stop-color="#02c406"/><stop offset="0.1143" stop-color="#05c408"/><stop offset="0.1448" stop-color="#3cd214"/><stop offset="0.1754" stop-color="#73df21"/><stop offset="0.1754" stop-color="#8ce628"/><stop offset="0.2043" stop-color="#c3f432"/><stop offset="0.2331" stop-color="#dcf934"/><stop offset="0.2716" stop-color="#ebfc34"/><stop offset="0.3678" stop-color="#f3fd34"/><stop offset="0.3678" stop-color="#ffff33"/><stop offset="0.9976" stop-color="#ffff33"/></linearGradient><linearGradient id="g184" gradientUnits="userSpaceOnUse" x1="92.81" y1="0" x2="304.79" y2="0"><stop offset="0.0024" stop-color="#3e48ee"/><stop offset="0.0352" stop-color="#3755dc"/><stop offset="0.0352" stop-color="#3266ba"/><stop offset="0.0685" stop-color="#28877a"/><stop offset="0.0685" stop-color="#1e9850"/><stop offset="0.0821" stop-color="#08b914"/><stop offset="0.0934" stop-color="#02c308"/><stop offset="0.1137" stop-color="#02c406"/><stop offset="0.1137" stop-color="#05c408"/><stop offset="0.1441" stop-color="#3cd214"/><stop offset="0.1745" stop-color="#73df21"/><stop offset="0.1745" stop-color="#8ce628"/><stop offset="0.2034" stop-color="#c3f432"/><stop offset="0.2323" stop-color="#dcf934"/><stop offset="0.2709" stop-color="#ebfc34"/><stop offset="0.3672" stop-color="#f3fd34"/><stop offset="0.3672" stop-color="#ffff33"/><stop offset="0.9972" stop-color="#fcfe34"/><stop offset="0.9973" stop-color="#eefa3e"/><stop offset="0.9976" stop-color="#eefa3e"/></linearGradient><linearGradient id="g185" gradientUnits="userSpaceOnUse" x1="92.23" y1="0" x2="305.37" y2="0"><stop offset="0.0023" stop-color="#3e48ee"/><stop offset="0.0350" stop-color="#3755dc"/><stop offset="0.0350" stop-color="#3266ba"/><stop offset="0.0681" stop-color="#28877a"/><stop offset="0.0681" stop-color="#1e9850"/><stop offset="0.0816" stop-color="#08b914"/><stop offset="0.0929" stop-color="#02c308"/><stop offset="0.1132" stop-color="#02c406"/><stop offset="0.1132" stop-color="#05c408"/><stop offset="0.1434" stop-color="#3cd214"/><stop offset="0.1736" stop-color="#73df21"/><stop offset="0.1736" stop-color="#8ce628"/><stop offset="0.2026" stop-color="#c3f432"/><stop offset="0.2315" stop-color="#dcf934"/><stop offset="0.2701" stop-color="#ebfc34"/><stop offset="0.3666" stop-color="#f3fd34"/><stop offset="0.3667" stop-color="#ffff33"/><stop offset="0.9875" stop-color="#fcfe34"/><stop offset="0.9876" stop-color="#eefa3e"/><stop offset="0.9977" stop-color="#ecf93f"/></linearGradient><linearGradient id="g186" gradientUnits="userSpaceOnUse" x1="91.65" y1="0" x2="305.95" y2="0"><stop offset="0.0023" stop-color="#3e48ee"/><stop offset="0.0348" stop-color="#3755dc"/><stop offset="0.0348" stop-color="#3266ba"/><stop offset="0.0676" stop-color="#28877a"/><stop offset="0.0676" stop-color="#1e9850"/><stop offset="0.0812" stop-color="#08b914"/><stop offset="0.0924" stop-color="#02c308"/><stop offset="0.1127" stop-color="#02c406"/><stop offset="0.1127" stop-color="#05c408"/><stop offset="0.1427" stop-color="#3cd214"/><stop offset="0.1728" stop-color="#73df21"/><stop offset="0.1728" stop-color="#8ce628"/><stop offset="0.2017" stop-color="#c3f432"/><stop offset="0.2307" stop-color="#dcf934"/><stop offset="0.2694" stop-color="#ebfc34"/><stop offset="0.3660" stop-color="#f3fd34"/><stop offset="0.3661" stop-color="#ffff33"/><stop offset="0.9779" stop-color="#fcfe34"/><stop offset="0.9780" stop-color="#eefa3e"/><stop offset="0.9977" stop-color="#ebf940"/></linearGradient><linearGradient id="g187" gradientUnits="userSpaceOnUse" x1="91.08" y1="0" x2="306.52" y2="0"><stop offset="0.0023" stop-color="#3e48ee"/><stop offset="0.0345" stop-color="#3755dc"/><stop offset="0.0345" stop-color="#3266ba"/><stop offset="0.0672" stop-color="#28877a"/><stop offset="0.0672" stop-color="#1e9850"/><stop offset="0.0807" stop-color="#08b914"/><stop offset="0.0920" stop-color="#02c308"/><stop offset="0.1122" stop-color="#02c406"/><stop offset="0.1122" stop-color="#05c408"/><stop offset="0.1421" stop-color="#3cd214"/><stop offset="0.1719" stop-color="#73df21"/><stop offset="0.1719" stop-color="#8ce628"/><stop offset="0.2010" stop-color="#c3f432"/><stop offset="0.2301" stop-color="#dcf934"/><stop offset="0.2689" stop-color="#ebfc34"/><stop offset="0.3658" stop-color="#f3fd34"/><stop offset="0.3659" stop-color="#ffff33"/><stop offset="0.9684" stop-color="#fcfe34"/><stop offset="0.9685" stop-color="#eefa3e"/><stop offset="0.9977" stop-color="#ebf940"/></linearGradient><linearGradient id="g188" gradientUnits="userSpaceOnUse" x1="90.50" y1="0" x2="307.10" y2="0"><stop offset="0.0023" stop-color="#3e48ee"/><stop offset="0.0343" stop-color="#3755dc"/><stop offset="0.0343" stop-color="#3266ba"/><stop offset="0.0668" stop-color="#28877a"/><stop offset="0.0668" stop-color="#1e9850"/><stop offset="0.0803" stop-color="#08b914"/><stop offset="0.0915" stop-color="#02c308"/><stop offset="0.1117" stop-color="#02c406"/><stop offset="0.1117" stop-color="#05c408"/><stop offset="0.1414" stop-color="#3cd214"/><stop offset="0.1710" stop-color="#73df21"/><stop offset="0.1710" stop-color="#8ce628"/><stop offset="0.2003" stop-color="#c3f432"/><stop offset="0.2297" stop-color="#dcf934"/><stop offset="0.2687" stop-color="#ebfc34"/><stop offset="0.3665" stop-color="#f3fd34"/><stop offset="0.3665" stop-color="#ffff33"/><stop offset="0.9591" stop-color="#fcfe34"/><stop offset="0.9592" stop-color="#eefa3e"/><stop offset="0.9977" stop-color="#eaf941"/></linearGradient><linearGradient id="g189" gradientUnits="userSpaceOnUse" x1="89.92" y1="0" x2="307.68" y2="0"><stop offset="0.0023" stop-color="#3e48ee"/><stop offset="0.0341" stop-color="#3755dc"/><stop offset="0.0341" stop-color="#3266ba"/><stop offset="0.0664" stop-color="#28877a"/><stop offset="0.0664" stop-color="#1e9850"/><stop offset="0.0798" stop-color="#08b914"/><stop offset="0.0910" stop-color="#02c308"/><stop offset="0.1112" stop-color="#02c406"/><stop offset="0.1112" stop-color="#05c408"/><stop offset="0.1407" stop-color="#3cd214"/><stop offset="0.1702" stop-color="#73df21"/><stop offset="0.1702" stop-color="#8ce628"/><stop offset="0.1997" stop-color="#c3f432"/><stop offset="0.2293" stop-color="#dcf934"/><stop offset="0.2686" stop-color="#ebfc34"/><stop offset="0.3671" stop-color="#f3fd34"/><stop offset="0.3671" stop-color="#ffff33"/><stop offset="0.9491" stop-color="#fcfe34"/><stop offset="0.9492" stop-color="#eefa3e"/><stop offset="0.9977" stop-color="#eaf941"/></linearGradient><linearGradient id="g190" gradientUnits="userSpaceOnUse" x1="89.34" y1="0" x2="308.26" y2="0"><stop offset="0.0023" stop-color="#3e48ee"/><stop offset="0.0339" stop-color="#3755dc"/><stop offset="0.0339" stop-color="#3266ba"/><stop offset="0.0659" stop-color="#28877a"/><stop offset="0.0659" stop-color="#1e9850"/><stop offset="0.0794" stop-color="#08b914"/><stop offset="0.0906" stop-color="#02c308"/><stop offset="0.1108" stop-color="#02c406"/><stop offset="0.1108" stop-color="#05c408"/><stop offset="0.1400" stop-color="#3cd214"/><stop offset="0.1693" stop-color="#73df21"/><stop offset="0.1693" stop-color="#8ce628"/><stop offset="0.1991" stop-color="#c3f432"/><stop offset="0.2289" stop-color="#dcf934"/><stop offset="0.2685" stop-color="#ebfc34"/><stop offset="0.3677" stop-color="#f3fd34"/><stop offset="0.3678" stop-color="#ffff33"/><stop offset="0.9387" stop-color="#fcfe34"/><stop offset="0.9387" stop-color="#eefa3e"/><stop offset="0.9977" stop-color="#eaf941"/></linearGradient><linearGradient id="g191" gradientUnits="userSpaceOnUse" x1="88.77" y1="0" x2="308.83" y2="0"><stop offset="0.0023" stop-color="#3e48ee"/><stop offset="0.0337" stop-color="#3755dc"/><stop offset="0.0337" stop-color="#3266ba"/><stop offset="0.0655" stop-color="#28877a"/><stop offset="0.0655" stop-color="#1e9850"/><stop offset="0.0790" stop-color="#08b914"/><stop offset="0.0901" stop-color="#02c308"/><stop offset="0.1103" stop-color="#02c406"/><stop offset="0.1103" stop-color="#05c408"/><stop offset="0.1394" stop-color="#3cd214"/><stop offset="0.1685" stop-color="#73df21"/><stop offset="0.1685" stop-color="#8ce628"/><stop offset="0.1985" stop-color="#c3f432"/><stop offset="0.2285" stop-color="#dcf934"/><stop offset="0.2684" stop-color="#ebfc34"/><stop offset="0.3683" stop-color="#f3fd34"/><stop offset="0.3684" stop-color="#ffff33"/><stop offset="0.9283" stop-color="#fcfe34"/><stop offset="0.9284" stop-color="#eefa3e"/><stop offset="0.9977" stop-color="#e9f841"/></linearGradient><linearGradient id="g192" gradientUnits="userSpaceOnUse" x1="88.19" y1="0" x2="309.41" y2="0"><stop offset="0.0023" stop-color="#3e48ee"/><stop offset="0.0335" stop-color="#3755dc"/><stop offset="0.0335" stop-color="#3266ba"/><stop offset="0.0651" stop-color="#28877a"/><stop offset="0.0651" stop-color="#1e9850"/><stop offset="0.0785" stop-color="#08b914"/><stop offset="0.0897" stop-color="#02c308"/><stop offset="0.1098" stop-color="#02c406"/><stop offset="0.1098" stop-color="#05c408"/><stop offset="0.1387" stop-color="#3cd214"/><stop offset="0.1677" stop-color="#73df21"/><stop offset="0.1677" stop-color="#8ce628"/><stop offset="0.1979" stop-color="#c3f432"/><stop offset="0.2281" stop-color="#dcf934"/><stop offset="0.2683" stop-color="#ebfc34"/><stop offset="0.3689" stop-color="#f3fd34"/><stop offset="0.3690" stop-color="#ffff33"/><stop offset="0.9180" stop-color="#fcfe34"/><stop offset="0.9181" stop-color="#eefa3e"/><stop offset="0.9977" stop-color="#e9f841"/></linearGradient><linearGradient id="cbar" x1="0" y1="1" x2="0" y2="0"><stop offset="0.0000" stop-color="#4141fa"/><stop offset="0.0510" stop-color="#414beb"/><stop offset="0.1429" stop-color="#3264be"/><stop offset="0.2449" stop-color="#237d82"/><stop offset="0.3469" stop-color="#199b4b"/><stop offset="0.4490" stop-color="#0ab914"/><stop offset="0.5510" stop-color="#1ec80a"/><stop offset="0.6531" stop-color="#55d719"/><stop offset="0.7551" stop-color="#8ce628"/><stop offset="0.8571" stop-color="#c3f532"/><stop offset="0.9592" stop-color="#f5ff32"/><stop offset="1.0000" stop-color="#ffff33"/></linearGradient><marker id="arr" viewBox="0 0 12 6" refX="11.5" refY="3" markerWidth="6.2" markerHeight="3.1" markerUnits="userSpaceOnUse" orient="auto"><path d="M0,0 L12,3 L0,6 z" fill="#111"/></marker><marker id="arrS" viewBox="0 0 10 8" refX="9.5" refY="4" markerWidth="3.8" markerHeight="3.0" markerUnits="userSpaceOnUse" orient="auto"><path d="M0,0 L10,4 L0,8 z" fill="#111"/></marker><linearGradient id="g193" gradientUnits="userSpaceOnUse" x1="448.06" y1="0" x2="505.30" y2="0"><stop offset="0.0052" stop-color="#3e48ee"/><stop offset="0.3372" stop-color="#3755dc"/><stop offset="0.3372" stop-color="#3266ba"/><stop offset="0.6813" stop-color="#28877a"/><stop offset="0.6813" stop-color="#1e9850"/><stop offset="0.7890" stop-color="#08b914"/><stop offset="0.8787" stop-color="#02c308"/><stop offset="0.9913" stop-color="#02c407"/></linearGradient><linearGradient id="g194" gradientUnits="userSpaceOnUse" x1="447.49" y1="0" x2="505.30" y2="0"><stop offset="0.0052" stop-color="#3e48ee"/><stop offset="0.3338" stop-color="#3755dc"/><stop offset="0.3338" stop-color="#3266ba"/><stop offset="0.6743" stop-color="#28877a"/><stop offset="0.6743" stop-color="#1e9850"/><stop offset="0.7808" stop-color="#08b914"/><stop offset="0.8696" stop-color="#02c308"/><stop offset="0.9914" stop-color="#02c406"/></linearGradient><linearGradient id="g195" gradientUnits="userSpaceOnUse" x1="446.92" y1="0" x2="505.30" y2="0"><stop offset="0.0051" stop-color="#3e48ee"/><stop offset="0.3305" stop-color="#3755dc"/><stop offset="0.3305" stop-color="#3266ba"/><stop offset="0.6675" stop-color="#28877a"/><stop offset="0.6675" stop-color="#1e9850"/><stop offset="0.7729" stop-color="#08b914"/><stop offset="0.8607" stop-color="#02c308"/><stop offset="0.9914" stop-color="#02c406"/></linearGradient><linearGradient id="g196" gradientUnits="userSpaceOnUse" x1="446.36" y1="0" x2="505.30" y2="0"><stop offset="0.0051" stop-color="#3e48ee"/><stop offset="0.3273" stop-color="#3755dc"/><stop offset="0.3273" stop-color="#3266ba"/><stop offset="0.6607" stop-color="#28877a"/><stop offset="0.6607" stop-color="#1e9850"/><stop offset="0.7650" stop-color="#08b914"/><stop offset="0.8520" stop-color="#02c308"/><stop offset="0.9915" stop-color="#02c406"/></linearGradient><linearGradient id="g197" gradientUnits="userSpaceOnUse" x1="445.79" y1="0" x2="505.30" y2="0"><stop offset="0.0050" stop-color="#3e48ee"/><stop offset="0.3241" stop-color="#3755dc"/><stop offset="0.3241" stop-color="#3266ba"/><stop offset="0.6541" stop-color="#28877a"/><stop offset="0.6541" stop-color="#1e9850"/><stop offset="0.7574" stop-color="#08b914"/><stop offset="0.8434" stop-color="#02c308"/><stop offset="0.9916" stop-color="#02c406"/></linearGradient><linearGradient id="g198" gradientUnits="userSpaceOnUse" x1="445.23" y1="0" x2="505.30" y2="0"><stop offset="0.0050" stop-color="#3e48ee"/><stop offset="0.3210" stop-color="#3755dc"/><stop offset="0.3210" stop-color="#3266ba"/><stop offset="0.6476" stop-color="#28877a"/><stop offset="0.6476" stop-color="#1e9850"/><stop offset="0.7498" stop-color="#08b914"/><stop offset="0.8350" stop-color="#02c308"/><stop offset="0.9884" stop-color="#02c406"/><stop offset="0.9884" stop-color="#05c408"/><stop offset="0.9917" stop-color="#06c408"/></linearGradient><linearGradient id="g199" gradientUnits="userSpaceOnUse" x1="444.66" y1="0" x2="505.30" y2="0"><stop offset="0.0049" stop-color="#3e48ee"/><stop offset="0.3180" stop-color="#3755dc"/><stop offset="0.3180" stop-color="#3266ba"/><stop offset="0.6412" stop-color="#28877a"/><stop offset="0.6412" stop-color="#1e9850"/><stop offset="0.7424" stop-color="#08b914"/><stop offset="0.8268" stop-color="#02c308"/><stop offset="0.9786" stop-color="#02c406"/><stop offset="0.9786" stop-color="#05c408"/><stop offset="0.9918" stop-color="#07c508"/></linearGradient><linearGradient id="g200" gradientUnits="userSpaceOnUse" x1="444.09" y1="0" x2="505.30" y2="0"><stop offset="0.0049" stop-color="#3e48ee"/><stop offset="0.3150" stop-color="#3755dc"/><stop offset="0.3150" stop-color="#3266ba"/><stop offset="0.6350" stop-color="#28877a"/><stop offset="0.6350" stop-color="#1e9850"/><stop offset="0.7352" stop-color="#08b914"/><stop offset="0.8187" stop-color="#02c308"/><stop offset="0.9690" stop-color="#02c406"/><stop offset="0.9690" stop-color="#05c408"/><stop offset="0.9918" stop-color="#09c509"/></linearGradient><linearGradient id="g201" gradientUnits="userSpaceOnUse" x1="443.53" y1="0" x2="505.30" y2="0"><stop offset="0.0049" stop-color="#3e48ee"/><stop offset="0.3120" stop-color="#3755dc"/><stop offset="0.3120" stop-color="#3266ba"/><stop offset="0.6289" stop-color="#28877a"/><stop offset="0.6289" stop-color="#1e9850"/><stop offset="0.7281" stop-color="#08b914"/><stop offset="0.8107" stop-color="#02c308"/><stop offset="0.9595" stop-color="#02c406"/><stop offset="0.9595" stop-color="#05c408"/><stop offset="0.9919" stop-color="#0ac509"/></linearGradient><linearGradient id="g202" gradientUnits="userSpaceOnUse" x1="442.96" y1="0" x2="505.30" y2="0"><stop offset="0.0048" stop-color="#3e48ee"/><stop offset="0.3091" stop-color="#3755dc"/><stop offset="0.3091" stop-color="#3266ba"/><stop offset="0.6228" stop-color="#28877a"/><stop offset="0.6228" stop-color="#1e9850"/><stop offset="0.7211" stop-color="#08b914"/><stop offset="0.8029" stop-color="#02c308"/><stop offset="0.9503" stop-color="#02c406"/><stop offset="0.9503" stop-color="#05c408"/><stop offset="0.9920" stop-color="#0cc609"/></linearGradient><linearGradient id="g203" gradientUnits="userSpaceOnUse" x1="442.40" y1="0" x2="505.30" y2="0"><stop offset="0.0048" stop-color="#3e48ee"/><stop offset="0.3063" stop-color="#3755dc"/><stop offset="0.3063" stop-color="#3266ba"/><stop offset="0.6169" stop-color="#28877a"/><stop offset="0.6169" stop-color="#1e9850"/><stop offset="0.7142" stop-color="#08b914"/><stop offset="0.7953" stop-color="#02c308"/><stop offset="0.9412" stop-color="#02c406"/><stop offset="0.9412" stop-color="#05c408"/><stop offset="0.9921" stop-color="#0dc60a"/></linearGradient><linearGradient id="g204" gradientUnits="userSpaceOnUse" x1="441.83" y1="0" x2="505.30" y2="0"><stop offset="0.0047" stop-color="#3e48ee"/><stop offset="0.3035" stop-color="#3755dc"/><stop offset="0.3035" stop-color="#3266ba"/><stop offset="0.6111" stop-color="#28877a"/><stop offset="0.6111" stop-color="#1e9850"/><stop offset="0.7075" stop-color="#08b914"/><stop offset="0.7877" stop-color="#02c308"/><stop offset="0.9323" stop-color="#02c406"/><stop offset="0.9323" stop-color="#05c408"/><stop offset="0.9921" stop-color="#0fc70a"/></linearGradient><linearGradient id="g205" gradientUnits="userSpaceOnUse" x1="441.26" y1="0" x2="505.30" y2="0"><stop offset="0.0047" stop-color="#3e48ee"/><stop offset="0.3008" stop-color="#3755dc"/><stop offset="0.3008" stop-color="#3266ba"/><stop offset="0.6054" stop-color="#28877a"/><stop offset="0.6054" stop-color="#1e9850"/><stop offset="0.7008" stop-color="#08b914"/><stop offset="0.7804" stop-color="#02c308"/><stop offset="0.9235" stop-color="#02c406"/><stop offset="0.9235" stop-color="#05c408"/><stop offset="0.9922" stop-color="#11c70b"/></linearGradient><linearGradient id="g206" gradientUnits="userSpaceOnUse" x1="440.70" y1="0" x2="505.30" y2="0"><stop offset="0.0046" stop-color="#3e48ee"/><stop offset="0.2981" stop-color="#3755dc"/><stop offset="0.2981" stop-color="#3266ba"/><stop offset="0.5998" stop-color="#28877a"/><stop offset="0.5998" stop-color="#1e9850"/><stop offset="0.6943" stop-color="#08b914"/><stop offset="0.7731" stop-color="#02c308"/><stop offset="0.9149" stop-color="#02c406"/><stop offset="0.9149" stop-color="#05c408"/><stop offset="0.9923" stop-color="#12c70b"/></linearGradient><linearGradient id="g207" gradientUnits="userSpaceOnUse" x1="440.13" y1="0" x2="505.30" y2="0"><stop offset="0.0046" stop-color="#3e48ee"/><stop offset="0.2955" stop-color="#3755dc"/><stop offset="0.2955" stop-color="#3266ba"/><stop offset="0.5943" stop-color="#28877a"/><stop offset="0.5943" stop-color="#1e9850"/><stop offset="0.6879" stop-color="#08b914"/><stop offset="0.7660" stop-color="#02c308"/><stop offset="0.9064" stop-color="#02c406"/><stop offset="0.9064" stop-color="#05c408"/><stop offset="0.9923" stop-color="#14c80b"/></linearGradient><linearGradient id="g208" gradientUnits="userSpaceOnUse" x1="439.57" y1="0" x2="505.30" y2="0"><stop offset="0.0046" stop-color="#3e48ee"/><stop offset="0.2929" stop-color="#3755dc"/><stop offset="0.2929" stop-color="#3266ba"/><stop offset="0.5889" stop-color="#28877a"/><stop offset="0.5889" stop-color="#1e9850"/><stop offset="0.6816" stop-color="#08b914"/><stop offset="0.7589" stop-color="#02c308"/><stop offset="0.8981" stop-color="#02c406"/><stop offset="0.8981" stop-color="#05c408"/><stop offset="0.9924" stop-color="#15c80c"/></linearGradient><linearGradient id="g209" gradientUnits="userSpaceOnUse" x1="439.00" y1="0" x2="505.30" y2="0"><stop offset="0.0045" stop-color="#3e48ee"/><stop offset="0.2903" stop-color="#3755dc"/><stop offset="0.2903" stop-color="#3266ba"/><stop offset="0.5835" stop-color="#28877a"/><stop offset="0.5835" stop-color="#1e9850"/><stop offset="0.6755" stop-color="#08b914"/><stop offset="0.7521" stop-color="#02c308"/><stop offset="0.8899" stop-color="#02c406"/><stop offset="0.8899" stop-color="#05c408"/><stop offset="0.9925" stop-color="#17c90c"/></linearGradient><linearGradient id="g210" gradientUnits="userSpaceOnUse" x1="438.43" y1="0" x2="505.30" y2="0"><stop offset="0.0045" stop-color="#3e48ee"/><stop offset="0.2878" stop-color="#3755dc"/><stop offset="0.2878" stop-color="#3266ba"/><stop offset="0.5783" stop-color="#28877a"/><stop offset="0.5783" stop-color="#1e9850"/><stop offset="0.6694" stop-color="#08b914"/><stop offset="0.7453" stop-color="#02c308"/><stop offset="0.8819" stop-color="#02c406"/><stop offset="0.8819" stop-color="#05c408"/><stop offset="0.9925" stop-color="#19c90c"/></linearGradient><linearGradient id="g211" gradientUnits="userSpaceOnUse" x1="437.87" y1="0" x2="505.30" y2="0"><stop offset="0.0044" stop-color="#3e48ee"/><stop offset="0.2853" stop-color="#3755dc"/><stop offset="0.2853" stop-color="#3266ba"/><stop offset="0.5732" stop-color="#28877a"/><stop offset="0.5732" stop-color="#1e9850"/><stop offset="0.6634" stop-color="#08b914"/><stop offset="0.7386" stop-color="#02c308"/><stop offset="0.8740" stop-color="#02c406"/><stop offset="0.8740" stop-color="#05c408"/><stop offset="0.9926" stop-color="#1ac90d"/></linearGradient><linearGradient id="g212" gradientUnits="userSpaceOnUse" x1="437.30" y1="0" x2="505.30" y2="0"><stop offset="0.0044" stop-color="#3e48ee"/><stop offset="0.2829" stop-color="#3755dc"/><stop offset="0.2829" stop-color="#3266ba"/><stop offset="0.5681" stop-color="#28877a"/><stop offset="0.5681" stop-color="#1e9850"/><stop offset="0.6575" stop-color="#08b914"/><stop offset="0.7321" stop-color="#02c308"/><stop offset="0.8662" stop-color="#02c406"/><stop offset="0.8662" stop-color="#05c408"/><stop offset="0.9926" stop-color="#1cca0d"/></linearGradient><linearGradient id="g213" gradientUnits="userSpaceOnUse" x1="436.74" y1="0" x2="505.30" y2="0"><stop offset="0.0044" stop-color="#3e48ee"/><stop offset="0.2805" stop-color="#3755dc"/><stop offset="0.2805" stop-color="#3266ba"/><stop offset="0.5631" stop-color="#28877a"/><stop offset="0.5631" stop-color="#1e9850"/><stop offset="0.6518" stop-color="#08b914"/><stop offset="0.7256" stop-color="#02c308"/><stop offset="0.8586" stop-color="#02c406"/><stop offset="0.8586" stop-color="#05c408"/><stop offset="0.9927" stop-color="#1dca0d"/></linearGradient><linearGradient id="g214" gradientUnits="userSpaceOnUse" x1="436.17" y1="0" x2="505.30" y2="0"><stop offset="0.0043" stop-color="#3e48ee"/><stop offset="0.2782" stop-color="#3755dc"/><stop offset="0.2782" stop-color="#3266ba"/><stop offset="0.5582" stop-color="#28877a"/><stop offset="0.5582" stop-color="#1e9850"/><stop offset="0.6461" stop-color="#08b914"/><stop offset="0.7193" stop-color="#02c308"/><stop offset="0.8510" stop-color="#02c406"/><stop offset="0.8510" stop-color="#05c408"/><stop offset="0.9928" stop-color="#1fcb0e"/></linearGradient><linearGradient id="g215" gradientUnits="userSpaceOnUse" x1="435.60" y1="0" x2="505.30" y2="0"><stop offset="0.0043" stop-color="#3e48ee"/><stop offset="0.2759" stop-color="#3755dc"/><stop offset="0.2759" stop-color="#3266ba"/><stop offset="0.5534" stop-color="#28877a"/><stop offset="0.5534" stop-color="#1e9850"/><stop offset="0.6405" stop-color="#08b914"/><stop offset="0.7130" stop-color="#02c308"/><stop offset="0.8437" stop-color="#02c406"/><stop offset="0.8437" stop-color="#05c408"/><stop offset="0.9928" stop-color="#21cb0e"/></linearGradient><linearGradient id="g216" gradientUnits="userSpaceOnUse" x1="435.04" y1="0" x2="505.30" y2="0"><stop offset="0.0043" stop-color="#3e48ee"/><stop offset="0.2736" stop-color="#3755dc"/><stop offset="0.2736" stop-color="#3266ba"/><stop offset="0.5487" stop-color="#28877a"/><stop offset="0.5487" stop-color="#1e9850"/><stop offset="0.6350" stop-color="#08b914"/><stop offset="0.7069" stop-color="#02c308"/><stop offset="0.8364" stop-color="#02c406"/><stop offset="0.8364" stop-color="#05c408"/><stop offset="0.9929" stop-color="#22cb0e"/></linearGradient><linearGradient id="g217" gradientUnits="userSpaceOnUse" x1="434.47" y1="0" x2="505.30" y2="0"><stop offset="0.0042" stop-color="#3e48ee"/><stop offset="0.2714" stop-color="#3755dc"/><stop offset="0.2714" stop-color="#3266ba"/><stop offset="0.5440" stop-color="#28877a"/><stop offset="0.5440" stop-color="#1e9850"/><stop offset="0.6296" stop-color="#08b914"/><stop offset="0.7009" stop-color="#02c308"/><stop offset="0.8292" stop-color="#02c406"/><stop offset="0.8292" stop-color="#05c408"/><stop offset="0.9929" stop-color="#24cc0f"/></linearGradient><linearGradient id="g218" gradientUnits="userSpaceOnUse" x1="433.90" y1="0" x2="505.30" y2="0"><stop offset="0.0042" stop-color="#3e48ee"/><stop offset="0.2692" stop-color="#3755dc"/><stop offset="0.2692" stop-color="#3266ba"/><stop offset="0.5394" stop-color="#28877a"/><stop offset="0.5394" stop-color="#1e9850"/><stop offset="0.6243" stop-color="#08b914"/><stop offset="0.6949" stop-color="#02c308"/><stop offset="0.8222" stop-color="#02c406"/><stop offset="0.8222" stop-color="#05c408"/><stop offset="0.9930" stop-color="#26cc0f"/></linearGradient><linearGradient id="g219" gradientUnits="userSpaceOnUse" x1="433.34" y1="0" x2="505.30" y2="0"><stop offset="0.0042" stop-color="#3e48ee"/><stop offset="0.2670" stop-color="#3755dc"/><stop offset="0.2670" stop-color="#3266ba"/><stop offset="0.5349" stop-color="#28877a"/><stop offset="0.5349" stop-color="#1e9850"/><stop offset="0.6190" stop-color="#08b914"/><stop offset="0.6891" stop-color="#02c308"/><stop offset="0.8152" stop-color="#02c406"/><stop offset="0.8152" stop-color="#05c408"/><stop offset="0.9931" stop-color="#27cd0f"/></linearGradient><linearGradient id="g220" gradientUnits="userSpaceOnUse" x1="432.77" y1="0" x2="505.30" y2="0"><stop offset="0.0041" stop-color="#3e48ee"/><stop offset="0.2649" stop-color="#3755dc"/><stop offset="0.2649" stop-color="#3266ba"/><stop offset="0.5305" stop-color="#28877a"/><stop offset="0.5305" stop-color="#1e9850"/><stop offset="0.6138" stop-color="#08b914"/><stop offset="0.6833" stop-color="#02c308"/><stop offset="0.8084" stop-color="#02c406"/><stop offset="0.8084" stop-color="#05c408"/><stop offset="0.9931" stop-color="#29cd10"/></linearGradient><linearGradient id="g221" gradientUnits="userSpaceOnUse" x1="432.21" y1="0" x2="505.30" y2="0"><stop offset="0.0041" stop-color="#3e48ee"/><stop offset="0.2628" stop-color="#3755dc"/><stop offset="0.2628" stop-color="#3266ba"/><stop offset="0.5261" stop-color="#28877a"/><stop offset="0.5261" stop-color="#1e9850"/><stop offset="0.6088" stop-color="#08b914"/><stop offset="0.6777" stop-color="#02c308"/><stop offset="0.8017" stop-color="#02c406"/><stop offset="0.8017" stop-color="#05c408"/><stop offset="0.9932" stop-color="#2bce10"/></linearGradient><linearGradient id="g222" gradientUnits="userSpaceOnUse" x1="431.64" y1="0" x2="505.30" y2="0"><stop offset="0.0041" stop-color="#3e48ee"/><stop offset="0.2607" stop-color="#3755dc"/><stop offset="0.2607" stop-color="#3266ba"/><stop offset="0.5218" stop-color="#28877a"/><stop offset="0.5218" stop-color="#1e9850"/><stop offset="0.6038" stop-color="#08b914"/><stop offset="0.6721" stop-color="#02c308"/><stop offset="0.7951" stop-color="#02c406"/><stop offset="0.7951" stop-color="#05c408"/><stop offset="0.9932" stop-color="#2cce11"/></linearGradient><linearGradient id="g223" gradientUnits="userSpaceOnUse" x1="431.07" y1="0" x2="505.30" y2="0"><stop offset="0.0040" stop-color="#3e48ee"/><stop offset="0.2587" stop-color="#3755dc"/><stop offset="0.2587" stop-color="#3266ba"/><stop offset="0.5175" stop-color="#28877a"/><stop offset="0.5175" stop-color="#1e9850"/><stop offset="0.5988" stop-color="#08b914"/><stop offset="0.6666" stop-color="#02c308"/><stop offset="0.7885" stop-color="#02c406"/><stop offset="0.7885" stop-color="#05c408"/><stop offset="0.9933" stop-color="#2ece11"/></linearGradient><linearGradient id="g224" gradientUnits="userSpaceOnUse" x1="430.51" y1="0" x2="505.30" y2="0"><stop offset="0.0040" stop-color="#3e48ee"/><stop offset="0.2567" stop-color="#3755dc"/><stop offset="0.2567" stop-color="#3266ba"/><stop offset="0.5134" stop-color="#28877a"/><stop offset="0.5134" stop-color="#1e9850"/><stop offset="0.5940" stop-color="#08b914"/><stop offset="0.6612" stop-color="#02c308"/><stop offset="0.7821" stop-color="#02c406"/><stop offset="0.7821" stop-color="#05c408"/><stop offset="0.9933" stop-color="#30cf11"/></linearGradient><linearGradient id="g225" gradientUnits="userSpaceOnUse" x1="429.94" y1="0" x2="505.30" y2="0"><stop offset="0.0040" stop-color="#3e48ee"/><stop offset="0.2547" stop-color="#3755dc"/><stop offset="0.2547" stop-color="#3266ba"/><stop offset="0.5092" stop-color="#28877a"/><stop offset="0.5092" stop-color="#1e9850"/><stop offset="0.5892" stop-color="#08b914"/><stop offset="0.6559" stop-color="#02c308"/><stop offset="0.7758" stop-color="#02c406"/><stop offset="0.7758" stop-color="#05c408"/><stop offset="0.9934" stop-color="#31cf12"/></linearGradient><linearGradient id="g226" gradientUnits="userSpaceOnUse" x1="429.38" y1="0" x2="505.30" y2="0"><stop offset="0.0040" stop-color="#3e48ee"/><stop offset="0.2528" stop-color="#3755dc"/><stop offset="0.2528" stop-color="#3266ba"/><stop offset="0.5052" stop-color="#28877a"/><stop offset="0.5052" stop-color="#1e9850"/><stop offset="0.5845" stop-color="#08b914"/><stop offset="0.6506" stop-color="#02c308"/><stop offset="0.7696" stop-color="#02c406"/><stop offset="0.7696" stop-color="#05c408"/><stop offset="0.9934" stop-color="#33d012"/></linearGradient><linearGradient id="g227" gradientUnits="userSpaceOnUse" x1="428.81" y1="0" x2="505.30" y2="0"><stop offset="0.0039" stop-color="#3e48ee"/><stop offset="0.2509" stop-color="#3755dc"/><stop offset="0.2509" stop-color="#3266ba"/><stop offset="0.5012" stop-color="#28877a"/><stop offset="0.5012" stop-color="#1e9850"/><stop offset="0.5799" stop-color="#08b914"/><stop offset="0.6454" stop-color="#02c308"/><stop offset="0.7634" stop-color="#02c406"/><stop offset="0.7634" stop-color="#05c408"/><stop offset="0.9935" stop-color="#35d012"/></linearGradient><linearGradient id="g228" gradientUnits="userSpaceOnUse" x1="428.24" y1="0" x2="505.30" y2="0"><stop offset="0.0039" stop-color="#3e48ee"/><stop offset="0.2490" stop-color="#3755dc"/><stop offset="0.2490" stop-color="#3266ba"/><stop offset="0.4973" stop-color="#28877a"/><stop offset="0.4973" stop-color="#1e9850"/><stop offset="0.5753" stop-color="#08b914"/><stop offset="0.6403" stop-color="#02c308"/><stop offset="0.7574" stop-color="#02c406"/><stop offset="0.7574" stop-color="#05c408"/><stop offset="0.9935" stop-color="#36d113"/></linearGradient><linearGradient id="g229" gradientUnits="userSpaceOnUse" x1="427.68" y1="0" x2="505.30" y2="0"><stop offset="0.0039" stop-color="#3e48ee"/><stop offset="0.2471" stop-color="#3755dc"/><stop offset="0.2471" stop-color="#3266ba"/><stop offset="0.4934" stop-color="#28877a"/><stop offset="0.4934" stop-color="#1e9850"/><stop offset="0.5708" stop-color="#08b914"/><stop offset="0.6353" stop-color="#02c308"/><stop offset="0.7514" stop-color="#02c406"/><stop offset="0.7514" stop-color="#05c408"/><stop offset="0.9936" stop-color="#38d113"/></linearGradient><linearGradient id="g230" gradientUnits="userSpaceOnUse" x1="427.11" y1="0" x2="505.30" y2="0"><stop offset="0.0038" stop-color="#3e48ee"/><stop offset="0.2453" stop-color="#3755dc"/><stop offset="0.2453" stop-color="#3266ba"/><stop offset="0.4896" stop-color="#28877a"/><stop offset="0.4896" stop-color="#1e9850"/><stop offset="0.5664" stop-color="#08b914"/><stop offset="0.6304" stop-color="#02c308"/><stop offset="0.7456" stop-color="#02c406"/><stop offset="0.7456" stop-color="#05c408"/><stop offset="0.9936" stop-color="#3ad114"/></linearGradient><linearGradient id="g231" gradientUnits="userSpaceOnUse" x1="426.55" y1="0" x2="505.30" y2="0"><stop offset="0.0038" stop-color="#3e48ee"/><stop offset="0.2435" stop-color="#3755dc"/><stop offset="0.2435" stop-color="#3266ba"/><stop offset="0.4858" stop-color="#28877a"/><stop offset="0.4858" stop-color="#1e9850"/><stop offset="0.5620" stop-color="#08b914"/><stop offset="0.6255" stop-color="#02c308"/><stop offset="0.7398" stop-color="#02c406"/><stop offset="0.7398" stop-color="#05c408"/><stop offset="0.9937" stop-color="#3cd214"/></linearGradient><linearGradient id="g232" gradientUnits="userSpaceOnUse" x1="425.98" y1="0" x2="505.30" y2="0"><stop offset="0.0038" stop-color="#3e48ee"/><stop offset="0.2417" stop-color="#3755dc"/><stop offset="0.2417" stop-color="#3266ba"/><stop offset="0.4821" stop-color="#28877a"/><stop offset="0.4821" stop-color="#1e9850"/><stop offset="0.5577" stop-color="#08b914"/><stop offset="0.6207" stop-color="#02c308"/><stop offset="0.7341" stop-color="#02c406"/><stop offset="0.7341" stop-color="#05c408"/><stop offset="0.9874" stop-color="#3cd214"/><stop offset="0.9937" stop-color="#3dd214"/></linearGradient><linearGradient id="g233" gradientUnits="userSpaceOnUse" x1="425.41" y1="0" x2="505.30" y2="0"><stop offset="0.0038" stop-color="#3e48ee"/><stop offset="0.2400" stop-color="#3755dc"/><stop offset="0.2400" stop-color="#3266ba"/><stop offset="0.4784" stop-color="#28877a"/><stop offset="0.4784" stop-color="#1e9850"/><stop offset="0.5534" stop-color="#08b914"/><stop offset="0.6159" stop-color="#02c308"/><stop offset="0.7284" stop-color="#02c406"/><stop offset="0.7284" stop-color="#05c408"/><stop offset="0.9796" stop-color="#3cd214"/><stop offset="0.9937" stop-color="#3fd315"/></linearGradient><linearGradient id="g234" gradientUnits="userSpaceOnUse" x1="424.85" y1="0" x2="505.30" y2="0"><stop offset="0.0037" stop-color="#3e48ee"/><stop offset="0.2382" stop-color="#3755dc"/><stop offset="0.2382" stop-color="#3266ba"/><stop offset="0.4748" stop-color="#28877a"/><stop offset="0.4748" stop-color="#1e9850"/><stop offset="0.5492" stop-color="#08b914"/><stop offset="0.6113" stop-color="#02c308"/><stop offset="0.7229" stop-color="#02c406"/><stop offset="0.7229" stop-color="#05c408"/><stop offset="0.9719" stop-color="#3cd214"/><stop offset="0.9938" stop-color="#41d315"/></linearGradient><linearGradient id="g235" gradientUnits="userSpaceOnUse" x1="424.28" y1="0" x2="505.30" y2="0"><stop offset="0.0037" stop-color="#3e48ee"/><stop offset="0.2365" stop-color="#3755dc"/><stop offset="0.2365" stop-color="#3266ba"/><stop offset="0.4712" stop-color="#28877a"/><stop offset="0.4712" stop-color="#1e9850"/><stop offset="0.5451" stop-color="#08b914"/><stop offset="0.6066" stop-color="#02c308"/><stop offset="0.7174" stop-color="#02c406"/><stop offset="0.7174" stop-color="#05c408"/><stop offset="0.9643" stop-color="#3cd214"/><stop offset="0.9938" stop-color="#43d416"/></linearGradient><linearGradient id="g236" gradientUnits="userSpaceOnUse" x1="423.72" y1="0" x2="505.30" y2="0"><stop offset="0.0037" stop-color="#3e48ee"/><stop offset="0.2348" stop-color="#3755dc"/><stop offset="0.2348" stop-color="#3266ba"/><stop offset="0.4677" stop-color="#28877a"/><stop offset="0.4677" stop-color="#1e9850"/><stop offset="0.5410" stop-color="#08b914"/><stop offset="0.6021" stop-color="#02c308"/><stop offset="0.7120" stop-color="#02c406"/><stop offset="0.7120" stop-color="#05c408"/><stop offset="0.9568" stop-color="#3cd214"/><stop offset="0.9939" stop-color="#44d416"/></linearGradient><linearGradient id="g237" gradientUnits="userSpaceOnUse" x1="423.15" y1="0" x2="505.30" y2="0"><stop offset="0.0037" stop-color="#3e48ee"/><stop offset="0.2332" stop-color="#3755dc"/><stop offset="0.2332" stop-color="#3266ba"/><stop offset="0.4643" stop-color="#28877a"/><stop offset="0.4643" stop-color="#1e9850"/><stop offset="0.5370" stop-color="#08b914"/><stop offset="0.5976" stop-color="#02c308"/><stop offset="0.7067" stop-color="#02c406"/><stop offset="0.7067" stop-color="#05c408"/><stop offset="0.9494" stop-color="#3cd214"/><stop offset="0.9939" stop-color="#46d416"/></linearGradient><linearGradient id="g238" gradientUnits="userSpaceOnUse" x1="422.58" y1="0" x2="505.30" y2="0"><stop offset="0.0036" stop-color="#3e48ee"/><stop offset="0.2316" stop-color="#3755dc"/><stop offset="0.2316" stop-color="#3266ba"/><stop offset="0.4609" stop-color="#28877a"/><stop offset="0.4609" stop-color="#1e9850"/><stop offset="0.5330" stop-color="#08b914"/><stop offset="0.5932" stop-color="#02c308"/><stop offset="0.7015" stop-color="#02c406"/><stop offset="0.7015" stop-color="#05c408"/><stop offset="0.9421" stop-color="#3cd214"/><stop offset="0.9940" stop-color="#48d517"/></linearGradient><linearGradient id="g239" gradientUnits="userSpaceOnUse" x1="422.02" y1="0" x2="505.30" y2="0"><stop offset="0.0036" stop-color="#3e48ee"/><stop offset="0.2299" stop-color="#3755dc"/><stop offset="0.2299" stop-color="#3266ba"/><stop offset="0.4575" stop-color="#28877a"/><stop offset="0.4575" stop-color="#1e9850"/><stop offset="0.5291" stop-color="#08b914"/><stop offset="0.5888" stop-color="#02c308"/><stop offset="0.6963" stop-color="#02c406"/><stop offset="0.6963" stop-color="#05c408"/><stop offset="0.9349" stop-color="#3cd214"/><stop offset="0.9940" stop-color="#4ad517"/></linearGradient><linearGradient id="g240" gradientUnits="userSpaceOnUse" x1="421.45" y1="0" x2="505.30" y2="0"><stop offset="0.0036" stop-color="#3e48ee"/><stop offset="0.2284" stop-color="#3755dc"/><stop offset="0.2284" stop-color="#3266ba"/><stop offset="0.4542" stop-color="#28877a"/><stop offset="0.4542" stop-color="#1e9850"/><stop offset="0.5253" stop-color="#08b914"/><stop offset="0.5845" stop-color="#02c308"/><stop offset="0.6912" stop-color="#02c406"/><stop offset="0.6912" stop-color="#05c408"/><stop offset="0.9278" stop-color="#3cd214"/><stop offset="0.9940" stop-color="#4bd618"/></linearGradient><linearGradient id="g241" gradientUnits="userSpaceOnUse" x1="420.89" y1="0" x2="505.30" y2="0"><stop offset="0.0036" stop-color="#3e48ee"/><stop offset="0.2268" stop-color="#3755dc"/><stop offset="0.2268" stop-color="#3266ba"/><stop offset="0.4509" stop-color="#28877a"/><stop offset="0.4509" stop-color="#1e9850"/><stop offset="0.5215" stop-color="#08b914"/><stop offset="0.5803" stop-color="#02c308"/><stop offset="0.6862" stop-color="#02c406"/><stop offset="0.6862" stop-color="#05c408"/><stop offset="0.9208" stop-color="#3cd214"/><stop offset="0.9941" stop-color="#4dd618"/></linearGradient><linearGradient id="g242" gradientUnits="userSpaceOnUse" x1="420.32" y1="0" x2="505.30" y2="0"><stop offset="0.0035" stop-color="#3e48ee"/><stop offset="0.2252" stop-color="#3755dc"/><stop offset="0.2252" stop-color="#3266ba"/><stop offset="0.4477" stop-color="#28877a"/><stop offset="0.4477" stop-color="#1e9850"/><stop offset="0.5177" stop-color="#08b914"/><stop offset="0.5761" stop-color="#02c308"/><stop offset="0.6812" stop-color="#02c406"/><stop offset="0.6812" stop-color="#05c408"/><stop offset="0.9139" stop-color="#3cd214"/><stop offset="0.9941" stop-color="#4fd618"/></linearGradient><linearGradient id="g243" gradientUnits="userSpaceOnUse" x1="419.75" y1="0" x2="505.30" y2="0"><stop offset="0.0035" stop-color="#3e48ee"/><stop offset="0.2237" stop-color="#3755dc"/><stop offset="0.2237" stop-color="#3266ba"/><stop offset="0.4445" stop-color="#28877a"/><stop offset="0.4445" stop-color="#1e9850"/><stop offset="0.5140" stop-color="#08b914"/><stop offset="0.5720" stop-color="#02c308"/><stop offset="0.6763" stop-color="#02c406"/><stop offset="0.6763" stop-color="#05c408"/><stop offset="0.9070" stop-color="#3cd214"/><stop offset="0.9942" stop-color="#51d719"/></linearGradient><linearGradient id="g244" gradientUnits="userSpaceOnUse" x1="419.19" y1="0" x2="505.30" y2="0"><stop offset="0.0035" stop-color="#3e48ee"/><stop offset="0.2222" stop-color="#3755dc"/><stop offset="0.2222" stop-color="#3266ba"/><stop offset="0.4413" stop-color="#28877a"/><stop offset="0.4413" stop-color="#1e9850"/><stop offset="0.5104" stop-color="#08b914"/><stop offset="0.5679" stop-color="#02c308"/><stop offset="0.6715" stop-color="#02c406"/><stop offset="0.6715" stop-color="#05c408"/><stop offset="0.9003" stop-color="#3cd214"/><stop offset="0.9942" stop-color="#53d719"/></linearGradient><linearGradient id="g245" gradientUnits="userSpaceOnUse" x1="418.62" y1="0" x2="505.30" y2="0"><stop offset="0.0035" stop-color="#3e48ee"/><stop offset="0.2207" stop-color="#3755dc"/><stop offset="0.2207" stop-color="#3266ba"/><stop offset="0.4382" stop-color="#28877a"/><stop offset="0.4382" stop-color="#1e9850"/><stop offset="0.5068" stop-color="#08b914"/><stop offset="0.5639" stop-color="#02c308"/><stop offset="0.6667" stop-color="#02c406"/><stop offset="0.6667" stop-color="#05c408"/><stop offset="0.8937" stop-color="#3cd214"/><stop offset="0.9942" stop-color="#54d81a"/></linearGradient><linearGradient id="g246" gradientUnits="userSpaceOnUse" x1="418.05" y1="0" x2="505.30" y2="0"><stop offset="0.0034" stop-color="#3e48ee"/><stop offset="0.2192" stop-color="#3755dc"/><stop offset="0.2192" stop-color="#3266ba"/><stop offset="0.4351" stop-color="#28877a"/><stop offset="0.4351" stop-color="#1e9850"/><stop offset="0.5032" stop-color="#08b914"/><stop offset="0.5599" stop-color="#02c308"/><stop offset="0.6620" stop-color="#02c406"/><stop offset="0.6620" stop-color="#05c408"/><stop offset="0.8871" stop-color="#3cd214"/><stop offset="0.9943" stop-color="#56d81a"/></linearGradient><linearGradient id="g247" gradientUnits="userSpaceOnUse" x1="417.49" y1="0" x2="505.30" y2="0"><stop offset="0.0034" stop-color="#3e48ee"/><stop offset="0.2178" stop-color="#3755dc"/><stop offset="0.2178" stop-color="#3266ba"/><stop offset="0.4321" stop-color="#28877a"/><stop offset="0.4321" stop-color="#1e9850"/><stop offset="0.4997" stop-color="#08b914"/><stop offset="0.5560" stop-color="#02c308"/><stop offset="0.6573" stop-color="#02c406"/><stop offset="0.6573" stop-color="#05c408"/><stop offset="0.8806" stop-color="#3cd214"/><stop offset="0.9943" stop-color="#58d91b"/></linearGradient><linearGradient id="g248" gradientUnits="userSpaceOnUse" x1="416.92" y1="0" x2="505.30" y2="0"><stop offset="0.0034" stop-color="#3e48ee"/><stop offset="0.2164" stop-color="#3755dc"/><stop offset="0.2164" stop-color="#3266ba"/><stop offset="0.4291" stop-color="#28877a"/><stop offset="0.4291" stop-color="#1e9850"/><stop offset="0.4962" stop-color="#08b914"/><stop offset="0.5521" stop-color="#02c308"/><stop offset="0.6527" stop-color="#02c406"/><stop offset="0.6527" stop-color="#05c408"/><stop offset="0.8743" stop-color="#3cd214"/><stop offset="0.9943" stop-color="#5ad91b"/></linearGradient><linearGradient id="g249" gradientUnits="userSpaceOnUse" x1="416.36" y1="0" x2="505.30" y2="0"><stop offset="0.0034" stop-color="#3e48ee"/><stop offset="0.2149" stop-color="#3755dc"/><stop offset="0.2149" stop-color="#3266ba"/><stop offset="0.4262" stop-color="#28877a"/><stop offset="0.4262" stop-color="#1e9850"/><stop offset="0.4928" stop-color="#08b914"/><stop offset="0.5483" stop-color="#02c308"/><stop offset="0.6482" stop-color="#02c406"/><stop offset="0.6482" stop-color="#05c408"/><stop offset="0.8680" stop-color="#3cd214"/><stop offset="0.9944" stop-color="#5cd91b"/></linearGradient><linearGradient id="g250" gradientUnits="userSpaceOnUse" x1="415.79" y1="0" x2="505.30" y2="0"><stop offset="0.0034" stop-color="#3e48ee"/><stop offset="0.2135" stop-color="#3755dc"/><stop offset="0.2135" stop-color="#3266ba"/><stop offset="0.4233" stop-color="#28877a"/><stop offset="0.4233" stop-color="#1e9850"/><stop offset="0.4894" stop-color="#08b914"/><stop offset="0.5445" stop-color="#02c308"/><stop offset="0.6437" stop-color="#02c406"/><stop offset="0.6437" stop-color="#05c408"/><stop offset="0.8617" stop-color="#3cd214"/><stop offset="0.9944" stop-color="#5dda1c"/></linearGradient><linearGradient id="g251" gradientUnits="userSpaceOnUse" x1="415.22" y1="0" x2="505.30" y2="0"><stop offset="0.0033" stop-color="#3e48ee"/><stop offset="0.2122" stop-color="#3755dc"/><stop offset="0.2122" stop-color="#3266ba"/><stop offset="0.4204" stop-color="#28877a"/><stop offset="0.4204" stop-color="#1e9850"/><stop offset="0.4861" stop-color="#08b914"/><stop offset="0.5408" stop-color="#02c308"/><stop offset="0.6393" stop-color="#02c406"/><stop offset="0.6393" stop-color="#05c408"/><stop offset="0.8556" stop-color="#3cd214"/><stop offset="0.9944" stop-color="#5fda1c"/></linearGradient><linearGradient id="g252" gradientUnits="userSpaceOnUse" x1="414.66" y1="0" x2="505.30" y2="0"><stop offset="0.0033" stop-color="#3e48ee"/><stop offset="0.2108" stop-color="#3755dc"/><stop offset="0.2108" stop-color="#3266ba"/><stop offset="0.4175" stop-color="#28877a"/><stop offset="0.4175" stop-color="#1e9850"/><stop offset="0.4828" stop-color="#08b914"/><stop offset="0.5371" stop-color="#02c308"/><stop offset="0.6349" stop-color="#02c406"/><stop offset="0.6349" stop-color="#05c408"/><stop offset="0.8495" stop-color="#3cd214"/><stop offset="0.9945" stop-color="#61db1d"/></linearGradient><linearGradient id="g253" gradientUnits="userSpaceOnUse" x1="414.09" y1="0" x2="505.30" y2="0"><stop offset="0.0033" stop-color="#3e48ee"/><stop offset="0.2095" stop-color="#3755dc"/><stop offset="0.2095" stop-color="#3266ba"/><stop offset="0.4147" stop-color="#28877a"/><stop offset="0.4147" stop-color="#1e9850"/><stop offset="0.4795" stop-color="#08b914"/><stop offset="0.5335" stop-color="#02c308"/><stop offset="0.6306" stop-color="#02c406"/><stop offset="0.6306" stop-color="#05c408"/><stop offset="0.8435" stop-color="#3cd214"/><stop offset="0.9945" stop-color="#63db1d"/></linearGradient><linearGradient id="g254" gradientUnits="userSpaceOnUse" x1="413.53" y1="0" x2="505.30" y2="0"><stop offset="0.0033" stop-color="#3e48ee"/><stop offset="0.2081" stop-color="#3755dc"/><stop offset="0.2081" stop-color="#3266ba"/><stop offset="0.4120" stop-color="#28877a"/><stop offset="0.4120" stop-color="#1e9850"/><stop offset="0.4763" stop-color="#08b914"/><stop offset="0.5299" stop-color="#02c308"/><stop offset="0.6264" stop-color="#02c406"/><stop offset="0.6264" stop-color="#05c408"/><stop offset="0.8376" stop-color="#3cd214"/><stop offset="0.9946" stop-color="#65dc1e"/></linearGradient><linearGradient id="g255" gradientUnits="userSpaceOnUse" x1="412.96" y1="0" x2="505.30" y2="0"><stop offset="0.0032" stop-color="#3e48ee"/><stop offset="0.2068" stop-color="#3755dc"/><stop offset="0.2068" stop-color="#3266ba"/><stop offset="0.4092" stop-color="#28877a"/><stop offset="0.4092" stop-color="#1e9850"/><stop offset="0.4731" stop-color="#08b914"/><stop offset="0.5263" stop-color="#02c308"/><stop offset="0.6222" stop-color="#02c406"/><stop offset="0.6222" stop-color="#05c408"/><stop offset="0.8317" stop-color="#3cd214"/><stop offset="0.9946" stop-color="#67dc1e"/></linearGradient><linearGradient id="g256" gradientUnits="userSpaceOnUse" x1="412.39" y1="0" x2="505.30" y2="0"><stop offset="0.0032" stop-color="#3e48ee"/><stop offset="0.2055" stop-color="#3755dc"/><stop offset="0.2055" stop-color="#3266ba"/><stop offset="0.4065" stop-color="#28877a"/><stop offset="0.4065" stop-color="#1e9850"/><stop offset="0.4700" stop-color="#08b914"/><stop offset="0.5228" stop-color="#02c308"/><stop offset="0.6180" stop-color="#02c406"/><stop offset="0.6180" stop-color="#05c408"/><stop offset="0.8260" stop-color="#3cd214"/><stop offset="0.9946" stop-color="#69dd1f"/></linearGradient><linearGradient id="g257" gradientUnits="userSpaceOnUse" x1="411.83" y1="0" x2="505.30" y2="0"><stop offset="0.0032" stop-color="#3e48ee"/><stop offset="0.2042" stop-color="#3755dc"/><stop offset="0.2042" stop-color="#3266ba"/><stop offset="0.4039" stop-color="#28877a"/><stop offset="0.4039" stop-color="#1e9850"/><stop offset="0.4669" stop-color="#08b914"/><stop offset="0.5194" stop-color="#02c308"/><stop offset="0.6139" stop-color="#02c406"/><stop offset="0.6139" stop-color="#05c408"/><stop offset="0.8203" stop-color="#3cd214"/><stop offset="0.9947" stop-color="#6add1f"/></linearGradient><linearGradient id="g258" gradientUnits="userSpaceOnUse" x1="411.26" y1="0" x2="505.30" y2="0"><stop offset="0.0032" stop-color="#3e48ee"/><stop offset="0.2030" stop-color="#3755dc"/><stop offset="0.2030" stop-color="#3266ba"/><stop offset="0.4012" stop-color="#28877a"/><stop offset="0.4012" stop-color="#1e9850"/><stop offset="0.4638" stop-color="#08b914"/><stop offset="0.5160" stop-color="#02c308"/><stop offset="0.6098" stop-color="#02c406"/><stop offset="0.6098" stop-color="#05c408"/><stop offset="0.8146" stop-color="#3cd214"/><stop offset="0.9947" stop-color="#6cdd1f"/></linearGradient><linearGradient id="g259" gradientUnits="userSpaceOnUse" x1="410.70" y1="0" x2="505.30" y2="0"><stop offset="0.0032" stop-color="#3e48ee"/><stop offset="0.2017" stop-color="#3755dc"/><stop offset="0.2017" stop-color="#3266ba"/><stop offset="0.3986" stop-color="#28877a"/><stop offset="0.3986" stop-color="#1e9850"/><stop offset="0.4608" stop-color="#08b914"/><stop offset="0.5126" stop-color="#02c308"/><stop offset="0.6058" stop-color="#02c406"/><stop offset="0.6058" stop-color="#05c408"/><stop offset="0.8091" stop-color="#3cd214"/><stop offset="0.9947" stop-color="#6ede20"/></linearGradient><linearGradient id="g260" gradientUnits="userSpaceOnUse" x1="410.13" y1="0" x2="505.30" y2="0"><stop offset="0.0032" stop-color="#3e48ee"/><stop offset="0.2005" stop-color="#3755dc"/><stop offset="0.2005" stop-color="#3266ba"/><stop offset="0.3960" stop-color="#28877a"/><stop offset="0.3960" stop-color="#1e9850"/><stop offset="0.4578" stop-color="#08b914"/><stop offset="0.5092" stop-color="#02c308"/><stop offset="0.6019" stop-color="#02c406"/><stop offset="0.6019" stop-color="#05c408"/><stop offset="0.8035" stop-color="#3cd214"/><stop offset="0.9947" stop-color="#70de20"/></linearGradient><linearGradient id="g261" gradientUnits="userSpaceOnUse" x1="409.56" y1="0" x2="505.30" y2="0"><stop offset="0.0031" stop-color="#3e48ee"/><stop offset="0.1993" stop-color="#3755dc"/><stop offset="0.1993" stop-color="#3266ba"/><stop offset="0.3935" stop-color="#28877a"/><stop offset="0.3935" stop-color="#1e9850"/><stop offset="0.4548" stop-color="#08b914"/><stop offset="0.5059" stop-color="#02c308"/><stop offset="0.5980" stop-color="#02c406"/><stop offset="0.5980" stop-color="#05c408"/><stop offset="0.7981" stop-color="#3cd214"/><stop offset="0.9948" stop-color="#72df21"/></linearGradient><linearGradient id="g262" gradientUnits="userSpaceOnUse" x1="409.00" y1="0" x2="505.30" y2="0"><stop offset="0.0031" stop-color="#3e48ee"/><stop offset="0.1981" stop-color="#3755dc"/><stop offset="0.1981" stop-color="#3266ba"/><stop offset="0.3910" stop-color="#28877a"/><stop offset="0.3910" stop-color="#1e9850"/><stop offset="0.4519" stop-color="#08b914"/><stop offset="0.5027" stop-color="#02c308"/><stop offset="0.5941" stop-color="#02c406"/><stop offset="0.5941" stop-color="#05c408"/><stop offset="0.7927" stop-color="#3cd214"/><stop offset="0.9914" stop-color="#73df21"/><stop offset="0.9914" stop-color="#8ce628"/><stop offset="0.9948" stop-color="#8de628"/></linearGradient><linearGradient id="g263" gradientUnits="userSpaceOnUse" x1="408.43" y1="0" x2="505.30" y2="0"><stop offset="0.0031" stop-color="#3e48ee"/><stop offset="0.1969" stop-color="#3755dc"/><stop offset="0.1969" stop-color="#3266ba"/><stop offset="0.3885" stop-color="#28877a"/><stop offset="0.3885" stop-color="#1e9850"/><stop offset="0.4490" stop-color="#08b914"/><stop offset="0.4995" stop-color="#02c308"/><stop offset="0.5903" stop-color="#02c406"/><stop offset="0.5903" stop-color="#05c408"/><stop offset="0.7874" stop-color="#3cd214"/><stop offset="0.9846" stop-color="#73df21"/><stop offset="0.9846" stop-color="#8ce628"/><stop offset="0.9948" stop-color="#8fe729"/></linearGradient><linearGradient id="g264" gradientUnits="userSpaceOnUse" x1="407.87" y1="0" x2="505.30" y2="0"><stop offset="0.0031" stop-color="#3e48ee"/><stop offset="0.1957" stop-color="#3755dc"/><stop offset="0.1957" stop-color="#3266ba"/><stop offset="0.3860" stop-color="#28877a"/><stop offset="0.3860" stop-color="#1e9850"/><stop offset="0.4462" stop-color="#08b914"/><stop offset="0.4963" stop-color="#02c308"/><stop offset="0.5865" stop-color="#02c406"/><stop offset="0.5865" stop-color="#05c408"/><stop offset="0.7822" stop-color="#3cd214"/><stop offset="0.9778" stop-color="#73df21"/><stop offset="0.9778" stop-color="#8ce628"/><stop offset="0.9949" stop-color="#91e729"/></linearGradient><linearGradient id="g265" gradientUnits="userSpaceOnUse" x1="407.30" y1="0" x2="505.30" y2="0"><stop offset="0.0031" stop-color="#3e48ee"/><stop offset="0.1945" stop-color="#3755dc"/><stop offset="0.1945" stop-color="#3266ba"/><stop offset="0.3836" stop-color="#28877a"/><stop offset="0.3836" stop-color="#1e9850"/><stop offset="0.4433" stop-color="#08b914"/><stop offset="0.4931" stop-color="#02c308"/><stop offset="0.5828" stop-color="#02c406"/><stop offset="0.5828" stop-color="#05c408"/><stop offset="0.7770" stop-color="#3cd214"/><stop offset="0.9712" stop-color="#73df21"/><stop offset="0.9712" stop-color="#8ce628"/><stop offset="0.9949" stop-color="#93e829"/></linearGradient><linearGradient id="g266" gradientUnits="userSpaceOnUse" x1="406.73" y1="0" x2="505.30" y2="0"><stop offset="0.0030" stop-color="#3e48ee"/><stop offset="0.1934" stop-color="#3755dc"/><stop offset="0.1934" stop-color="#3266ba"/><stop offset="0.3812" stop-color="#28877a"/><stop offset="0.3812" stop-color="#1e9850"/><stop offset="0.4406" stop-color="#08b914"/><stop offset="0.4900" stop-color="#02c308"/><stop offset="0.5791" stop-color="#02c406"/><stop offset="0.5791" stop-color="#05c408"/><stop offset="0.7718" stop-color="#3cd214"/><stop offset="0.9646" stop-color="#73df21"/><stop offset="0.9646" stop-color="#8ce628"/><stop offset="0.9949" stop-color="#95e82a"/></linearGradient><linearGradient id="g267" gradientUnits="userSpaceOnUse" x1="406.17" y1="0" x2="505.30" y2="0"><stop offset="0.0030" stop-color="#3e48ee"/><stop offset="0.1923" stop-color="#3755dc"/><stop offset="0.1923" stop-color="#3266ba"/><stop offset="0.3788" stop-color="#28877a"/><stop offset="0.3788" stop-color="#1e9850"/><stop offset="0.4378" stop-color="#08b914"/><stop offset="0.4870" stop-color="#02c308"/><stop offset="0.5754" stop-color="#02c406"/><stop offset="0.5754" stop-color="#05c408"/><stop offset="0.7668" stop-color="#3cd214"/><stop offset="0.9581" stop-color="#73df21"/><stop offset="0.9581" stop-color="#8ce628"/><stop offset="0.9950" stop-color="#97e92a"/></linearGradient><linearGradient id="g268" gradientUnits="userSpaceOnUse" x1="405.60" y1="0" x2="505.30" y2="0"><stop offset="0.0030" stop-color="#3e48ee"/><stop offset="0.1911" stop-color="#3755dc"/><stop offset="0.1911" stop-color="#3266ba"/><stop offset="0.3765" stop-color="#28877a"/><stop offset="0.3765" stop-color="#1e9850"/><stop offset="0.4351" stop-color="#08b914"/><stop offset="0.4839" stop-color="#02c308"/><stop offset="0.5718" stop-color="#02c406"/><stop offset="0.5718" stop-color="#05c408"/><stop offset="0.7618" stop-color="#3cd214"/><stop offset="0.9517" stop-color="#73df21"/><stop offset="0.9517" stop-color="#8ce628"/><stop offset="0.9950" stop-color="#99e92a"/></linearGradient><linearGradient id="g269" gradientUnits="userSpaceOnUse" x1="405.04" y1="0" x2="505.30" y2="0"><stop offset="0.0030" stop-color="#3e48ee"/><stop offset="0.1900" stop-color="#3755dc"/><stop offset="0.1900" stop-color="#3266ba"/><stop offset="0.3742" stop-color="#28877a"/><stop offset="0.3742" stop-color="#1e9850"/><stop offset="0.4324" stop-color="#08b914"/><stop offset="0.4809" stop-color="#02c308"/><stop offset="0.5683" stop-color="#02c406"/><stop offset="0.5683" stop-color="#05c408"/><stop offset="0.7568" stop-color="#3cd214"/><stop offset="0.9453" stop-color="#73df21"/><stop offset="0.9453" stop-color="#8ce628"/><stop offset="0.9950" stop-color="#9bea2b"/></linearGradient><linearGradient id="g270" gradientUnits="userSpaceOnUse" x1="404.47" y1="0" x2="505.30" y2="0"><stop offset="0.0030" stop-color="#3e48ee"/><stop offset="0.1889" stop-color="#3755dc"/><stop offset="0.1889" stop-color="#3266ba"/><stop offset="0.3719" stop-color="#28877a"/><stop offset="0.3719" stop-color="#1e9850"/><stop offset="0.4297" stop-color="#08b914"/><stop offset="0.4779" stop-color="#02c308"/><stop offset="0.5647" stop-color="#02c406"/><stop offset="0.5647" stop-color="#05c408"/><stop offset="0.7519" stop-color="#3cd214"/><stop offset="0.9390" stop-color="#73df21"/><stop offset="0.9390" stop-color="#8ce628"/><stop offset="0.9950" stop-color="#9dea2b"/></linearGradient><linearGradient id="g271" gradientUnits="userSpaceOnUse" x1="403.90" y1="0" x2="505.30" y2="0"><stop offset="0.0030" stop-color="#3e48ee"/><stop offset="0.1878" stop-color="#3755dc"/><stop offset="0.1878" stop-color="#3266ba"/><stop offset="0.3696" stop-color="#28877a"/><stop offset="0.3696" stop-color="#1e9850"/><stop offset="0.4271" stop-color="#08b914"/><stop offset="0.4750" stop-color="#02c308"/><stop offset="0.5613" stop-color="#02c406"/><stop offset="0.5613" stop-color="#05c408"/><stop offset="0.7470" stop-color="#3cd214"/><stop offset="0.9328" stop-color="#73df21"/><stop offset="0.9328" stop-color="#8ce628"/><stop offset="0.9951" stop-color="#9feb2b"/></linearGradient><linearGradient id="g272" gradientUnits="userSpaceOnUse" x1="403.34" y1="0" x2="505.30" y2="0"><stop offset="0.0029" stop-color="#3e48ee"/><stop offset="0.1868" stop-color="#3755dc"/><stop offset="0.1868" stop-color="#3266ba"/><stop offset="0.3673" stop-color="#28877a"/><stop offset="0.3673" stop-color="#1e9850"/><stop offset="0.4245" stop-color="#08b914"/><stop offset="0.4721" stop-color="#02c308"/><stop offset="0.5578" stop-color="#02c406"/><stop offset="0.5578" stop-color="#05c408"/><stop offset="0.7423" stop-color="#3cd214"/><stop offset="0.9267" stop-color="#73df21"/><stop offset="0.9267" stop-color="#8ce628"/><stop offset="0.9951" stop-color="#a1eb2c"/></linearGradient><linearGradient id="g273" gradientUnits="userSpaceOnUse" x1="402.77" y1="0" x2="505.30" y2="0"><stop offset="0.0029" stop-color="#3e48ee"/><stop offset="0.1857" stop-color="#3755dc"/><stop offset="0.1857" stop-color="#3266ba"/><stop offset="0.3651" stop-color="#28877a"/><stop offset="0.3651" stop-color="#1e9850"/><stop offset="0.4219" stop-color="#08b914"/><stop offset="0.4692" stop-color="#02c308"/><stop offset="0.5544" stop-color="#02c406"/><stop offset="0.5544" stop-color="#05c408"/><stop offset="0.7375" stop-color="#3cd214"/><stop offset="0.9206" stop-color="#73df21"/><stop offset="0.9206" stop-color="#8ce628"/><stop offset="0.9951" stop-color="#a3ec2c"/></linearGradient><linearGradient id="g274" gradientUnits="userSpaceOnUse" x1="402.21" y1="0" x2="505.30" y2="0"><stop offset="0.0029" stop-color="#3e48ee"/><stop offset="0.1846" stop-color="#3755dc"/><stop offset="0.1846" stop-color="#3266ba"/><stop offset="0.3629" stop-color="#28877a"/><stop offset="0.3629" stop-color="#1e9850"/><stop offset="0.4194" stop-color="#08b914"/><stop offset="0.4664" stop-color="#02c308"/><stop offset="0.5510" stop-color="#02c406"/><stop offset="0.5510" stop-color="#05c408"/><stop offset="0.7328" stop-color="#3cd214"/><stop offset="0.9146" stop-color="#73df21"/><stop offset="0.9146" stop-color="#8ce628"/><stop offset="0.9952" stop-color="#a5ec2c"/></linearGradient><linearGradient id="g275" gradientUnits="userSpaceOnUse" x1="401.64" y1="0" x2="505.30" y2="0"><stop offset="0.0029" stop-color="#3e48ee"/><stop offset="0.1836" stop-color="#3755dc"/><stop offset="0.1836" stop-color="#3266ba"/><stop offset="0.3608" stop-color="#28877a"/><stop offset="0.3608" stop-color="#1e9850"/><stop offset="0.4168" stop-color="#08b914"/><stop offset="0.4636" stop-color="#02c308"/><stop offset="0.5477" stop-color="#02c406"/><stop offset="0.5477" stop-color="#05c408"/><stop offset="0.7282" stop-color="#3cd214"/><stop offset="0.9087" stop-color="#73df21"/><stop offset="0.9087" stop-color="#8ce628"/><stop offset="0.9952" stop-color="#a7ed2d"/></linearGradient><linearGradient id="g276" gradientUnits="userSpaceOnUse" x1="401.07" y1="0" x2="505.30" y2="0"><stop offset="0.0029" stop-color="#3e48ee"/><stop offset="0.1826" stop-color="#3755dc"/><stop offset="0.1826" stop-color="#3266ba"/><stop offset="0.3586" stop-color="#28877a"/><stop offset="0.3586" stop-color="#1e9850"/><stop offset="0.4143" stop-color="#08b914"/><stop offset="0.4608" stop-color="#02c308"/><stop offset="0.5444" stop-color="#02c406"/><stop offset="0.5444" stop-color="#05c408"/><stop offset="0.7236" stop-color="#3cd214"/><stop offset="0.9028" stop-color="#73df21"/><stop offset="0.9028" stop-color="#8ce628"/><stop offset="0.9952" stop-color="#a9ed2d"/></linearGradient><linearGradient id="g277" gradientUnits="userSpaceOnUse" x1="400.51" y1="0" x2="505.30" y2="0"><stop offset="0.0029" stop-color="#3e48ee"/><stop offset="0.1816" stop-color="#3755dc"/><stop offset="0.1816" stop-color="#3266ba"/><stop offset="0.3565" stop-color="#28877a"/><stop offset="0.3565" stop-color="#1e9850"/><stop offset="0.4119" stop-color="#08b914"/><stop offset="0.4580" stop-color="#02c308"/><stop offset="0.5411" stop-color="#02c406"/><stop offset="0.5411" stop-color="#05c408"/><stop offset="0.7191" stop-color="#3cd214"/><stop offset="0.8970" stop-color="#73df21"/><stop offset="0.8970" stop-color="#8ce628"/><stop offset="0.9952" stop-color="#abee2e"/></linearGradient><linearGradient id="g278" gradientUnits="userSpaceOnUse" x1="399.94" y1="0" x2="505.30" y2="0"><stop offset="0.0028" stop-color="#3e48ee"/><stop offset="0.1806" stop-color="#3755dc"/><stop offset="0.1806" stop-color="#3266ba"/><stop offset="0.3544" stop-color="#28877a"/><stop offset="0.3544" stop-color="#1e9850"/><stop offset="0.4094" stop-color="#08b914"/><stop offset="0.4553" stop-color="#02c308"/><stop offset="0.5379" stop-color="#02c406"/><stop offset="0.5379" stop-color="#05c408"/><stop offset="0.7146" stop-color="#3cd214"/><stop offset="0.8912" stop-color="#73df21"/><stop offset="0.8912" stop-color="#8ce628"/><stop offset="0.9953" stop-color="#adee2e"/></linearGradient><linearGradient id="g279" gradientUnits="userSpaceOnUse" x1="399.37" y1="0" x2="505.30" y2="0"><stop offset="0.0028" stop-color="#3e48ee"/><stop offset="0.1796" stop-color="#3755dc"/><stop offset="0.1796" stop-color="#3266ba"/><stop offset="0.3523" stop-color="#28877a"/><stop offset="0.3523" stop-color="#1e9850"/><stop offset="0.4070" stop-color="#08b914"/><stop offset="0.4526" stop-color="#02c308"/><stop offset="0.5347" stop-color="#02c406"/><stop offset="0.5347" stop-color="#05c408"/><stop offset="0.7101" stop-color="#3cd214"/><stop offset="0.8855" stop-color="#73df21"/><stop offset="0.8855" stop-color="#8ce628"/><stop offset="0.9953" stop-color="#afef2e"/></linearGradient><linearGradient id="g280" gradientUnits="userSpaceOnUse" x1="398.81" y1="0" x2="505.30" y2="0"><stop offset="0.0028" stop-color="#3e48ee"/><stop offset="0.1786" stop-color="#3755dc"/><stop offset="0.1786" stop-color="#3266ba"/><stop offset="0.3503" stop-color="#28877a"/><stop offset="0.3503" stop-color="#1e9850"/><stop offset="0.4046" stop-color="#08b914"/><stop offset="0.4500" stop-color="#02c308"/><stop offset="0.5315" stop-color="#02c406"/><stop offset="0.5315" stop-color="#05c408"/><stop offset="0.7057" stop-color="#3cd214"/><stop offset="0.8799" stop-color="#73df21"/><stop offset="0.8799" stop-color="#8ce628"/><stop offset="0.9953" stop-color="#b1ef2f"/></linearGradient><linearGradient id="g281" gradientUnits="userSpaceOnUse" x1="398.24" y1="0" x2="505.30" y2="0"><stop offset="0.0028" stop-color="#3e48ee"/><stop offset="0.1776" stop-color="#3755dc"/><stop offset="0.1776" stop-color="#3266ba"/><stop offset="0.3482" stop-color="#28877a"/><stop offset="0.3482" stop-color="#1e9850"/><stop offset="0.4023" stop-color="#08b914"/><stop offset="0.4473" stop-color="#02c308"/><stop offset="0.5284" stop-color="#02c406"/><stop offset="0.5284" stop-color="#05c408"/><stop offset="0.7014" stop-color="#3cd214"/><stop offset="0.8743" stop-color="#73df21"/><stop offset="0.8743" stop-color="#8ce628"/><stop offset="0.9953" stop-color="#b3f02f"/></linearGradient><linearGradient id="g282" gradientUnits="userSpaceOnUse" x1="397.68" y1="0" x2="505.30" y2="0"><stop offset="0.0028" stop-color="#3e48ee"/><stop offset="0.1766" stop-color="#3755dc"/><stop offset="0.1766" stop-color="#3266ba"/><stop offset="0.3462" stop-color="#28877a"/><stop offset="0.3462" stop-color="#1e9850"/><stop offset="0.3999" stop-color="#08b914"/><stop offset="0.4447" stop-color="#02c308"/><stop offset="0.5253" stop-color="#02c406"/><stop offset="0.5253" stop-color="#05c408"/><stop offset="0.6971" stop-color="#3cd214"/><stop offset="0.8688" stop-color="#73df21"/><stop offset="0.8688" stop-color="#8ce628"/><stop offset="0.9954" stop-color="#b5f02f"/></linearGradient><linearGradient id="g283" gradientUnits="userSpaceOnUse" x1="397.11" y1="0" x2="505.30" y2="0"><stop offset="0.0028" stop-color="#3e48ee"/><stop offset="0.1757" stop-color="#3755dc"/><stop offset="0.1757" stop-color="#3266ba"/><stop offset="0.3442" stop-color="#28877a"/><stop offset="0.3442" stop-color="#1e9850"/><stop offset="0.3976" stop-color="#08b914"/><stop offset="0.4421" stop-color="#02c308"/><stop offset="0.5223" stop-color="#02c406"/><stop offset="0.5223" stop-color="#05c408"/><stop offset="0.6928" stop-color="#3cd214"/><stop offset="0.8634" stop-color="#73df21"/><stop offset="0.8634" stop-color="#8ce628"/><stop offset="0.9954" stop-color="#b7f130"/></linearGradient><linearGradient id="g284" gradientUnits="userSpaceOnUse" x1="396.54" y1="0" x2="505.30" y2="0"><stop offset="0.0028" stop-color="#3e48ee"/><stop offset="0.1747" stop-color="#3755dc"/><stop offset="0.1747" stop-color="#3266ba"/><stop offset="0.3422" stop-color="#28877a"/><stop offset="0.3422" stop-color="#1e9850"/><stop offset="0.3953" stop-color="#08b914"/><stop offset="0.4396" stop-color="#02c308"/><stop offset="0.5192" stop-color="#02c406"/><stop offset="0.5192" stop-color="#05c408"/><stop offset="0.6886" stop-color="#3cd214"/><stop offset="0.8580" stop-color="#73df21"/><stop offset="0.8580" stop-color="#8ce628"/><stop offset="0.9954" stop-color="#b9f130"/></linearGradient><linearGradient id="g285" gradientUnits="userSpaceOnUse" x1="395.98" y1="0" x2="505.30" y2="0"><stop offset="0.0027" stop-color="#3e48ee"/><stop offset="0.1738" stop-color="#3755dc"/><stop offset="0.1738" stop-color="#3266ba"/><stop offset="0.3403" stop-color="#28877a"/><stop offset="0.3403" stop-color="#1e9850"/><stop offset="0.3931" stop-color="#08b914"/><stop offset="0.4371" stop-color="#02c308"/><stop offset="0.5162" stop-color="#02c406"/><stop offset="0.5162" stop-color="#05c408"/><stop offset="0.6844" stop-color="#3cd214"/><stop offset="0.8526" stop-color="#73df21"/><stop offset="0.8526" stop-color="#8ce628"/><stop offset="0.9954" stop-color="#bbf231"/></linearGradient><linearGradient id="g286" gradientUnits="userSpaceOnUse" x1="395.41" y1="0" x2="505.30" y2="0"><stop offset="0.0027" stop-color="#3e48ee"/><stop offset="0.1729" stop-color="#3755dc"/><stop offset="0.1729" stop-color="#3266ba"/><stop offset="0.3384" stop-color="#28877a"/><stop offset="0.3384" stop-color="#1e9850"/><stop offset="0.3908" stop-color="#08b914"/><stop offset="0.4346" stop-color="#02c308"/><stop offset="0.5133" stop-color="#02c406"/><stop offset="0.5133" stop-color="#05c408"/><stop offset="0.6803" stop-color="#3cd214"/><stop offset="0.8474" stop-color="#73df21"/><stop offset="0.8474" stop-color="#8ce628"/><stop offset="0.9954" stop-color="#bdf331"/></linearGradient><linearGradient id="g287" gradientUnits="userSpaceOnUse" x1="394.85" y1="0" x2="505.30" y2="0"><stop offset="0.0027" stop-color="#3e48ee"/><stop offset="0.1720" stop-color="#3755dc"/><stop offset="0.1720" stop-color="#3266ba"/><stop offset="0.3364" stop-color="#28877a"/><stop offset="0.3364" stop-color="#1e9850"/><stop offset="0.3886" stop-color="#08b914"/><stop offset="0.4321" stop-color="#02c308"/><stop offset="0.5103" stop-color="#02c406"/><stop offset="0.5103" stop-color="#05c408"/><stop offset="0.6762" stop-color="#3cd214"/><stop offset="0.8421" stop-color="#73df21"/><stop offset="0.8421" stop-color="#8ce628"/><stop offset="0.9955" stop-color="#bff331"/></linearGradient><linearGradient id="g288" gradientUnits="userSpaceOnUse" x1="394.28" y1="0" x2="505.30" y2="0"><stop offset="0.0027" stop-color="#3e48ee"/><stop offset="0.1711" stop-color="#3755dc"/><stop offset="0.1711" stop-color="#3266ba"/><stop offset="0.3346" stop-color="#28877a"/><stop offset="0.3346" stop-color="#1e9850"/><stop offset="0.3864" stop-color="#08b914"/><stop offset="0.4296" stop-color="#02c308"/><stop offset="0.5074" stop-color="#02c406"/><stop offset="0.5074" stop-color="#05c408"/><stop offset="0.6722" stop-color="#3cd214"/><stop offset="0.8370" stop-color="#73df21"/><stop offset="0.8370" stop-color="#8ce628"/><stop offset="0.9955" stop-color="#c1f432"/></linearGradient><linearGradient id="g289" gradientUnits="userSpaceOnUse" x1="393.71" y1="0" x2="505.30" y2="0"><stop offset="0.0027" stop-color="#3e48ee"/><stop offset="0.1702" stop-color="#3755dc"/><stop offset="0.1702" stop-color="#3266ba"/><stop offset="0.3327" stop-color="#28877a"/><stop offset="0.3327" stop-color="#1e9850"/><stop offset="0.3842" stop-color="#08b914"/><stop offset="0.4272" stop-color="#02c308"/><stop offset="0.5046" stop-color="#02c406"/><stop offset="0.5046" stop-color="#05c408"/><stop offset="0.6682" stop-color="#3cd214"/><stop offset="0.8318" stop-color="#73df21"/><stop offset="0.8318" stop-color="#8ce628"/><stop offset="0.9938" stop-color="#c3f432"/><stop offset="0.9955" stop-color="#c3f432"/></linearGradient><linearGradient id="g290" gradientUnits="userSpaceOnUse" x1="393.15" y1="0" x2="505.30" y2="0"><stop offset="0.0027" stop-color="#3e48ee"/><stop offset="0.1693" stop-color="#3755dc"/><stop offset="0.1693" stop-color="#3266ba"/><stop offset="0.3308" stop-color="#28877a"/><stop offset="0.3308" stop-color="#1e9850"/><stop offset="0.3821" stop-color="#08b914"/><stop offset="0.4248" stop-color="#02c308"/><stop offset="0.5017" stop-color="#02c406"/><stop offset="0.5017" stop-color="#05c408"/><stop offset="0.6642" stop-color="#3cd214"/><stop offset="0.8268" stop-color="#73df21"/><stop offset="0.8268" stop-color="#8ce628"/><stop offset="0.9877" stop-color="#c3f432"/><stop offset="0.9955" stop-color="#c4f432"/></linearGradient><linearGradient id="g291" gradientUnits="userSpaceOnUse" x1="392.58" y1="0" x2="505.30" y2="0"><stop offset="0.0027" stop-color="#3e48ee"/><stop offset="0.1684" stop-color="#3755dc"/><stop offset="0.1684" stop-color="#3266ba"/><stop offset="0.3290" stop-color="#28877a"/><stop offset="0.3290" stop-color="#1e9850"/><stop offset="0.3800" stop-color="#08b914"/><stop offset="0.4224" stop-color="#02c308"/><stop offset="0.4989" stop-color="#02c406"/><stop offset="0.4989" stop-color="#05c408"/><stop offset="0.6603" stop-color="#3cd214"/><stop offset="0.8217" stop-color="#73df21"/><stop offset="0.8217" stop-color="#8ce628"/><stop offset="0.9815" stop-color="#c3f432"/><stop offset="0.9956" stop-color="#c5f432"/></linearGradient><linearGradient id="g292" gradientUnits="userSpaceOnUse" x1="392.02" y1="0" x2="505.30" y2="0"><stop offset="0.0026" stop-color="#3e48ee"/><stop offset="0.1675" stop-color="#3755dc"/><stop offset="0.1675" stop-color="#3266ba"/><stop offset="0.3272" stop-color="#28877a"/><stop offset="0.3272" stop-color="#1e9850"/><stop offset="0.3779" stop-color="#08b914"/><stop offset="0.4201" stop-color="#02c308"/><stop offset="0.4961" stop-color="#02c406"/><stop offset="0.4961" stop-color="#05c408"/><stop offset="0.6564" stop-color="#3cd214"/><stop offset="0.8168" stop-color="#73df21"/><stop offset="0.8168" stop-color="#8ce628"/><stop offset="0.9755" stop-color="#c3f432"/><stop offset="0.9956" stop-color="#c6f532"/></linearGradient><linearGradient id="g293" gradientUnits="userSpaceOnUse" x1="391.45" y1="0" x2="505.30" y2="0"><stop offset="0.0026" stop-color="#3e48ee"/><stop offset="0.1667" stop-color="#3755dc"/><stop offset="0.1667" stop-color="#3266ba"/><stop offset="0.3254" stop-color="#28877a"/><stop offset="0.3254" stop-color="#1e9850"/><stop offset="0.3758" stop-color="#08b914"/><stop offset="0.4178" stop-color="#02c308"/><stop offset="0.4933" stop-color="#02c406"/><stop offset="0.4933" stop-color="#05c408"/><stop offset="0.6526" stop-color="#3cd214"/><stop offset="0.8118" stop-color="#73df21"/><stop offset="0.8118" stop-color="#8ce628"/><stop offset="0.9695" stop-color="#c3f432"/><stop offset="0.9956" stop-color="#c7f532"/></linearGradient><linearGradient id="g294" gradientUnits="userSpaceOnUse" x1="390.88" y1="0" x2="505.30" y2="0"><stop offset="0.0026" stop-color="#3e48ee"/><stop offset="0.1658" stop-color="#3755dc"/><stop offset="0.1658" stop-color="#3266ba"/><stop offset="0.3236" stop-color="#28877a"/><stop offset="0.3236" stop-color="#1e9850"/><stop offset="0.3737" stop-color="#08b914"/><stop offset="0.4154" stop-color="#02c308"/><stop offset="0.4906" stop-color="#02c406"/><stop offset="0.4906" stop-color="#05c408"/><stop offset="0.6488" stop-color="#3cd214"/><stop offset="0.8070" stop-color="#73df21"/><stop offset="0.8070" stop-color="#8ce628"/><stop offset="0.9636" stop-color="#c3f432"/><stop offset="0.9956" stop-color="#c8f532"/></linearGradient><linearGradient id="g295" gradientUnits="userSpaceOnUse" x1="390.32" y1="0" x2="505.30" y2="0"><stop offset="0.0026" stop-color="#3e48ee"/><stop offset="0.1650" stop-color="#3755dc"/><stop offset="0.1650" stop-color="#3266ba"/><stop offset="0.3218" stop-color="#28877a"/><stop offset="0.3218" stop-color="#1e9850"/><stop offset="0.3717" stop-color="#08b914"/><stop offset="0.4132" stop-color="#02c308"/><stop offset="0.4879" stop-color="#02c406"/><stop offset="0.4879" stop-color="#05c408"/><stop offset="0.6450" stop-color="#3cd214"/><stop offset="0.8021" stop-color="#73df21"/><stop offset="0.8021" stop-color="#8ce628"/><stop offset="0.9577" stop-color="#c3f432"/><stop offset="0.9957" stop-color="#c9f532"/></linearGradient><linearGradient id="g296" gradientUnits="userSpaceOnUse" x1="389.75" y1="0" x2="505.30" y2="0"><stop offset="0.0026" stop-color="#3e48ee"/><stop offset="0.1641" stop-color="#3755dc"/><stop offset="0.1641" stop-color="#3266ba"/><stop offset="0.3201" stop-color="#28877a"/><stop offset="0.3201" stop-color="#1e9850"/><stop offset="0.3696" stop-color="#08b914"/><stop offset="0.4109" stop-color="#02c308"/><stop offset="0.4852" stop-color="#02c406"/><stop offset="0.4852" stop-color="#05c408"/><stop offset="0.6413" stop-color="#3cd214"/><stop offset="0.7974" stop-color="#73df21"/><stop offset="0.7974" stop-color="#8ce628"/><stop offset="0.9519" stop-color="#c3f432"/><stop offset="0.9957" stop-color="#caf533"/></linearGradient><linearGradient id="g297" gradientUnits="userSpaceOnUse" x1="389.19" y1="0" x2="505.30" y2="0"><stop offset="0.0026" stop-color="#3e48ee"/><stop offset="0.1633" stop-color="#3755dc"/><stop offset="0.1633" stop-color="#3266ba"/><stop offset="0.3184" stop-color="#28877a"/><stop offset="0.3184" stop-color="#1e9850"/><stop offset="0.3676" stop-color="#08b914"/><stop offset="0.4087" stop-color="#02c308"/><stop offset="0.4826" stop-color="#02c406"/><stop offset="0.4826" stop-color="#05c408"/><stop offset="0.6376" stop-color="#3cd214"/><stop offset="0.7926" stop-color="#73df21"/><stop offset="0.7926" stop-color="#8ce628"/><stop offset="0.9461" stop-color="#c3f432"/><stop offset="0.9957" stop-color="#cbf633"/></linearGradient><linearGradient id="g298" gradientUnits="userSpaceOnUse" x1="388.62" y1="0" x2="505.30" y2="0"><stop offset="0.0026" stop-color="#3e48ee"/><stop offset="0.1625" stop-color="#3755dc"/><stop offset="0.1625" stop-color="#3266ba"/><stop offset="0.3166" stop-color="#28877a"/><stop offset="0.3166" stop-color="#1e9850"/><stop offset="0.3656" stop-color="#08b914"/><stop offset="0.4064" stop-color="#02c308"/><stop offset="0.4799" stop-color="#02c406"/><stop offset="0.4799" stop-color="#05c408"/><stop offset="0.6339" stop-color="#3cd214"/><stop offset="0.7879" stop-color="#73df21"/><stop offset="0.7879" stop-color="#8ce628"/><stop offset="0.9404" stop-color="#c3f432"/><stop offset="0.9957" stop-color="#ccf633"/></linearGradient><linearGradient id="g299" gradientUnits="userSpaceOnUse" x1="388.05" y1="0" x2="505.30" y2="0"><stop offset="0.0026" stop-color="#3e48ee"/><stop offset="0.1617" stop-color="#3755dc"/><stop offset="0.1617" stop-color="#3266ba"/><stop offset="0.3150" stop-color="#28877a"/><stop offset="0.3150" stop-color="#1e9850"/><stop offset="0.3637" stop-color="#08b914"/><stop offset="0.4043" stop-color="#02c308"/><stop offset="0.4773" stop-color="#02c406"/><stop offset="0.4773" stop-color="#05c408"/><stop offset="0.6303" stop-color="#3cd214"/><stop offset="0.7833" stop-color="#73df21"/><stop offset="0.7833" stop-color="#8ce628"/><stop offset="0.9348" stop-color="#c3f432"/><stop offset="0.9957" stop-color="#cdf633"/></linearGradient><linearGradient id="g300" gradientUnits="userSpaceOnUse" x1="387.49" y1="0" x2="505.30" y2="0"><stop offset="0.0025" stop-color="#3e48ee"/><stop offset="0.1609" stop-color="#3755dc"/><stop offset="0.1609" stop-color="#3266ba"/><stop offset="0.3133" stop-color="#28877a"/><stop offset="0.3133" stop-color="#1e9850"/><stop offset="0.3617" stop-color="#08b914"/><stop offset="0.4021" stop-color="#02c308"/><stop offset="0.4747" stop-color="#02c406"/><stop offset="0.4747" stop-color="#05c408"/><stop offset="0.6267" stop-color="#3cd214"/><stop offset="0.7787" stop-color="#73df21"/><stop offset="0.7787" stop-color="#8ce628"/><stop offset="0.9292" stop-color="#c3f432"/><stop offset="0.9958" stop-color="#cef633"/></linearGradient><linearGradient id="g301" gradientUnits="userSpaceOnUse" x1="386.92" y1="0" x2="505.30" y2="0"><stop offset="0.0025" stop-color="#3e48ee"/><stop offset="0.1601" stop-color="#3755dc"/><stop offset="0.1601" stop-color="#3266ba"/><stop offset="0.3116" stop-color="#28877a"/><stop offset="0.3116" stop-color="#1e9850"/><stop offset="0.3598" stop-color="#08b914"/><stop offset="0.3999" stop-color="#02c308"/><stop offset="0.4722" stop-color="#02c406"/><stop offset="0.4722" stop-color="#05c408"/><stop offset="0.6232" stop-color="#3cd214"/><stop offset="0.7741" stop-color="#73df21"/><stop offset="0.7741" stop-color="#8ce628"/><stop offset="0.9236" stop-color="#c3f432"/><stop offset="0.9958" stop-color="#cff633"/></linearGradient><linearGradient id="g302" gradientUnits="userSpaceOnUse" x1="386.36" y1="0" x2="505.30" y2="0"><stop offset="0.0025" stop-color="#3e48ee"/><stop offset="0.1593" stop-color="#3755dc"/><stop offset="0.1593" stop-color="#3266ba"/><stop offset="0.3100" stop-color="#28877a"/><stop offset="0.3100" stop-color="#1e9850"/><stop offset="0.3579" stop-color="#08b914"/><stop offset="0.3978" stop-color="#02c308"/><stop offset="0.4697" stop-color="#02c406"/><stop offset="0.4697" stop-color="#05c408"/><stop offset="0.6196" stop-color="#3cd214"/><stop offset="0.7696" stop-color="#73df21"/><stop offset="0.7696" stop-color="#8ce628"/><stop offset="0.9181" stop-color="#c3f432"/><stop offset="0.9958" stop-color="#d0f733"/></linearGradient><linearGradient id="g303" gradientUnits="userSpaceOnUse" x1="385.79" y1="0" x2="505.30" y2="0"><stop offset="0.0025" stop-color="#3e48ee"/><stop offset="0.1585" stop-color="#3755dc"/><stop offset="0.1585" stop-color="#3266ba"/><stop offset="0.3083" stop-color="#28877a"/><stop offset="0.3083" stop-color="#1e9850"/><stop offset="0.3560" stop-color="#08b914"/><stop offset="0.3957" stop-color="#02c308"/><stop offset="0.4671" stop-color="#02c406"/><stop offset="0.4671" stop-color="#05c408"/><stop offset="0.6162" stop-color="#3cd214"/><stop offset="0.7652" stop-color="#73df21"/><stop offset="0.7652" stop-color="#8ce628"/><stop offset="0.9127" stop-color="#c3f432"/><stop offset="0.9958" stop-color="#d1f733"/></linearGradient><linearGradient id="g304" gradientUnits="userSpaceOnUse" x1="385.22" y1="0" x2="505.30" y2="0"><stop offset="0.0025" stop-color="#3e48ee"/><stop offset="0.1577" stop-color="#3755dc"/><stop offset="0.1577" stop-color="#3266ba"/><stop offset="0.3067" stop-color="#28877a"/><stop offset="0.3067" stop-color="#1e9850"/><stop offset="0.3541" stop-color="#08b914"/><stop offset="0.3936" stop-color="#02c308"/><stop offset="0.4647" stop-color="#02c406"/><stop offset="0.4647" stop-color="#05c408"/><stop offset="0.6127" stop-color="#3cd214"/><stop offset="0.7607" stop-color="#73df21"/><stop offset="0.7607" stop-color="#8ce628"/><stop offset="0.9073" stop-color="#c3f432"/><stop offset="0.9958" stop-color="#d2f733"/></linearGradient><linearGradient id="g305" gradientUnits="userSpaceOnUse" x1="384.66" y1="0" x2="505.30" y2="0"><stop offset="0.0025" stop-color="#3e48ee"/><stop offset="0.1569" stop-color="#3755dc"/><stop offset="0.1569" stop-color="#3266ba"/><stop offset="0.3051" stop-color="#28877a"/><stop offset="0.3051" stop-color="#1e9850"/><stop offset="0.3522" stop-color="#08b914"/><stop offset="0.3915" stop-color="#02c308"/><stop offset="0.4622" stop-color="#02c406"/><stop offset="0.4622" stop-color="#05c408"/><stop offset="0.6093" stop-color="#3cd214"/><stop offset="0.7564" stop-color="#73df21"/><stop offset="0.7564" stop-color="#8ce628"/><stop offset="0.9020" stop-color="#c3f432"/><stop offset="0.9959" stop-color="#d3f733"/></linearGradient><linearGradient id="g306" gradientUnits="userSpaceOnUse" x1="384.09" y1="0" x2="505.30" y2="0"><stop offset="0.0025" stop-color="#3e48ee"/><stop offset="0.1562" stop-color="#3755dc"/><stop offset="0.1562" stop-color="#3266ba"/><stop offset="0.3035" stop-color="#28877a"/><stop offset="0.3035" stop-color="#1e9850"/><stop offset="0.3504" stop-color="#08b914"/><stop offset="0.3895" stop-color="#02c308"/><stop offset="0.4598" stop-color="#02c406"/><stop offset="0.4598" stop-color="#05c408"/><stop offset="0.6059" stop-color="#3cd214"/><stop offset="0.7520" stop-color="#73df21"/><stop offset="0.7520" stop-color="#8ce628"/><stop offset="0.8967" stop-color="#c3f432"/><stop offset="0.9959" stop-color="#d4f733"/></linearGradient><linearGradient id="g307" gradientUnits="userSpaceOnUse" x1="383.52" y1="0" x2="505.30" y2="0"><stop offset="0.0025" stop-color="#3e48ee"/><stop offset="0.1554" stop-color="#3755dc"/><stop offset="0.1554" stop-color="#3266ba"/><stop offset="0.3020" stop-color="#28877a"/><stop offset="0.3020" stop-color="#1e9850"/><stop offset="0.3486" stop-color="#08b914"/><stop offset="0.3874" stop-color="#02c308"/><stop offset="0.4573" stop-color="#02c406"/><stop offset="0.4573" stop-color="#05c408"/><stop offset="0.6025" stop-color="#3cd214"/><stop offset="0.7477" stop-color="#73df21"/><stop offset="0.7477" stop-color="#8ce628"/><stop offset="0.8915" stop-color="#c3f432"/><stop offset="0.9959" stop-color="#d5f833"/></linearGradient><linearGradient id="g308" gradientUnits="userSpaceOnUse" x1="382.96" y1="0" x2="505.30" y2="0"><stop offset="0.0025" stop-color="#3e48ee"/><stop offset="0.1547" stop-color="#3755dc"/><stop offset="0.1547" stop-color="#3266ba"/><stop offset="0.3004" stop-color="#28877a"/><stop offset="0.3004" stop-color="#1e9850"/><stop offset="0.3468" stop-color="#08b914"/><stop offset="0.3854" stop-color="#02c308"/><stop offset="0.4550" stop-color="#02c406"/><stop offset="0.4550" stop-color="#05c408"/><stop offset="0.5992" stop-color="#3cd214"/><stop offset="0.7435" stop-color="#73df21"/><stop offset="0.7435" stop-color="#8ce628"/><stop offset="0.8863" stop-color="#c3f432"/><stop offset="0.9959" stop-color="#d6f834"/></linearGradient><linearGradient id="g309" gradientUnits="userSpaceOnUse" x1="382.39" y1="0" x2="505.30" y2="0"><stop offset="0.0024" stop-color="#3e48ee"/><stop offset="0.1540" stop-color="#3755dc"/><stop offset="0.1540" stop-color="#3266ba"/><stop offset="0.2989" stop-color="#28877a"/><stop offset="0.2989" stop-color="#1e9850"/><stop offset="0.3450" stop-color="#08b914"/><stop offset="0.3834" stop-color="#02c308"/><stop offset="0.4526" stop-color="#02c406"/><stop offset="0.4526" stop-color="#05c408"/><stop offset="0.5959" stop-color="#3cd214"/><stop offset="0.7392" stop-color="#73df21"/><stop offset="0.7392" stop-color="#8ce628"/><stop offset="0.8811" stop-color="#c3f432"/><stop offset="0.9959" stop-color="#d7f834"/></linearGradient><linearGradient id="g310" gradientUnits="userSpaceOnUse" x1="381.83" y1="0" x2="505.30" y2="0"><stop offset="0.0024" stop-color="#3e48ee"/><stop offset="0.1532" stop-color="#3755dc"/><stop offset="0.1532" stop-color="#3266ba"/><stop offset="0.2973" stop-color="#28877a"/><stop offset="0.2973" stop-color="#1e9850"/><stop offset="0.3432" stop-color="#08b914"/><stop offset="0.3814" stop-color="#02c308"/><stop offset="0.4502" stop-color="#02c406"/><stop offset="0.4502" stop-color="#05c408"/><stop offset="0.5926" stop-color="#3cd214"/><stop offset="0.7351" stop-color="#73df21"/><stop offset="0.7351" stop-color="#8ce628"/><stop offset="0.8760" stop-color="#c3f432"/><stop offset="0.9960" stop-color="#d8f834"/></linearGradient><linearGradient id="g311" gradientUnits="userSpaceOnUse" x1="381.26" y1="0" x2="505.30" y2="0"><stop offset="0.0024" stop-color="#3e48ee"/><stop offset="0.1525" stop-color="#3755dc"/><stop offset="0.1525" stop-color="#3266ba"/><stop offset="0.2958" stop-color="#28877a"/><stop offset="0.2958" stop-color="#1e9850"/><stop offset="0.3414" stop-color="#08b914"/><stop offset="0.3795" stop-color="#02c308"/><stop offset="0.4479" stop-color="#02c406"/><stop offset="0.4479" stop-color="#05c408"/><stop offset="0.5894" stop-color="#3cd214"/><stop offset="0.7309" stop-color="#73df21"/><stop offset="0.7309" stop-color="#8ce628"/><stop offset="0.8710" stop-color="#c3f432"/><stop offset="0.9960" stop-color="#d9f834"/></linearGradient><linearGradient id="g312" gradientUnits="userSpaceOnUse" x1="380.69" y1="0" x2="505.30" y2="0"><stop offset="0.0024" stop-color="#3e48ee"/><stop offset="0.1518" stop-color="#3755dc"/><stop offset="0.1518" stop-color="#3266ba"/><stop offset="0.2943" stop-color="#28877a"/><stop offset="0.2943" stop-color="#1e9850"/><stop offset="0.3397" stop-color="#08b914"/><stop offset="0.3775" stop-color="#02c308"/><stop offset="0.4456" stop-color="#02c406"/><stop offset="0.4456" stop-color="#05c408"/><stop offset="0.5862" stop-color="#3cd214"/><stop offset="0.7268" stop-color="#73df21"/><stop offset="0.7268" stop-color="#8ce628"/><stop offset="0.8660" stop-color="#c3f432"/><stop offset="0.9960" stop-color="#daf934"/></linearGradient><linearGradient id="g313" gradientUnits="userSpaceOnUse" x1="380.13" y1="0" x2="505.30" y2="0"><stop offset="0.0024" stop-color="#3e48ee"/><stop offset="0.1511" stop-color="#3755dc"/><stop offset="0.1511" stop-color="#3266ba"/><stop offset="0.2928" stop-color="#28877a"/><stop offset="0.2928" stop-color="#1e9850"/><stop offset="0.3380" stop-color="#08b914"/><stop offset="0.3756" stop-color="#02c308"/><stop offset="0.4433" stop-color="#02c406"/><stop offset="0.4433" stop-color="#05c408"/><stop offset="0.5830" stop-color="#3cd214"/><stop offset="0.7227" stop-color="#73df21"/><stop offset="0.7227" stop-color="#8ce628"/><stop offset="0.8610" stop-color="#c3f432"/><stop offset="0.9960" stop-color="#dbf934"/></linearGradient><linearGradient id="g314" gradientUnits="userSpaceOnUse" x1="379.56" y1="0" x2="505.30" y2="0"><stop offset="0.0024" stop-color="#3e48ee"/><stop offset="0.1504" stop-color="#3755dc"/><stop offset="0.1504" stop-color="#3266ba"/><stop offset="0.2913" stop-color="#28877a"/><stop offset="0.2913" stop-color="#1e9850"/><stop offset="0.3363" stop-color="#08b914"/><stop offset="0.3737" stop-color="#02c308"/><stop offset="0.4411" stop-color="#02c406"/><stop offset="0.4411" stop-color="#05c408"/><stop offset="0.5799" stop-color="#3cd214"/><stop offset="0.7187" stop-color="#73df21"/><stop offset="0.7187" stop-color="#8ce628"/><stop offset="0.8561" stop-color="#c3f432"/><stop offset="0.9936" stop-color="#dcf934"/><stop offset="0.9960" stop-color="#dcf934"/></linearGradient><linearGradient id="g315" gradientUnits="userSpaceOnUse" x1="379.00" y1="0" x2="505.30" y2="0"><stop offset="0.0024" stop-color="#3e48ee"/><stop offset="0.1497" stop-color="#3755dc"/><stop offset="0.1497" stop-color="#3266ba"/><stop offset="0.2899" stop-color="#28877a"/><stop offset="0.2899" stop-color="#1e9850"/><stop offset="0.3346" stop-color="#08b914"/><stop offset="0.3718" stop-color="#02c308"/><stop offset="0.4388" stop-color="#02c406"/><stop offset="0.4388" stop-color="#05c408"/><stop offset="0.5768" stop-color="#3cd214"/><stop offset="0.7147" stop-color="#73df21"/><stop offset="0.7147" stop-color="#8ce628"/><stop offset="0.8513" stop-color="#c3f432"/><stop offset="0.9878" stop-color="#dcf934"/><stop offset="0.9960" stop-color="#ddf934"/></linearGradient><linearGradient id="g316" gradientUnits="userSpaceOnUse" x1="378.43" y1="0" x2="505.30" y2="0"><stop offset="0.0024" stop-color="#3e48ee"/><stop offset="0.1490" stop-color="#3755dc"/><stop offset="0.1490" stop-color="#3266ba"/><stop offset="0.2884" stop-color="#28877a"/><stop offset="0.2884" stop-color="#1e9850"/><stop offset="0.3329" stop-color="#08b914"/><stop offset="0.3699" stop-color="#02c308"/><stop offset="0.4366" stop-color="#02c406"/><stop offset="0.4366" stop-color="#05c408"/><stop offset="0.5737" stop-color="#3cd214"/><stop offset="0.7107" stop-color="#73df21"/><stop offset="0.7107" stop-color="#8ce628"/><stop offset="0.8464" stop-color="#c3f432"/><stop offset="0.9821" stop-color="#dcf934"/><stop offset="0.9961" stop-color="#ddf934"/></linearGradient></defs>
<defs><clipPath id="triA"><polygon points="88.40,243.00 309.20,243.00 198.80,51.80"/></clipPath></defs>
<g clip-path="url(#triA)">
<rect x="198.47" y="51.00" width="0.65" height="1.02" fill="url(#g1)"/>
<rect x="197.90" y="52.00" width="1.81" height="1.02" fill="url(#g2)"/>
<rect x="197.32" y="53.00" width="2.96" height="1.02" fill="url(#g3)"/>
<rect x="196.74" y="54.00" width="4.12" height="1.02" fill="url(#g4)"/>
<rect x="196.16" y="55.00" width="5.27" height="1.02" fill="url(#g5)"/>
<rect x="195.59" y="56.00" width="6.43" height="1.02" fill="url(#g6)"/>
<rect x="195.01" y="57.00" width="7.58" height="1.02" fill="url(#g7)"/>
<rect x="194.43" y="58.00" width="8.74" height="1.02" fill="url(#g8)"/>
<rect x="193.85" y="59.00" width="9.89" height="1.02" fill="url(#g9)"/>
<rect x="193.28" y="60.00" width="11.05" height="1.02" fill="url(#g10)"/>
<rect x="192.70" y="61.00" width="12.20" height="1.02" fill="url(#g11)"/>
<rect x="192.12" y="62.00" width="13.36" height="1.02" fill="url(#g12)"/>
<rect x="191.54" y="63.00" width="14.51" height="1.02" fill="url(#g13)"/>
<rect x="190.97" y="64.00" width="15.67" height="1.02" fill="url(#g14)"/>
<rect x="190.39" y="65.00" width="16.82" height="1.02" fill="url(#g15)"/>
<rect x="189.81" y="66.00" width="17.98" height="1.02" fill="url(#g16)"/>
<rect x="189.23" y="67.00" width="19.13" height="1.02" fill="url(#g17)"/>
<rect x="188.66" y="68.00" width="20.29" height="1.02" fill="url(#g18)"/>
<rect x="188.08" y="69.00" width="21.44" height="1.02" fill="url(#g19)"/>
<rect x="187.50" y="70.00" width="22.59" height="1.02" fill="url(#g20)"/>
<rect x="186.93" y="71.00" width="23.75" height="1.02" fill="url(#g21)"/>
<rect x="186.35" y="72.00" width="24.90" height="1.02" fill="url(#g22)"/>
<rect x="185.77" y="73.00" width="26.06" height="1.02" fill="url(#g23)"/>
<rect x="185.19" y="74.00" width="27.21" height="1.02" fill="url(#g24)"/>
<rect x="184.62" y="75.00" width="28.37" height="1.02" fill="url(#g25)"/>
<rect x="184.04" y="76.00" width="29.52" height="1.02" fill="url(#g26)"/>
<rect x="183.46" y="77.00" width="30.68" height="1.02" fill="url(#g27)"/>
<rect x="182.88" y="78.00" width="31.83" height="1.02" fill="url(#g28)"/>
<rect x="182.31" y="79.00" width="32.99" height="1.02" fill="url(#g29)"/>
<rect x="181.73" y="80.00" width="34.14" height="1.02" fill="url(#g30)"/>
<rect x="181.15" y="81.00" width="35.30" height="1.02" fill="url(#g31)"/>
<rect x="180.57" y="82.00" width="36.45" height="1.02" fill="url(#g32)"/>
<rect x="180.00" y="83.00" width="37.61" height="1.02" fill="url(#g33)"/>
<rect x="179.42" y="84.00" width="38.76" height="1.02" fill="url(#g34)"/>
<rect x="178.84" y="85.00" width="39.92" height="1.02" fill="url(#g35)"/>
<rect x="178.26" y="86.00" width="41.07" height="1.02" fill="url(#g36)"/>
<rect x="177.69" y="87.00" width="42.23" height="1.02" fill="url(#g37)"/>
<rect x="177.11" y="88.00" width="43.38" height="1.02" fill="url(#g38)"/>
<rect x="176.53" y="89.00" width="44.54" height="1.02" fill="url(#g39)"/>
<rect x="175.95" y="90.00" width="45.69" height="1.02" fill="url(#g40)"/>
<rect x="175.38" y="91.00" width="46.85" height="1.02" fill="url(#g41)"/>
<rect x="174.80" y="92.00" width="48.00" height="1.02" fill="url(#g42)"/>
<rect x="174.22" y="93.00" width="49.16" height="1.02" fill="url(#g43)"/>
<rect x="173.64" y="94.00" width="50.31" height="1.02" fill="url(#g44)"/>
<rect x="173.07" y="95.00" width="51.47" height="1.02" fill="url(#g45)"/>
<rect x="172.49" y="96.00" width="52.62" height="1.02" fill="url(#g46)"/>
<rect x="171.91" y="97.00" width="53.77" height="1.02" fill="url(#g47)"/>
<rect x="171.34" y="98.00" width="54.93" height="1.02" fill="url(#g48)"/>
<rect x="170.76" y="99.00" width="56.08" height="1.02" fill="url(#g49)"/>
<rect x="170.18" y="100.00" width="57.24" height="1.02" fill="url(#g50)"/>
<rect x="169.60" y="101.00" width="58.39" height="1.02" fill="url(#g51)"/>
<rect x="169.03" y="102.00" width="59.55" height="1.02" fill="url(#g52)"/>
<rect x="168.45" y="103.00" width="60.70" height="1.02" fill="url(#g53)"/>
<rect x="167.87" y="104.00" width="61.86" height="1.02" fill="url(#g54)"/>
<rect x="167.29" y="105.00" width="63.01" height="1.02" fill="url(#g55)"/>
<rect x="166.72" y="106.00" width="64.17" height="1.02" fill="url(#g56)"/>
<rect x="166.14" y="107.00" width="65.32" height="1.02" fill="url(#g57)"/>
<rect x="165.56" y="108.00" width="66.48" height="1.02" fill="url(#g58)"/>
<rect x="164.98" y="109.00" width="67.63" height="1.02" fill="url(#g59)"/>
<rect x="164.41" y="110.00" width="68.79" height="1.02" fill="url(#g60)"/>
<rect x="163.83" y="111.00" width="69.94" height="1.02" fill="url(#g61)"/>
<rect x="163.25" y="112.00" width="71.10" height="1.02" fill="url(#g62)"/>
<rect x="162.67" y="113.00" width="72.25" height="1.02" fill="url(#g63)"/>
<rect x="162.10" y="114.00" width="73.41" height="1.02" fill="url(#g64)"/>
<rect x="161.52" y="115.00" width="74.56" height="1.02" fill="url(#g65)"/>
<rect x="160.94" y="116.00" width="75.72" height="1.02" fill="url(#g66)"/>
<rect x="160.36" y="117.00" width="76.87" height="1.02" fill="url(#g67)"/>
<rect x="159.79" y="118.00" width="78.03" height="1.02" fill="url(#g68)"/>
<rect x="159.21" y="119.00" width="79.18" height="1.02" fill="url(#g69)"/>
<rect x="158.63" y="120.00" width="80.34" height="1.02" fill="url(#g70)"/>
<rect x="158.05" y="121.00" width="81.49" height="1.02" fill="url(#g71)"/>
<rect x="157.48" y="122.00" width="82.65" height="1.02" fill="url(#g72)"/>
<rect x="156.90" y="123.00" width="83.80" height="1.02" fill="url(#g73)"/>
<rect x="156.32" y="124.00" width="84.95" height="1.02" fill="url(#g74)"/>
<rect x="155.75" y="125.00" width="86.11" height="1.02" fill="url(#g75)"/>
<rect x="155.17" y="126.00" width="87.26" height="1.02" fill="url(#g76)"/>
<rect x="154.59" y="127.00" width="88.42" height="1.02" fill="url(#g77)"/>
<rect x="154.01" y="128.00" width="89.57" height="1.02" fill="url(#g78)"/>
<rect x="153.44" y="129.00" width="90.73" height="1.02" fill="url(#g79)"/>
<rect x="152.86" y="130.00" width="91.88" height="1.02" fill="url(#g80)"/>
<rect x="152.28" y="131.00" width="93.04" height="1.02" fill="url(#g81)"/>
<rect x="151.70" y="132.00" width="94.19" height="1.02" fill="url(#g82)"/>
<rect x="151.13" y="133.00" width="95.35" height="1.02" fill="url(#g83)"/>
<rect x="150.55" y="134.00" width="96.50" height="1.02" fill="url(#g84)"/>
<rect x="149.97" y="135.00" width="97.66" height="1.02" fill="url(#g85)"/>
<rect x="149.39" y="136.00" width="98.81" height="1.02" fill="url(#g86)"/>
<rect x="148.82" y="137.00" width="99.97" height="1.02" fill="url(#g87)"/>
<rect x="148.24" y="138.00" width="101.12" height="1.02" fill="url(#g88)"/>
<rect x="147.66" y="139.00" width="102.28" height="1.02" fill="url(#g89)"/>
<rect x="147.08" y="140.00" width="103.43" height="1.02" fill="url(#g90)"/>
<rect x="146.51" y="141.00" width="104.59" height="1.02" fill="url(#g91)"/>
<rect x="145.93" y="142.00" width="105.74" height="1.02" fill="url(#g92)"/>
<rect x="145.35" y="143.00" width="106.90" height="1.02" fill="url(#g93)"/>
<rect x="144.77" y="144.00" width="108.05" height="1.02" fill="url(#g94)"/>
<rect x="144.20" y="145.00" width="109.21" height="1.02" fill="url(#g95)"/>
<rect x="143.62" y="146.00" width="110.36" height="1.02" fill="url(#g96)"/>
<rect x="143.04" y="147.00" width="111.52" height="1.02" fill="url(#g97)"/>
<rect x="142.46" y="148.00" width="112.67" height="1.02" fill="url(#g98)"/>
<rect x="141.89" y="149.00" width="113.83" height="1.02" fill="url(#g99)"/>
<rect x="141.31" y="150.00" width="114.98" height="1.02" fill="url(#g100)"/>
<rect x="140.73" y="151.00" width="116.13" height="1.02" fill="url(#g101)"/>
<rect x="140.16" y="152.00" width="117.29" height="1.02" fill="url(#g102)"/>
<rect x="139.58" y="153.00" width="118.44" height="1.02" fill="url(#g103)"/>
<rect x="139.00" y="154.00" width="119.60" height="1.02" fill="url(#g104)"/>
<rect x="138.42" y="155.00" width="120.75" height="1.02" fill="url(#g105)"/>
<rect x="137.85" y="156.00" width="121.91" height="1.02" fill="url(#g106)"/>
<rect x="137.27" y="157.00" width="123.06" height="1.02" fill="url(#g107)"/>
<rect x="136.69" y="158.00" width="124.22" height="1.02" fill="url(#g108)"/>
<rect x="136.11" y="159.00" width="125.37" height="1.02" fill="url(#g109)"/>
<rect x="135.54" y="160.00" width="126.53" height="1.02" fill="url(#g110)"/>
<rect x="134.96" y="161.00" width="127.68" height="1.02" fill="url(#g111)"/>
<rect x="134.38" y="162.00" width="128.84" height="1.02" fill="url(#g112)"/>
<rect x="133.80" y="163.00" width="129.99" height="1.02" fill="url(#g113)"/>
<rect x="133.23" y="164.00" width="131.15" height="1.02" fill="url(#g114)"/>
<rect x="132.65" y="165.00" width="132.30" height="1.02" fill="url(#g115)"/>
<rect x="132.07" y="166.00" width="133.46" height="1.02" fill="url(#g116)"/>
<rect x="131.49" y="167.00" width="134.61" height="1.02" fill="url(#g117)"/>
<rect x="130.92" y="168.00" width="135.77" height="1.02" fill="url(#g118)"/>
<rect x="130.34" y="169.00" width="136.92" height="1.02" fill="url(#g119)"/>
<rect x="129.76" y="170.00" width="138.08" height="1.02" fill="url(#g120)"/>
<rect x="129.18" y="171.00" width="139.23" height="1.02" fill="url(#g121)"/>
<rect x="128.61" y="172.00" width="140.39" height="1.02" fill="url(#g122)"/>
<rect x="128.03" y="173.00" width="141.54" height="1.02" fill="url(#g123)"/>
<rect x="127.45" y="174.00" width="142.70" height="1.02" fill="url(#g124)"/>
<rect x="126.87" y="175.00" width="143.85" height="1.02" fill="url(#g125)"/>
<rect x="126.30" y="176.00" width="145.01" height="1.02" fill="url(#g126)"/>
<rect x="125.72" y="177.00" width="146.16" height="1.02" fill="url(#g127)"/>
<rect x="125.14" y="178.00" width="147.31" height="1.02" fill="url(#g128)"/>
<rect x="124.57" y="179.00" width="148.47" height="1.02" fill="url(#g129)"/>
<rect x="123.99" y="180.00" width="149.62" height="1.02" fill="url(#g130)"/>
<rect x="123.41" y="181.00" width="150.78" height="1.02" fill="url(#g131)"/>
<rect x="122.83" y="182.00" width="151.93" height="1.02" fill="url(#g132)"/>
<rect x="122.26" y="183.00" width="153.09" height="1.02" fill="url(#g133)"/>
<rect x="121.68" y="184.00" width="154.24" height="1.02" fill="url(#g134)"/>
<rect x="121.10" y="185.00" width="155.40" height="1.02" fill="url(#g135)"/>
<rect x="120.52" y="186.00" width="156.55" height="1.02" fill="url(#g136)"/>
<rect x="119.95" y="187.00" width="157.71" height="1.02" fill="url(#g137)"/>
<rect x="119.37" y="188.00" width="158.86" height="1.02" fill="url(#g138)"/>
<rect x="118.79" y="189.00" width="160.02" height="1.02" fill="url(#g139)"/>
<rect x="118.21" y="190.00" width="161.17" height="1.02" fill="url(#g140)"/>
<rect x="117.64" y="191.00" width="162.33" height="1.02" fill="url(#g141)"/>
<rect x="117.06" y="192.00" width="163.48" height="1.02" fill="url(#g142)"/>
<rect x="116.48" y="193.00" width="164.64" height="1.02" fill="url(#g143)"/>
<rect x="115.90" y="194.00" width="165.79" height="1.02" fill="url(#g144)"/>
<rect x="115.33" y="195.00" width="166.95" height="1.02" fill="url(#g145)"/>
<rect x="114.75" y="196.00" width="168.10" height="1.02" fill="url(#g146)"/>
<rect x="114.17" y="197.00" width="169.26" height="1.02" fill="url(#g147)"/>
<rect x="113.59" y="198.00" width="170.41" height="1.02" fill="url(#g148)"/>
<rect x="113.02" y="199.00" width="171.57" height="1.02" fill="url(#g149)"/>
<rect x="112.44" y="200.00" width="172.72" height="1.02" fill="url(#g150)"/>
<rect x="111.86" y="201.00" width="173.88" height="1.02" fill="url(#g151)"/>
<rect x="111.28" y="202.00" width="175.03" height="1.02" fill="url(#g152)"/>
<rect x="110.71" y="203.00" width="176.18" height="1.02" fill="url(#g153)"/>
<rect x="110.13" y="204.00" width="177.34" height="1.02" fill="url(#g154)"/>
<rect x="109.55" y="205.00" width="178.49" height="1.02" fill="url(#g155)"/>
<rect x="108.98" y="206.00" width="179.65" height="1.02" fill="url(#g156)"/>
<rect x="108.40" y="207.00" width="180.80" height="1.02" fill="url(#g157)"/>
<rect x="107.82" y="208.00" width="181.96" height="1.02" fill="url(#g158)"/>
<rect x="107.24" y="209.00" width="183.11" height="1.02" fill="url(#g159)"/>
<rect x="106.67" y="210.00" width="184.27" height="1.02" fill="url(#g160)"/>
<rect x="106.09" y="211.00" width="185.42" height="1.02" fill="url(#g161)"/>
<rect x="105.51" y="212.00" width="186.58" height="1.02" fill="url(#g162)"/>
<rect x="104.93" y="213.00" width="187.73" height="1.02" fill="url(#g163)"/>
<rect x="104.36" y="214.00" width="188.89" height="1.02" fill="url(#g164)"/>
<rect x="103.78" y="215.00" width="190.04" height="1.02" fill="url(#g165)"/>
<rect x="103.20" y="216.00" width="191.20" height="1.02" fill="url(#g166)"/>
<rect x="102.62" y="217.00" width="192.35" height="1.02" fill="url(#g167)"/>
<rect x="102.05" y="218.00" width="193.51" height="1.02" fill="url(#g168)"/>
<rect x="101.47" y="219.00" width="194.66" height="1.02" fill="url(#g169)"/>
<rect x="100.89" y="220.00" width="195.82" height="1.02" fill="url(#g170)"/>
<rect x="100.31" y="221.00" width="196.97" height="1.02" fill="url(#g171)"/>
<rect x="99.74" y="222.00" width="198.13" height="1.02" fill="url(#g172)"/>
<rect x="99.16" y="223.00" width="199.28" height="1.02" fill="url(#g173)"/>
<rect x="98.58" y="224.00" width="200.44" height="1.02" fill="url(#g174)"/>
<rect x="98.00" y="225.00" width="201.59" height="1.02" fill="url(#g175)"/>
<rect x="97.43" y="226.00" width="202.75" height="1.02" fill="url(#g176)"/>
<rect x="96.85" y="227.00" width="203.90" height="1.02" fill="url(#g177)"/>
<rect x="96.27" y="228.00" width="205.06" height="1.02" fill="url(#g178)"/>
<rect x="95.69" y="229.00" width="206.21" height="1.02" fill="url(#g179)"/>
<rect x="95.12" y="230.00" width="207.36" height="1.02" fill="url(#g180)"/>
<rect x="94.54" y="231.00" width="208.52" height="1.02" fill="url(#g181)"/>
<rect x="93.96" y="232.00" width="209.67" height="1.02" fill="url(#g182)"/>
<rect x="93.39" y="233.00" width="210.83" height="1.02" fill="url(#g183)"/>
<rect x="92.81" y="234.00" width="211.98" height="1.02" fill="url(#g184)"/>
<rect x="92.23" y="235.00" width="213.14" height="1.02" fill="url(#g185)"/>
<rect x="91.65" y="236.00" width="214.29" height="1.02" fill="url(#g186)"/>
<rect x="91.08" y="237.00" width="215.45" height="1.02" fill="url(#g187)"/>
<rect x="90.50" y="238.00" width="216.60" height="1.02" fill="url(#g188)"/>
<rect x="89.92" y="239.00" width="217.76" height="1.02" fill="url(#g189)"/>
<rect x="89.34" y="240.00" width="218.91" height="1.02" fill="url(#g190)"/>
<rect x="88.77" y="241.00" width="220.07" height="1.02" fill="url(#g191)"/>
<rect x="88.19" y="242.00" width="221.22" height="1.02" fill="url(#g192)"/>
</g>
<path d="M202.70,59.00 C199.19,65.00 188.12,84.00 181.66,95.00 C175.20,106.00 170.27,114.17 163.93,125.00 C157.60,135.83 151.10,147.12 143.62,160.00 C136.15,172.88 127.15,188.47 119.10,202.30 C111.05,216.13 99.27,236.22 95.30,243.00" fill="none" stroke="#000" stroke-width="0.75" stroke-opacity="0.7"/>
<path d="M207.40,67.50 C204.54,72.08 196.12,85.42 190.26,95.00 C184.40,104.58 178.76,114.17 172.23,125.00 C165.71,135.83 158.76,147.12 151.12,160.00 C143.49,172.88 134.54,188.47 126.40,202.30 C118.26,216.13 106.32,236.22 102.30,243.00" fill="none" stroke="#000" stroke-width="0.75" stroke-opacity="0.7"/>
<path d="M212.20,76.00 C210.19,79.17 205.43,86.83 200.16,95.00 C194.88,103.17 187.31,114.17 180.53,125.00 C173.76,135.83 167.15,147.12 159.52,160.00 C151.90,172.88 142.69,188.47 134.80,202.30 C126.91,216.13 115.97,236.22 112.20,243.00" fill="none" stroke="#000" stroke-width="0.75" stroke-opacity="0.7"/>
<path d="M219.20,88.00 C217.45,90.57 212.67,97.23 208.71,103.40 C204.74,109.57 201.30,115.57 195.43,125.00 C189.57,134.43 181.43,147.12 173.52,160.00 C165.62,172.88 156.09,188.47 148.00,202.30 C139.91,216.13 128.83,236.22 125.00,243.00" fill="none" stroke="#000" stroke-width="0.75" stroke-opacity="0.7"/>
<path d="M245.00,132.20 C244.08,133.15 241.52,136.00 239.50,137.90 C237.48,139.80 235.10,141.42 232.90,143.60 C230.70,145.78 228.50,148.40 226.30,151.00 C224.10,153.60 221.88,156.45 219.70,159.20 C217.52,161.95 215.35,164.62 213.20,167.50 C211.05,170.38 208.70,173.75 206.80,176.50 C204.90,179.25 203.52,181.37 201.80,184.00 C200.08,186.63 198.87,189.00 196.50,192.30 C194.13,195.60 190.23,200.35 187.60,203.80 C184.97,207.25 182.80,209.73 180.70,213.00 C178.60,216.27 176.53,220.33 175.00,223.40 C173.47,226.47 172.35,229.10 171.50,231.40 C170.65,233.70 170.18,235.27 169.90,237.20 C169.62,239.13 169.82,242.03 169.80,243.00" fill="none" stroke="#000" stroke-width="0.75" stroke-opacity="0.6"/>
<path d="M304.50,234.30 C303.33,235.08 299.85,237.55 297.50,239.00 C295.15,240.45 291.58,242.33 290.40,243.00" fill="none" stroke="#000" stroke-width="0.75" stroke-opacity="0.6"/>
<polygon points="88.40,243.00 309.20,243.00 198.80,51.80" fill="none" stroke="#333" stroke-width="0.9"/>
<line x1="88.40" y1="243.00" x2="86.15" y2="246.90" stroke="#222" stroke-width="0.90"/><line x1="88.40" y1="243.00" x2="86.15" y2="239.10" stroke="#222" stroke-width="0.90"/><line x1="309.20" y1="243.00" x2="313.70" y2="243.00" stroke="#222" stroke-width="0.90"/><line x1="106.80" y1="243.00" x2="105.50" y2="245.25" stroke="#222" stroke-width="0.90"/><line x1="97.60" y1="227.07" x2="96.30" y2="224.81" stroke="#222" stroke-width="0.90"/><line x1="300.00" y1="227.07" x2="302.60" y2="227.07" stroke="#222" stroke-width="0.90"/><line x1="125.20" y1="243.00" x2="122.95" y2="246.90" stroke="#222" stroke-width="0.90"/><line x1="106.80" y1="211.13" x2="104.55" y2="207.23" stroke="#222" stroke-width="0.90"/><line x1="290.80" y1="211.13" x2="295.30" y2="211.13" stroke="#222" stroke-width="0.90"/><line x1="143.60" y1="243.00" x2="142.30" y2="245.25" stroke="#222" stroke-width="0.90"/><line x1="116.00" y1="195.20" x2="114.70" y2="192.95" stroke="#222" stroke-width="0.90"/><line x1="281.60" y1="195.20" x2="284.20" y2="195.20" stroke="#222" stroke-width="0.90"/><line x1="162.00" y1="243.00" x2="159.75" y2="246.90" stroke="#222" stroke-width="0.90"/><line x1="125.20" y1="179.26" x2="122.95" y2="175.37" stroke="#222" stroke-width="0.90"/><line x1="272.40" y1="179.26" x2="276.90" y2="179.26" stroke="#222" stroke-width="0.90"/><line x1="180.40" y1="243.00" x2="179.10" y2="245.25" stroke="#222" stroke-width="0.90"/><line x1="134.40" y1="163.33" x2="133.10" y2="161.08" stroke="#222" stroke-width="0.90"/><line x1="263.20" y1="163.33" x2="265.80" y2="163.33" stroke="#222" stroke-width="0.90"/><line x1="198.80" y1="243.00" x2="196.55" y2="246.90" stroke="#222" stroke-width="0.90"/><line x1="143.60" y1="147.39" x2="141.35" y2="143.50" stroke="#222" stroke-width="0.90"/><line x1="254.00" y1="147.39" x2="258.50" y2="147.39" stroke="#222" stroke-width="0.90"/><line x1="217.20" y1="243.00" x2="215.90" y2="245.25" stroke="#222" stroke-width="0.90"/><line x1="152.80" y1="131.46" x2="151.50" y2="129.21" stroke="#222" stroke-width="0.90"/><line x1="244.80" y1="131.46" x2="247.40" y2="131.46" stroke="#222" stroke-width="0.90"/><line x1="235.60" y1="243.00" x2="233.35" y2="246.90" stroke="#222" stroke-width="0.90"/><line x1="162.00" y1="115.52" x2="159.75" y2="111.63" stroke="#222" stroke-width="0.90"/><line x1="235.60" y1="115.52" x2="240.10" y2="115.52" stroke="#222" stroke-width="0.90"/><line x1="254.00" y1="243.00" x2="252.70" y2="245.25" stroke="#222" stroke-width="0.90"/><line x1="171.20" y1="99.59" x2="169.90" y2="97.34" stroke="#222" stroke-width="0.90"/><line x1="226.40" y1="99.59" x2="229.00" y2="99.59" stroke="#222" stroke-width="0.90"/><line x1="272.40" y1="243.00" x2="270.15" y2="246.90" stroke="#222" stroke-width="0.90"/><line x1="180.40" y1="83.66" x2="178.15" y2="79.76" stroke="#222" stroke-width="0.90"/><line x1="217.20" y1="83.66" x2="221.70" y2="83.66" stroke="#222" stroke-width="0.90"/><line x1="290.80" y1="243.00" x2="289.50" y2="245.25" stroke="#222" stroke-width="0.90"/><line x1="189.60" y1="67.72" x2="188.30" y2="65.47" stroke="#222" stroke-width="0.90"/><line x1="208.00" y1="67.72" x2="210.60" y2="67.72" stroke="#222" stroke-width="0.90"/><line x1="309.20" y1="243.00" x2="306.95" y2="246.90" stroke="#222" stroke-width="0.90"/><line x1="198.80" y1="51.79" x2="196.55" y2="47.89" stroke="#222" stroke-width="0.90"/><line x1="198.80" y1="51.79" x2="203.30" y2="51.79" stroke="#222" stroke-width="0.90"/>
<text x="85.00" y="262.90" font-size="17.00" text-anchor="middle" fill="#000" >0</text><text x="84.80" y="233.80" font-size="17.00" text-anchor="end" fill="#000" >1</text><text x="315.90" y="248.20" font-size="17.00" text-anchor="start" fill="#000" >0</text><text x="121.80" y="262.90" font-size="17.00" text-anchor="middle" fill="#000" >0.1</text><text x="103.20" y="201.93" font-size="17.00" text-anchor="end" fill="#000" >0.9</text><text x="297.50" y="216.33" font-size="17.00" text-anchor="start" fill="#000" >0.1</text><text x="158.60" y="262.90" font-size="17.00" text-anchor="middle" fill="#000" >0.2</text><text x="121.60" y="170.06" font-size="17.00" text-anchor="end" fill="#000" >0.8</text><text x="279.10" y="184.46" font-size="17.00" text-anchor="start" fill="#000" >0.2</text><text x="195.40" y="262.90" font-size="17.00" text-anchor="middle" fill="#000" >0.3</text><text x="140.00" y="138.19" font-size="17.00" text-anchor="end" fill="#000" >0.7</text><text x="260.70" y="152.59" font-size="17.00" text-anchor="start" fill="#000" >0.3</text><text x="232.20" y="262.90" font-size="17.00" text-anchor="middle" fill="#000" >0.4</text><text x="158.40" y="106.32" font-size="17.00" text-anchor="end" fill="#000" >0.6</text><text x="242.30" y="120.72" font-size="17.00" text-anchor="start" fill="#000" >0.4</text><text x="269.00" y="262.90" font-size="17.00" text-anchor="middle" fill="#000" >0.5</text><text x="176.80" y="74.46" font-size="17.00" text-anchor="end" fill="#000" >0.5</text><text x="223.90" y="88.86" font-size="17.00" text-anchor="start" fill="#000" >0.5</text><text x="305.80" y="262.90" font-size="17.00" text-anchor="middle" fill="#000" >0.6</text><text x="195.20" y="42.59" font-size="17.00" text-anchor="end" fill="#000" >0.4</text><text x="205.50" y="56.99" font-size="17.00" text-anchor="start" fill="#000" >0.6</text>
<rect x="38.3" y="57.1" width="18.7" height="179.7" fill="url(#cbar)" stroke="#555" stroke-width="0.8"/>
<line x1="34.2" y1="64.30" x2="38.3" y2="64.30" stroke="#333" stroke-width="0.9"/>
<line x1="34.2" y1="100.90" x2="38.3" y2="100.90" stroke="#333" stroke-width="0.9"/>
<line x1="34.2" y1="137.50" x2="38.3" y2="137.50" stroke="#333" stroke-width="0.9"/>
<line x1="34.2" y1="174.10" x2="38.3" y2="174.10" stroke="#333" stroke-width="0.9"/>
<line x1="34.2" y1="210.70" x2="38.3" y2="210.70" stroke="#333" stroke-width="0.9"/>
<rect x="122.8" y="141.6" width="47.5" height="38.8" fill="none" stroke="#111" stroke-width="1"/>
<polyline points="134.60,163.50 142.50,165.20 149.90,166.60 157.00,169.50 163.90,170.60" fill="none" stroke="#ff00ff" stroke-width="0.75"/>
<rect x="132.10" y="161.00" width="5.00" height="5.00" fill="#ff00ff" stroke="none" stroke-width="0.00"/>
<circle cx="142.50" cy="165.20" r="2.65" fill="#ff00ff" stroke="none" stroke-width="0.00"/>
<polygon points="149.90,163.26 146.75,169.44 153.05,169.44" fill="#ff00ff" stroke="none" stroke-width="0.00"/>
<polygon points="153.90,166.71 160.10,166.71 157.00,172.79" fill="#ff00ff" stroke="none" stroke-width="0.00"/>
<polygon points="163.90,167.45 167.05,170.60 163.90,173.75 160.75,170.60" fill="#ff00ff" stroke="none" stroke-width="0.00"/>
<line x1="170.3" y1="160.6" x2="353.4" y2="82.0" stroke="#444" stroke-width="0.7" marker-end="url(#arrS)"/>
<text x="0" y="0" font-size="25.2" text-anchor="middle" transform="translate(107.8,121.8) rotate(-60)">(CrFeNi)</text>
<line x1="76.4" y1="161" x2="66.9" y2="176.6" stroke="#111" stroke-width="1" marker-end="url(#arr)"/>
<text x="0" y="0" font-size="25.8" text-anchor="middle" transform="translate(283.0,132.3) rotate(60)">Co</text>
<line x1="279.7" y1="111.6" x2="270.2" y2="95.8" stroke="#111" stroke-width="1" marker-end="url(#arr)"/>
<line x1="215.2" y1="281.6" x2="241.2" y2="281.6" stroke="#111" stroke-width="1" marker-end="url(#arr)"/>
<text x="28.60" y="69.70" font-size="15.00" text-anchor="end" fill="#000" >600</text><text x="28.60" y="106.30" font-size="15.00" text-anchor="end" fill="#000" >500</text><text x="28.60" y="142.90" font-size="15.00" text-anchor="end" fill="#000" >400</text><text x="28.60" y="179.50" font-size="15.00" text-anchor="end" fill="#000" >300</text><text x="28.60" y="216.10" font-size="15.00" text-anchor="end" fill="#000" >200</text><text x="-1.30" y="45.60" font-size="19.30" text-anchor="start" fill="#000" >HV_predicted</text><text x="73.00" y="67.70" font-size="17.00" text-anchor="start" fill="#cc0000" style="stroke:none">(a)</text><text x="186.60" y="290.00" font-size="25.50" text-anchor="start" fill="#000" >Hf</text>
<defs><clipPath id="clipB"><rect x="354.60" y="13.60" width="150.20" height="122.60"/></clipPath></defs>
<g clip-path="url(#clipB)">
<rect x="448.06" y="13.00" width="57.24" height="1.02" fill="url(#g193)"/>
<rect x="447.49" y="14.00" width="57.81" height="1.02" fill="url(#g194)"/>
<rect x="446.92" y="15.00" width="58.38" height="1.02" fill="url(#g195)"/>
<rect x="446.36" y="16.00" width="58.94" height="1.02" fill="url(#g196)"/>
<rect x="445.79" y="17.00" width="59.51" height="1.02" fill="url(#g197)"/>
<rect x="445.23" y="18.00" width="60.07" height="1.02" fill="url(#g198)"/>
<rect x="444.66" y="19.00" width="60.64" height="1.02" fill="url(#g199)"/>
<rect x="444.09" y="20.00" width="61.21" height="1.02" fill="url(#g200)"/>
<rect x="443.53" y="21.00" width="61.77" height="1.02" fill="url(#g201)"/>
<rect x="442.96" y="22.00" width="62.34" height="1.02" fill="url(#g202)"/>
<rect x="442.40" y="23.00" width="62.90" height="1.02" fill="url(#g203)"/>
<rect x="441.83" y="24.00" width="63.47" height="1.02" fill="url(#g204)"/>
<rect x="441.26" y="25.00" width="64.04" height="1.02" fill="url(#g205)"/>
<rect x="440.70" y="26.00" width="64.60" height="1.02" fill="url(#g206)"/>
<rect x="440.13" y="27.00" width="65.17" height="1.02" fill="url(#g207)"/>
<rect x="439.57" y="28.00" width="65.73" height="1.02" fill="url(#g208)"/>
<rect x="439.00" y="29.00" width="66.30" height="1.02" fill="url(#g209)"/>
<rect x="438.43" y="30.00" width="66.87" height="1.02" fill="url(#g210)"/>
<rect x="437.87" y="31.00" width="67.43" height="1.02" fill="url(#g211)"/>
<rect x="437.30" y="32.00" width="68.00" height="1.02" fill="url(#g212)"/>
<rect x="436.74" y="33.00" width="68.56" height="1.02" fill="url(#g213)"/>
<rect x="436.17" y="34.00" width="69.13" height="1.02" fill="url(#g214)"/>
<rect x="435.60" y="35.00" width="69.70" height="1.02" fill="url(#g215)"/>
<rect x="435.04" y="36.00" width="70.26" height="1.02" fill="url(#g216)"/>
<rect x="434.47" y="37.00" width="70.83" height="1.02" fill="url(#g217)"/>
<rect x="433.90" y="38.00" width="71.40" height="1.02" fill="url(#g218)"/>
<rect x="433.34" y="39.00" width="71.96" height="1.02" fill="url(#g219)"/>
<rect x="432.77" y="40.00" width="72.53" height="1.02" fill="url(#g220)"/>
<rect x="432.21" y="41.00" width="73.09" height="1.02" fill="url(#g221)"/>
<rect x="431.64" y="42.00" width="73.66" height="1.02" fill="url(#g222)"/>
<rect x="431.07" y="43.00" width="74.23" height="1.02" fill="url(#g223)"/>
<rect x="430.51" y="44.00" width="74.79" height="1.02" fill="url(#g224)"/>
<rect x="429.94" y="45.00" width="75.36" height="1.02" fill="url(#g225)"/>
<rect x="429.38" y="46.00" width="75.92" height="1.02" fill="url(#g226)"/>
<rect x="428.81" y="47.00" width="76.49" height="1.02" fill="url(#g227)"/>
<rect x="428.24" y="48.00" width="77.06" height="1.02" fill="url(#g228)"/>
<rect x="427.68" y="49.00" width="77.62" height="1.02" fill="url(#g229)"/>
<rect x="427.11" y="50.00" width="78.19" height="1.02" fill="url(#g230)"/>
<rect x="426.55" y="51.00" width="78.75" height="1.02" fill="url(#g231)"/>
<rect x="425.98" y="52.00" width="79.32" height="1.02" fill="url(#g232)"/>
<rect x="425.41" y="53.00" width="79.89" height="1.02" fill="url(#g233)"/>
<rect x="424.85" y="54.00" width="80.45" height="1.02" fill="url(#g234)"/>
<rect x="424.28" y="55.00" width="81.02" height="1.02" fill="url(#g235)"/>
<rect x="423.72" y="56.00" width="81.58" height="1.02" fill="url(#g236)"/>
<rect x="423.15" y="57.00" width="82.15" height="1.02" fill="url(#g237)"/>
<rect x="422.58" y="58.00" width="82.72" height="1.02" fill="url(#g238)"/>
<rect x="422.02" y="59.00" width="83.28" height="1.02" fill="url(#g239)"/>
<rect x="421.45" y="60.00" width="83.85" height="1.02" fill="url(#g240)"/>
<rect x="420.89" y="61.00" width="84.41" height="1.02" fill="url(#g241)"/>
<rect x="420.32" y="62.00" width="84.98" height="1.02" fill="url(#g242)"/>
<rect x="419.75" y="63.00" width="85.55" height="1.02" fill="url(#g243)"/>
<rect x="419.19" y="64.00" width="86.11" height="1.02" fill="url(#g244)"/>
<rect x="418.62" y="65.00" width="86.68" height="1.02" fill="url(#g245)"/>
<rect x="418.05" y="66.00" width="87.25" height="1.02" fill="url(#g246)"/>
<rect x="417.49" y="67.00" width="87.81" height="1.02" fill="url(#g247)"/>
<rect x="416.92" y="68.00" width="88.38" height="1.02" fill="url(#g248)"/>
<rect x="416.36" y="69.00" width="88.94" height="1.02" fill="url(#g249)"/>
<rect x="415.79" y="70.00" width="89.51" height="1.02" fill="url(#g250)"/>
<rect x="415.22" y="71.00" width="90.08" height="1.02" fill="url(#g251)"/>
<rect x="414.66" y="72.00" width="90.64" height="1.02" fill="url(#g252)"/>
<rect x="414.09" y="73.00" width="91.21" height="1.02" fill="url(#g253)"/>
<rect x="413.53" y="74.00" width="91.77" height="1.02" fill="url(#g254)"/>
<rect x="412.96" y="75.00" width="92.34" height="1.02" fill="url(#g255)"/>
<rect x="412.39" y="76.00" width="92.91" height="1.02" fill="url(#g256)"/>
<rect x="411.83" y="77.00" width="93.47" height="1.02" fill="url(#g257)"/>
<rect x="411.26" y="78.00" width="94.04" height="1.02" fill="url(#g258)"/>
<rect x="410.70" y="79.00" width="94.60" height="1.02" fill="url(#g259)"/>
<rect x="410.13" y="80.00" width="95.17" height="1.02" fill="url(#g260)"/>
<rect x="409.56" y="81.00" width="95.74" height="1.02" fill="url(#g261)"/>
<rect x="409.00" y="82.00" width="96.30" height="1.02" fill="url(#g262)"/>
<rect x="408.43" y="83.00" width="96.87" height="1.02" fill="url(#g263)"/>
<rect x="407.87" y="84.00" width="97.43" height="1.02" fill="url(#g264)"/>
<rect x="407.30" y="85.00" width="98.00" height="1.02" fill="url(#g265)"/>
<rect x="406.73" y="86.00" width="98.57" height="1.02" fill="url(#g266)"/>
<rect x="406.17" y="87.00" width="99.13" height="1.02" fill="url(#g267)"/>
<rect x="405.60" y="88.00" width="99.70" height="1.02" fill="url(#g268)"/>
<rect x="405.04" y="89.00" width="100.26" height="1.02" fill="url(#g269)"/>
<rect x="404.47" y="90.00" width="100.83" height="1.02" fill="url(#g270)"/>
<rect x="403.90" y="91.00" width="101.40" height="1.02" fill="url(#g271)"/>
<rect x="403.34" y="92.00" width="101.96" height="1.02" fill="url(#g272)"/>
<rect x="402.77" y="93.00" width="102.53" height="1.02" fill="url(#g273)"/>
<rect x="402.21" y="94.00" width="103.09" height="1.02" fill="url(#g274)"/>
<rect x="401.64" y="95.00" width="103.66" height="1.02" fill="url(#g275)"/>
<rect x="401.07" y="96.00" width="104.23" height="1.02" fill="url(#g276)"/>
<rect x="400.51" y="97.00" width="104.79" height="1.02" fill="url(#g277)"/>
<rect x="399.94" y="98.00" width="105.36" height="1.02" fill="url(#g278)"/>
<rect x="399.37" y="99.00" width="105.93" height="1.02" fill="url(#g279)"/>
<rect x="398.81" y="100.00" width="106.49" height="1.02" fill="url(#g280)"/>
<rect x="398.24" y="101.00" width="107.06" height="1.02" fill="url(#g281)"/>
<rect x="397.68" y="102.00" width="107.62" height="1.02" fill="url(#g282)"/>
<rect x="397.11" y="103.00" width="108.19" height="1.02" fill="url(#g283)"/>
<rect x="396.54" y="104.00" width="108.76" height="1.02" fill="url(#g284)"/>
<rect x="395.98" y="105.00" width="109.32" height="1.02" fill="url(#g285)"/>
<rect x="395.41" y="106.00" width="109.89" height="1.02" fill="url(#g286)"/>
<rect x="394.85" y="107.00" width="110.45" height="1.02" fill="url(#g287)"/>
<rect x="394.28" y="108.00" width="111.02" height="1.02" fill="url(#g288)"/>
<rect x="393.71" y="109.00" width="111.59" height="1.02" fill="url(#g289)"/>
<rect x="393.15" y="110.00" width="112.15" height="1.02" fill="url(#g290)"/>
<rect x="392.58" y="111.00" width="112.72" height="1.02" fill="url(#g291)"/>
<rect x="392.02" y="112.00" width="113.28" height="1.02" fill="url(#g292)"/>
<rect x="391.45" y="113.00" width="113.85" height="1.02" fill="url(#g293)"/>
<rect x="390.88" y="114.00" width="114.42" height="1.02" fill="url(#g294)"/>
<rect x="390.32" y="115.00" width="114.98" height="1.02" fill="url(#g295)"/>
<rect x="389.75" y="116.00" width="115.55" height="1.02" fill="url(#g296)"/>
<rect x="389.19" y="117.00" width="116.11" height="1.02" fill="url(#g297)"/>
<rect x="388.62" y="118.00" width="116.68" height="1.02" fill="url(#g298)"/>
<rect x="388.05" y="119.00" width="117.25" height="1.02" fill="url(#g299)"/>
<rect x="387.49" y="120.00" width="117.81" height="1.02" fill="url(#g300)"/>
<rect x="386.92" y="121.00" width="118.38" height="1.02" fill="url(#g301)"/>
<rect x="386.36" y="122.00" width="118.94" height="1.02" fill="url(#g302)"/>
<rect x="385.79" y="123.00" width="119.51" height="1.02" fill="url(#g303)"/>
<rect x="385.22" y="124.00" width="120.08" height="1.02" fill="url(#g304)"/>
<rect x="384.66" y="125.00" width="120.64" height="1.02" fill="url(#g305)"/>
<rect x="384.09" y="126.00" width="121.21" height="1.02" fill="url(#g306)"/>
<rect x="383.52" y="127.00" width="121.78" height="1.02" fill="url(#g307)"/>
<rect x="382.96" y="128.00" width="122.34" height="1.02" fill="url(#g308)"/>
<rect x="382.39" y="129.00" width="122.91" height="1.02" fill="url(#g309)"/>
<rect x="381.83" y="130.00" width="123.47" height="1.02" fill="url(#g310)"/>
<rect x="381.26" y="131.00" width="124.04" height="1.02" fill="url(#g311)"/>
<rect x="380.69" y="132.00" width="124.61" height="1.02" fill="url(#g312)"/>
<rect x="380.13" y="133.00" width="125.17" height="1.02" fill="url(#g313)"/>
<rect x="379.56" y="134.00" width="125.74" height="1.02" fill="url(#g314)"/>
<rect x="379.00" y="135.00" width="126.30" height="1.02" fill="url(#g315)"/>
<rect x="378.43" y="136.00" width="126.87" height="1.02" fill="url(#g316)"/>
</g>
<line x1="467.30" y1="13.60" x2="397.50" y2="136.20" stroke="#000" stroke-width="0.8" stroke-opacity="0.75" clip-path="url(#clipB)"/>
<line x1="487.00" y1="13.60" x2="415.20" y2="136.20" stroke="#000" stroke-width="0.8" stroke-opacity="0.75" clip-path="url(#clipB)"/>
<line x1="505.50" y1="17.00" x2="434.00" y2="136.20" stroke="#000" stroke-width="0.8" stroke-opacity="0.75" clip-path="url(#clipB)"/>
<line x1="504.80" y1="82.00" x2="468.80" y2="136.20" stroke="#000" stroke-width="0.8" stroke-opacity="0.75" clip-path="url(#clipB)"/>
<line x1="448.30" y1="13.60" x2="378.90" y2="136.20" stroke="#222" stroke-width="1" clip-path="url(#clipB)"/>
<line x1="428.9" y1="48.0" x2="424.2" y2="41.8" stroke="#111" stroke-width="1.2"/>
<line x1="383.0" y1="128.6" x2="378.2" y2="120.4" stroke="#111" stroke-width="1.2"/>
<polyline points="406.30,89.10 425.50,94.00 444.00,96.90 461.90,105.00 478.70,107.00" fill="none" stroke="#ff00ff" stroke-width="2"/>
<rect x="400.40" y="83.20" width="11.80" height="11.80" fill="#ff00ff" stroke="none" stroke-width="0.00"/>
<circle cx="425.50" cy="94.00" r="6.60" fill="#ff00ff" stroke="none" stroke-width="0.00"/>
<polygon points="444.00,89.38 436.20,103.92 451.80,103.92" fill="#ff00ff" stroke="none" stroke-width="0.00"/>
<polygon points="454.00,97.89 469.80,97.89 461.90,112.61" fill="#ff00ff" stroke="none" stroke-width="0.00"/>
<polygon points="478.70,98.81 486.89,107.00 478.70,115.19 470.51,107.00" fill="#ff00ff" stroke="none" stroke-width="0.00"/>
<rect x="354.60" y="13.60" width="150.20" height="122.60" fill="none" stroke="#444" stroke-width="1.1"/>
<text x="401.80" y="35.60" font-size="23.60" text-anchor="start" fill="#000" >0.7</text><text x="356.80" y="113.60" font-size="23.60" text-anchor="start" fill="#000" >0.8</text><text x="359.70" y="31.60" font-size="17.00" text-anchor="start" fill="#cc0000" style="stroke:none">(b)</text>
<defs><clipPath id="clipC"><rect x="567.5" y="24.9" width="104.7" height="116.6"/></clipPath></defs>
<path d="M567.50,103.40 C569.00,102.75 573.02,101.25 576.50,99.50 C579.98,97.75 584.98,95.23 588.40,92.90 C591.82,90.57 594.82,88.40 597.00,85.50 C599.18,82.60 599.77,78.65 601.50,75.50 C603.23,72.35 605.18,68.78 607.40,66.60 C609.62,64.42 612.33,63.60 614.80,62.40 C617.27,61.20 619.73,60.48 622.20,59.40 C624.67,58.32 627.13,57.00 629.60,55.90 C632.07,54.80 634.53,53.82 637.00,52.80 C639.47,51.78 641.92,50.88 644.40,49.80 C646.88,48.72 649.42,47.42 651.90,46.30 C654.38,45.18 655.92,44.58 659.30,43.10 C662.68,41.62 670.05,38.35 672.20,37.40 L672.20,68.70 C670.17,69.05 664.10,69.92 660.00,70.80 C655.90,71.68 651.85,72.60 647.60,74.00 C643.35,75.40 638.88,77.20 634.50,79.20 C630.12,81.20 625.05,83.50 621.30,86.00 C617.55,88.50 614.63,91.52 612.00,94.20 C609.37,96.88 607.90,99.25 605.50,102.10 C603.10,104.95 600.45,108.45 597.60,111.30 C594.75,114.15 591.92,116.58 588.40,119.20 C584.88,121.82 579.98,125.03 576.50,127.00 C573.02,128.97 569.00,130.33 567.50,131.00 Z" fill="#ebfdeb" clip-path="url(#clipC)"/>
<line x1="567.50" y1="141.50" x2="567.50" y2="138.30" stroke="#555" stroke-width="0.80"/><line x1="567.50" y1="25.20" x2="567.50" y2="28.40" stroke="#555" stroke-width="0.80"/><line x1="576.23" y1="141.50" x2="576.23" y2="139.80" stroke="#555" stroke-width="0.80"/><line x1="576.23" y1="25.20" x2="576.23" y2="26.90" stroke="#555" stroke-width="0.80"/><line x1="584.97" y1="141.50" x2="584.97" y2="139.80" stroke="#555" stroke-width="0.80"/><line x1="584.97" y1="25.20" x2="584.97" y2="26.90" stroke="#555" stroke-width="0.80"/><line x1="593.70" y1="141.50" x2="593.70" y2="139.80" stroke="#555" stroke-width="0.80"/><line x1="593.70" y1="25.20" x2="593.70" y2="26.90" stroke="#555" stroke-width="0.80"/><line x1="602.43" y1="141.50" x2="602.43" y2="138.30" stroke="#555" stroke-width="0.80"/><line x1="602.43" y1="25.20" x2="602.43" y2="28.40" stroke="#555" stroke-width="0.80"/><line x1="611.17" y1="141.50" x2="611.17" y2="139.80" stroke="#555" stroke-width="0.80"/><line x1="611.17" y1="25.20" x2="611.17" y2="26.90" stroke="#555" stroke-width="0.80"/><line x1="619.90" y1="141.50" x2="619.90" y2="139.80" stroke="#555" stroke-width="0.80"/><line x1="619.90" y1="25.20" x2="619.90" y2="26.90" stroke="#555" stroke-width="0.80"/><line x1="628.63" y1="141.50" x2="628.63" y2="139.80" stroke="#555" stroke-width="0.80"/><line x1="628.63" y1="25.20" x2="628.63" y2="26.90" stroke="#555" stroke-width="0.80"/><line x1="637.37" y1="141.50" x2="637.37" y2="138.30" stroke="#555" stroke-width="0.80"/><line x1="637.37" y1="25.20" x2="637.37" y2="28.40" stroke="#555" stroke-width="0.80"/><line x1="646.10" y1="141.50" x2="646.10" y2="139.80" stroke="#555" stroke-width="0.80"/><line x1="646.10" y1="25.20" x2="646.10" y2="26.90" stroke="#555" stroke-width="0.80"/><line x1="654.83" y1="141.50" x2="654.83" y2="139.80" stroke="#555" stroke-width="0.80"/><line x1="654.83" y1="25.20" x2="654.83" y2="26.90" stroke="#555" stroke-width="0.80"/><line x1="663.57" y1="141.50" x2="663.57" y2="139.80" stroke="#555" stroke-width="0.80"/><line x1="663.57" y1="25.20" x2="663.57" y2="26.90" stroke="#555" stroke-width="0.80"/><line x1="672.30" y1="141.50" x2="672.30" y2="138.30" stroke="#555" stroke-width="0.80"/><line x1="672.30" y1="25.20" x2="672.30" y2="28.40" stroke="#555" stroke-width="0.80"/><line x1="567.50" y1="141.50" x2="570.70" y2="141.50" stroke="#555" stroke-width="0.80"/><line x1="672.30" y1="141.50" x2="669.10" y2="141.50" stroke="#555" stroke-width="0.80"/><line x1="567.50" y1="133.19" x2="569.20" y2="133.19" stroke="#555" stroke-width="0.80"/><line x1="672.30" y1="133.19" x2="670.60" y2="133.19" stroke="#555" stroke-width="0.80"/><line x1="567.50" y1="124.89" x2="569.20" y2="124.89" stroke="#555" stroke-width="0.80"/><line x1="672.30" y1="124.89" x2="670.60" y2="124.89" stroke="#555" stroke-width="0.80"/><line x1="567.50" y1="116.58" x2="569.20" y2="116.58" stroke="#555" stroke-width="0.80"/><line x1="672.30" y1="116.58" x2="670.60" y2="116.58" stroke="#555" stroke-width="0.80"/><line x1="567.50" y1="108.27" x2="570.70" y2="108.27" stroke="#555" stroke-width="0.80"/><line x1="672.30" y1="108.27" x2="669.10" y2="108.27" stroke="#555" stroke-width="0.80"/><line x1="567.50" y1="99.96" x2="569.20" y2="99.96" stroke="#555" stroke-width="0.80"/><line x1="672.30" y1="99.96" x2="670.60" y2="99.96" stroke="#555" stroke-width="0.80"/><line x1="567.50" y1="91.66" x2="569.20" y2="91.66" stroke="#555" stroke-width="0.80"/><line x1="672.30" y1="91.66" x2="670.60" y2="91.66" stroke="#555" stroke-width="0.80"/><line x1="567.50" y1="83.35" x2="569.20" y2="83.35" stroke="#555" stroke-width="0.80"/><line x1="672.30" y1="83.35" x2="670.60" y2="83.35" stroke="#555" stroke-width="0.80"/><line x1="567.50" y1="75.04" x2="570.70" y2="75.04" stroke="#555" stroke-width="0.80"/><line x1="672.30" y1="75.04" x2="669.10" y2="75.04" stroke="#555" stroke-width="0.80"/><line x1="567.50" y1="66.74" x2="569.20" y2="66.74" stroke="#555" stroke-width="0.80"/><line x1="672.30" y1="66.74" x2="670.60" y2="66.74" stroke="#555" stroke-width="0.80"/><line x1="567.50" y1="58.43" x2="569.20" y2="58.43" stroke="#555" stroke-width="0.80"/><line x1="672.30" y1="58.43" x2="670.60" y2="58.43" stroke="#555" stroke-width="0.80"/><line x1="567.50" y1="50.12" x2="569.20" y2="50.12" stroke="#555" stroke-width="0.80"/><line x1="672.30" y1="50.12" x2="670.60" y2="50.12" stroke="#555" stroke-width="0.80"/><line x1="567.50" y1="41.81" x2="570.70" y2="41.81" stroke="#555" stroke-width="0.80"/><line x1="672.30" y1="41.81" x2="669.10" y2="41.81" stroke="#555" stroke-width="0.80"/><line x1="567.50" y1="33.51" x2="569.20" y2="33.51" stroke="#555" stroke-width="0.80"/><line x1="672.30" y1="33.51" x2="670.60" y2="33.51" stroke="#555" stroke-width="0.80"/><line x1="567.50" y1="25.20" x2="569.20" y2="25.20" stroke="#555" stroke-width="0.80"/><line x1="672.30" y1="25.20" x2="670.60" y2="25.20" stroke="#555" stroke-width="0.80"/><rect x="567.50" y="25.20" width="104.80" height="116.30" fill="none" stroke="#666" stroke-width="1"/><text x="564.00" y="29.64" font-size="12.50" text-anchor="end">700</text><text x="564.00" y="62.87" font-size="12.50" text-anchor="end">500</text><text x="564.00" y="96.09" font-size="12.50" text-anchor="end">300</text><text x="564.00" y="129.32" font-size="12.50" text-anchor="end">100</text>
<polyline points="567.70,115.40 589.00,106.00 609.40,85.40 628.40,72.00 646.90,46.80" fill="none" stroke="#1a1aff" stroke-width="1.3" stroke-dasharray="3,2.2"/>
<rect x="564.50" y="112.20" width="6.40" height="6.40" fill="none" stroke="#1a1aff" stroke-width="1.30"/>
<circle cx="589.00" cy="106.00" r="4.10" fill="none" stroke="#1a1aff" stroke-width="1.30"/>
<polygon points="609.40,81.03 605.10,89.27 613.70,89.27" fill="none" stroke="#1a1aff" stroke-width="1.30"/>
<polygon points="623.70,67.77 633.10,67.77 628.40,76.73" fill="none" stroke="#1a1aff" stroke-width="1.30"/>
<polygon points="646.90,41.86 651.83,46.80 646.90,51.73 641.97,46.80" fill="none" stroke="#1a1aff" stroke-width="1.30"/>
<path d="M567.50,117.60 C569.22,116.77 574.32,114.53 577.80,112.60 C581.28,110.67 585.10,108.37 588.40,106.00 C591.70,103.63 594.97,101.18 597.60,98.40 C600.23,95.62 602.38,91.93 604.20,89.30 C606.02,86.67 606.53,84.60 608.50,82.60 C610.47,80.60 613.72,78.68 616.00,77.30 C618.28,75.92 619.68,75.42 622.20,74.30 C624.72,73.18 627.63,72.22 631.10,70.60 C634.57,68.98 639.78,66.30 643.00,64.60 C646.22,62.90 647.57,61.88 650.40,60.40 C653.23,58.92 656.37,57.33 660.00,55.70 C663.63,54.07 670.17,51.45 672.20,50.60" fill="none" stroke="#ff33ff" stroke-width="1.4" clip-path="url(#clipC)"/>
<rect x="564.30" y="114.60" width="6.80" height="6.80" fill="#ff00ff" stroke="none" stroke-width="0.00"/>
<circle cx="589.00" cy="106.00" r="3.70" fill="#ff00ff" stroke="none" stroke-width="0.00"/>
<polygon points="608.80,76.75 604.30,85.35 613.30,85.35" fill="#ff00ff" stroke="none" stroke-width="0.00"/>
<polygon points="624.10,68.73 632.70,68.73 628.40,76.97" fill="#ff00ff" stroke="none" stroke-width="0.00"/>
<polygon points="646.90,57.77 651.73,62.60 646.90,67.43 642.07,62.60" fill="#ff00ff" stroke="none" stroke-width="0.00"/>
<line x1="630.5" y1="102.9" x2="634" y2="102.9" stroke="#1a1aff" stroke-width="1.4"/>
<circle cx="636.30" cy="102.90" r="3.50" fill="none" stroke="#1a1aff" stroke-width="1.40"/>
<rect x="633.20" y="109.70" width="6.80" height="6.80" fill="#ff00ff" stroke="none" stroke-width="0.00"/>
<line x1="631.6" y1="123.3" x2="641.4" y2="123.3" stroke="#ff33ff" stroke-width="1.4"/>
<rect x="632.4" y="128.7" width="8.2" height="8.3" fill="#ebfdeb"/>
<text x="561.1" y="11.4" font-size="15.8">Hf<tspan font-size="9.6" dy="3.5">x</tspan><tspan dy="-3.5">(CoCrFeNi)</tspan><tspan font-size="9.4" dy="3.3">1-x</tspan></text>
<text x="0" y="0" font-size="15.75" transform="translate(536.4,128.4) rotate(-90)">Hardness [HV]</text>
<text x="643.00" y="105.90" font-size="8.30" text-anchor="start" fill="#000" >Exp.</text><text x="643.00" y="116.10" font-size="8.30" text-anchor="start" fill="#000" >ML</text><text x="645.30" y="126.30" font-size="8.30" text-anchor="start" fill="#000" >ML</text><text x="643.00" y="135.80" font-size="8.30" text-anchor="start" fill="#000" >90% PI</text><text x="571.80" y="42.00" font-size="17.00" text-anchor="start" fill="#cc0000" style="stroke:none">(c)</text>
<line x1="396.40" y1="270.50" x2="396.40" y2="267.30" stroke="#555" stroke-width="0.80"/><line x1="396.40" y1="153.90" x2="396.40" y2="157.10" stroke="#555" stroke-width="0.80"/><line x1="405.13" y1="270.50" x2="405.13" y2="268.80" stroke="#555" stroke-width="0.80"/><line x1="405.13" y1="153.90" x2="405.13" y2="155.60" stroke="#555" stroke-width="0.80"/><line x1="413.87" y1="270.50" x2="413.87" y2="268.80" stroke="#555" stroke-width="0.80"/><line x1="413.87" y1="153.90" x2="413.87" y2="155.60" stroke="#555" stroke-width="0.80"/><line x1="422.60" y1="270.50" x2="422.60" y2="268.80" stroke="#555" stroke-width="0.80"/><line x1="422.60" y1="153.90" x2="422.60" y2="155.60" stroke="#555" stroke-width="0.80"/><line x1="431.33" y1="270.50" x2="431.33" y2="267.30" stroke="#555" stroke-width="0.80"/><line x1="431.33" y1="153.90" x2="431.33" y2="157.10" stroke="#555" stroke-width="0.80"/><line x1="440.07" y1="270.50" x2="440.07" y2="268.80" stroke="#555" stroke-width="0.80"/><line x1="440.07" y1="153.90" x2="440.07" y2="155.60" stroke="#555" stroke-width="0.80"/><line x1="448.80" y1="270.50" x2="448.80" y2="268.80" stroke="#555" stroke-width="0.80"/><line x1="448.80" y1="153.90" x2="448.80" y2="155.60" stroke="#555" stroke-width="0.80"/><line x1="457.53" y1="270.50" x2="457.53" y2="268.80" stroke="#555" stroke-width="0.80"/><line x1="457.53" y1="153.90" x2="457.53" y2="155.60" stroke="#555" stroke-width="0.80"/><line x1="466.27" y1="270.50" x2="466.27" y2="267.30" stroke="#555" stroke-width="0.80"/><line x1="466.27" y1="153.90" x2="466.27" y2="157.10" stroke="#555" stroke-width="0.80"/><line x1="475.00" y1="270.50" x2="475.00" y2="268.80" stroke="#555" stroke-width="0.80"/><line x1="475.00" y1="153.90" x2="475.00" y2="155.60" stroke="#555" stroke-width="0.80"/><line x1="483.73" y1="270.50" x2="483.73" y2="268.80" stroke="#555" stroke-width="0.80"/><line x1="483.73" y1="153.90" x2="483.73" y2="155.60" stroke="#555" stroke-width="0.80"/><line x1="492.47" y1="270.50" x2="492.47" y2="268.80" stroke="#555" stroke-width="0.80"/><line x1="492.47" y1="153.90" x2="492.47" y2="155.60" stroke="#555" stroke-width="0.80"/><line x1="501.20" y1="270.50" x2="501.20" y2="267.30" stroke="#555" stroke-width="0.80"/><line x1="501.20" y1="153.90" x2="501.20" y2="157.10" stroke="#555" stroke-width="0.80"/><line x1="396.40" y1="270.50" x2="398.10" y2="270.50" stroke="#555" stroke-width="0.80"/><line x1="501.20" y1="270.50" x2="499.50" y2="270.50" stroke="#555" stroke-width="0.80"/><line x1="396.40" y1="255.93" x2="399.60" y2="255.93" stroke="#555" stroke-width="0.80"/><line x1="501.20" y1="255.93" x2="498.00" y2="255.93" stroke="#555" stroke-width="0.80"/><line x1="396.40" y1="241.35" x2="398.10" y2="241.35" stroke="#555" stroke-width="0.80"/><line x1="501.20" y1="241.35" x2="499.50" y2="241.35" stroke="#555" stroke-width="0.80"/><line x1="396.40" y1="226.78" x2="399.60" y2="226.78" stroke="#555" stroke-width="0.80"/><line x1="501.20" y1="226.78" x2="498.00" y2="226.78" stroke="#555" stroke-width="0.80"/><line x1="396.40" y1="212.20" x2="398.10" y2="212.20" stroke="#555" stroke-width="0.80"/><line x1="501.20" y1="212.20" x2="499.50" y2="212.20" stroke="#555" stroke-width="0.80"/><line x1="396.40" y1="197.62" x2="399.60" y2="197.62" stroke="#555" stroke-width="0.80"/><line x1="501.20" y1="197.62" x2="498.00" y2="197.62" stroke="#555" stroke-width="0.80"/><line x1="396.40" y1="183.05" x2="398.10" y2="183.05" stroke="#555" stroke-width="0.80"/><line x1="501.20" y1="183.05" x2="499.50" y2="183.05" stroke="#555" stroke-width="0.80"/><line x1="396.40" y1="168.47" x2="399.60" y2="168.47" stroke="#555" stroke-width="0.80"/><line x1="501.20" y1="168.47" x2="498.00" y2="168.47" stroke="#555" stroke-width="0.80"/><line x1="396.40" y1="153.90" x2="398.10" y2="153.90" stroke="#555" stroke-width="0.80"/><line x1="501.20" y1="153.90" x2="499.50" y2="153.90" stroke="#555" stroke-width="0.80"/><rect x="396.40" y="153.90" width="104.80" height="116.60" fill="none" stroke="#666" stroke-width="1"/><text x="392.90" y="172.91" font-size="12.50" text-anchor="end">5.4</text><text x="392.90" y="202.06" font-size="12.50" text-anchor="end">5.2</text><text x="392.90" y="231.21" font-size="12.50" text-anchor="end">5.0</text><text x="392.90" y="260.36" font-size="12.50" text-anchor="end">4.8</text><text x="396.40" y="284.20" font-size="12.50" text-anchor="middle">0</text><text x="431.33" y="284.20" font-size="12.50" text-anchor="middle">0.04</text><text x="466.27" y="284.20" font-size="12.50" text-anchor="middle">0.08</text><text x="501.20" y="284.20" font-size="12.50" text-anchor="middle">0.12</text>
<defs><clipPath id="clipD"><rect x="386" y="153.9" width="120" height="116.6"/></clipPath></defs>
<polyline points="396.50,248.00 418.10,226.00 438.20,209.90 457.80,197.40 476.20,188.90" fill="none" stroke="#111" stroke-width="1.1" stroke-dasharray="2.6,2"/>
<polyline points="396.50,259.50 418.10,232.40 438.20,202.50 457.80,180.30 476.20,159.20" fill="none" stroke="#ff1a1a" stroke-width="1.1" stroke-dasharray="2.6,2" clip-path="url(#clipD)"/>
<rect x="393.40" y="244.90" width="6.20" height="6.20" fill="#fff" stroke="#111" stroke-width="1.20"/>
<circle cx="418.10" cy="226.00" r="3.45" fill="#fff" stroke="#111" stroke-width="1.20"/>
<polygon points="438.20,205.80 434.20,213.50 442.20,213.50" fill="#fff" stroke="#111" stroke-width="1.20"/>
<polygon points="453.80,193.80 461.80,193.80 457.80,201.50" fill="#fff" stroke="#111" stroke-width="1.20"/>
<polygon points="476.20,184.39 480.71,188.90 476.20,193.41 471.69,188.90" fill="#fff" stroke="#111" stroke-width="1.20"/>
<rect x="393.40" y="256.40" width="6.20" height="6.20" fill="#fff" stroke="#ff1a1a" stroke-width="1.20"/>
<circle cx="418.10" cy="232.40" r="3.45" fill="#fff" stroke="#ff1a1a" stroke-width="1.20"/>
<polygon points="438.20,198.40 434.20,206.10 442.20,206.10" fill="#fff" stroke="#ff1a1a" stroke-width="1.20"/>
<polygon points="453.80,176.70 461.80,176.70 457.80,184.40" fill="#fff" stroke="#ff1a1a" stroke-width="1.20"/>
<polygon points="476.20,154.69 480.71,159.20 476.20,163.71 471.69,159.20" fill="#fff" stroke="#ff1a1a" stroke-width="1.20"/>
<line x1="449" y1="233.2" x2="462.4" y2="233.2" stroke="#111" stroke-width="1.1" stroke-dasharray="2.6,2"/>
<circle cx="457.00" cy="233.20" r="3.45" fill="#fff" stroke="#111" stroke-width="1.20"/>
<line x1="449" y1="249.2" x2="462.4" y2="249.2" stroke="#ff1a1a" stroke-width="1.1" stroke-dasharray="2.6,2"/>
<circle cx="457.00" cy="249.20" r="3.45" fill="#fff" stroke="#ff1a1a" stroke-width="1.20"/>
<text x="0" y="0" font-size="15.65" transform="translate(364.0,271.8) rotate(-90)">E<tspan font-size="10.8" dy="4.2">form</tspan><tspan dy="-4.2"> [mRy/atom]</tspan></text>
<text x="384.9" y="300.3" font-size="12.5">X<tspan font-size="12.8" dy="3.1">Hf</tspan><tspan dy="-3.1" font-size="12.15"> [Hf atomic-fraction]</tspan></text>
<text x="467.90" y="237.70" font-size="13.00" text-anchor="start" fill="#000" >BCC</text><text x="467.90" y="253.70" font-size="13.00" text-anchor="start" fill="#000" >FCC</text><text x="400.60" y="171.50" font-size="17.00" text-anchor="start" fill="#cc0000" style="stroke:none">(d)</text>
<line x1="567.50" y1="270.50" x2="567.50" y2="267.30" stroke="#555" stroke-width="0.80"/><line x1="567.50" y1="153.90" x2="567.50" y2="157.10" stroke="#555" stroke-width="0.80"/><line x1="576.24" y1="270.50" x2="576.24" y2="268.80" stroke="#555" stroke-width="0.80"/><line x1="576.24" y1="153.90" x2="576.24" y2="155.60" stroke="#555" stroke-width="0.80"/><line x1="584.98" y1="270.50" x2="584.98" y2="268.80" stroke="#555" stroke-width="0.80"/><line x1="584.98" y1="153.90" x2="584.98" y2="155.60" stroke="#555" stroke-width="0.80"/><line x1="593.73" y1="270.50" x2="593.73" y2="268.80" stroke="#555" stroke-width="0.80"/><line x1="593.73" y1="153.90" x2="593.73" y2="155.60" stroke="#555" stroke-width="0.80"/><line x1="602.47" y1="270.50" x2="602.47" y2="267.30" stroke="#555" stroke-width="0.80"/><line x1="602.47" y1="153.90" x2="602.47" y2="157.10" stroke="#555" stroke-width="0.80"/><line x1="611.21" y1="270.50" x2="611.21" y2="268.80" stroke="#555" stroke-width="0.80"/><line x1="611.21" y1="153.90" x2="611.21" y2="155.60" stroke="#555" stroke-width="0.80"/><line x1="619.95" y1="270.50" x2="619.95" y2="268.80" stroke="#555" stroke-width="0.80"/><line x1="619.95" y1="153.90" x2="619.95" y2="155.60" stroke="#555" stroke-width="0.80"/><line x1="628.69" y1="270.50" x2="628.69" y2="268.80" stroke="#555" stroke-width="0.80"/><line x1="628.69" y1="153.90" x2="628.69" y2="155.60" stroke="#555" stroke-width="0.80"/><line x1="637.43" y1="270.50" x2="637.43" y2="267.30" stroke="#555" stroke-width="0.80"/><line x1="637.43" y1="153.90" x2="637.43" y2="157.10" stroke="#555" stroke-width="0.80"/><line x1="646.17" y1="270.50" x2="646.17" y2="268.80" stroke="#555" stroke-width="0.80"/><line x1="646.17" y1="153.90" x2="646.17" y2="155.60" stroke="#555" stroke-width="0.80"/><line x1="654.92" y1="270.50" x2="654.92" y2="268.80" stroke="#555" stroke-width="0.80"/><line x1="654.92" y1="153.90" x2="654.92" y2="155.60" stroke="#555" stroke-width="0.80"/><line x1="663.66" y1="270.50" x2="663.66" y2="268.80" stroke="#555" stroke-width="0.80"/><line x1="663.66" y1="153.90" x2="663.66" y2="155.60" stroke="#555" stroke-width="0.80"/><line x1="672.40" y1="270.50" x2="672.40" y2="267.30" stroke="#555" stroke-width="0.80"/><line x1="672.40" y1="153.90" x2="672.40" y2="157.10" stroke="#555" stroke-width="0.80"/><line x1="567.50" y1="270.50" x2="570.70" y2="270.50" stroke="#555" stroke-width="0.80"/><line x1="672.40" y1="270.50" x2="669.20" y2="270.50" stroke="#555" stroke-width="0.80"/><line x1="567.50" y1="266.86" x2="569.20" y2="266.86" stroke="#555" stroke-width="0.80"/><line x1="672.40" y1="266.86" x2="670.70" y2="266.86" stroke="#555" stroke-width="0.80"/><line x1="567.50" y1="263.21" x2="569.20" y2="263.21" stroke="#555" stroke-width="0.80"/><line x1="672.40" y1="263.21" x2="670.70" y2="263.21" stroke="#555" stroke-width="0.80"/><line x1="567.50" y1="259.57" x2="569.20" y2="259.57" stroke="#555" stroke-width="0.80"/><line x1="672.40" y1="259.57" x2="670.70" y2="259.57" stroke="#555" stroke-width="0.80"/><line x1="567.50" y1="255.93" x2="569.20" y2="255.93" stroke="#555" stroke-width="0.80"/><line x1="672.40" y1="255.93" x2="670.70" y2="255.93" stroke="#555" stroke-width="0.80"/><line x1="567.50" y1="252.28" x2="570.70" y2="252.28" stroke="#555" stroke-width="0.80"/><line x1="672.40" y1="252.28" x2="669.20" y2="252.28" stroke="#555" stroke-width="0.80"/><line x1="567.50" y1="248.64" x2="569.20" y2="248.64" stroke="#555" stroke-width="0.80"/><line x1="672.40" y1="248.64" x2="670.70" y2="248.64" stroke="#555" stroke-width="0.80"/><line x1="567.50" y1="244.99" x2="569.20" y2="244.99" stroke="#555" stroke-width="0.80"/><line x1="672.40" y1="244.99" x2="670.70" y2="244.99" stroke="#555" stroke-width="0.80"/><line x1="567.50" y1="241.35" x2="569.20" y2="241.35" stroke="#555" stroke-width="0.80"/><line x1="672.40" y1="241.35" x2="670.70" y2="241.35" stroke="#555" stroke-width="0.80"/><line x1="567.50" y1="237.71" x2="569.20" y2="237.71" stroke="#555" stroke-width="0.80"/><line x1="672.40" y1="237.71" x2="670.70" y2="237.71" stroke="#555" stroke-width="0.80"/><line x1="567.50" y1="234.06" x2="570.70" y2="234.06" stroke="#555" stroke-width="0.80"/><line x1="672.40" y1="234.06" x2="669.20" y2="234.06" stroke="#555" stroke-width="0.80"/><line x1="567.50" y1="230.42" x2="569.20" y2="230.42" stroke="#555" stroke-width="0.80"/><line x1="672.40" y1="230.42" x2="670.70" y2="230.42" stroke="#555" stroke-width="0.80"/><line x1="567.50" y1="226.78" x2="569.20" y2="226.78" stroke="#555" stroke-width="0.80"/><line x1="672.40" y1="226.78" x2="670.70" y2="226.78" stroke="#555" stroke-width="0.80"/><line x1="567.50" y1="223.13" x2="569.20" y2="223.13" stroke="#555" stroke-width="0.80"/><line x1="672.40" y1="223.13" x2="670.70" y2="223.13" stroke="#555" stroke-width="0.80"/><line x1="567.50" y1="219.49" x2="569.20" y2="219.49" stroke="#555" stroke-width="0.80"/><line x1="672.40" y1="219.49" x2="670.70" y2="219.49" stroke="#555" stroke-width="0.80"/><line x1="567.50" y1="215.84" x2="570.70" y2="215.84" stroke="#555" stroke-width="0.80"/><line x1="672.40" y1="215.84" x2="669.20" y2="215.84" stroke="#555" stroke-width="0.80"/><line x1="567.50" y1="212.20" x2="569.20" y2="212.20" stroke="#555" stroke-width="0.80"/><line x1="672.40" y1="212.20" x2="670.70" y2="212.20" stroke="#555" stroke-width="0.80"/><line x1="567.50" y1="208.56" x2="569.20" y2="208.56" stroke="#555" stroke-width="0.80"/><line x1="672.40" y1="208.56" x2="670.70" y2="208.56" stroke="#555" stroke-width="0.80"/><line x1="567.50" y1="204.91" x2="569.20" y2="204.91" stroke="#555" stroke-width="0.80"/><line x1="672.40" y1="204.91" x2="670.70" y2="204.91" stroke="#555" stroke-width="0.80"/><line x1="567.50" y1="201.27" x2="569.20" y2="201.27" stroke="#555" stroke-width="0.80"/><line x1="672.40" y1="201.27" x2="670.70" y2="201.27" stroke="#555" stroke-width="0.80"/><line x1="567.50" y1="197.62" x2="570.70" y2="197.62" stroke="#555" stroke-width="0.80"/><line x1="672.40" y1="197.62" x2="669.20" y2="197.62" stroke="#555" stroke-width="0.80"/><line x1="567.50" y1="193.98" x2="569.20" y2="193.98" stroke="#555" stroke-width="0.80"/><line x1="672.40" y1="193.98" x2="670.70" y2="193.98" stroke="#555" stroke-width="0.80"/><line x1="567.50" y1="190.34" x2="569.20" y2="190.34" stroke="#555" stroke-width="0.80"/><line x1="672.40" y1="190.34" x2="670.70" y2="190.34" stroke="#555" stroke-width="0.80"/><line x1="567.50" y1="186.69" x2="569.20" y2="186.69" stroke="#555" stroke-width="0.80"/><line x1="672.40" y1="186.69" x2="670.70" y2="186.69" stroke="#555" stroke-width="0.80"/><line x1="567.50" y1="183.05" x2="569.20" y2="183.05" stroke="#555" stroke-width="0.80"/><line x1="672.40" y1="183.05" x2="670.70" y2="183.05" stroke="#555" stroke-width="0.80"/><line x1="567.50" y1="179.41" x2="570.70" y2="179.41" stroke="#555" stroke-width="0.80"/><line x1="672.40" y1="179.41" x2="669.20" y2="179.41" stroke="#555" stroke-width="0.80"/><line x1="567.50" y1="175.76" x2="569.20" y2="175.76" stroke="#555" stroke-width="0.80"/><line x1="672.40" y1="175.76" x2="670.70" y2="175.76" stroke="#555" stroke-width="0.80"/><line x1="567.50" y1="172.12" x2="569.20" y2="172.12" stroke="#555" stroke-width="0.80"/><line x1="672.40" y1="172.12" x2="670.70" y2="172.12" stroke="#555" stroke-width="0.80"/><line x1="567.50" y1="168.48" x2="569.20" y2="168.48" stroke="#555" stroke-width="0.80"/><line x1="672.40" y1="168.48" x2="670.70" y2="168.48" stroke="#555" stroke-width="0.80"/><line x1="567.50" y1="164.83" x2="569.20" y2="164.83" stroke="#555" stroke-width="0.80"/><line x1="672.40" y1="164.83" x2="670.70" y2="164.83" stroke="#555" stroke-width="0.80"/><line x1="567.50" y1="161.19" x2="570.70" y2="161.19" stroke="#555" stroke-width="0.80"/><line x1="672.40" y1="161.19" x2="669.20" y2="161.19" stroke="#555" stroke-width="0.80"/><line x1="567.50" y1="157.54" x2="569.20" y2="157.54" stroke="#555" stroke-width="0.80"/><line x1="672.40" y1="157.54" x2="670.70" y2="157.54" stroke="#555" stroke-width="0.80"/><line x1="567.50" y1="153.90" x2="569.20" y2="153.90" stroke="#555" stroke-width="0.80"/><line x1="672.40" y1="153.90" x2="670.70" y2="153.90" stroke="#555" stroke-width="0.80"/><rect x="567.50" y="153.90" width="104.90" height="116.60" fill="none" stroke="#666" stroke-width="1"/><text x="564.00" y="165.62" font-size="12.50" text-anchor="end">30</text><text x="564.00" y="183.84" font-size="12.50" text-anchor="end">25</text><text x="564.00" y="202.06" font-size="12.50" text-anchor="end">20</text><text x="564.00" y="220.28" font-size="12.50" text-anchor="end">15</text><text x="564.00" y="238.50" font-size="12.50" text-anchor="end">10</text><text x="564.00" y="256.72" font-size="12.50" text-anchor="end">5</text><text x="564.00" y="274.94" font-size="12.50" text-anchor="end">0</text><text x="567.50" y="284.20" font-size="12.50" text-anchor="middle">0</text><text x="602.47" y="284.20" font-size="12.50" text-anchor="middle">0.04</text><text x="637.43" y="284.20" font-size="12.50" text-anchor="middle">0.08</text><text x="672.40" y="284.20" font-size="12.50" text-anchor="middle">0.12</text>
<polyline points="567.50,262.00 588.20,192.10 608.80,178.60 628.80,173.70 647.50,162.60" fill="none" stroke="#111" stroke-width="1.1" stroke-dasharray="2.6,2"/>
<rect x="563.90" y="258.60" width="6.80" height="6.80" fill="#ff0000" stroke="none" stroke-width="0.00"/>
<circle cx="588.20" cy="192.10" r="3.80" fill="#000" stroke="none" stroke-width="0.00"/>
<polygon points="608.80,174.05 604.30,182.65 613.30,182.65" fill="#000" stroke="none" stroke-width="0.00"/>
<polygon points="624.30,169.65 633.30,169.65 628.80,178.25" fill="#000" stroke="none" stroke-width="0.00"/>
<polygon points="647.50,157.66 652.43,162.60 647.50,167.53 642.57,162.60" fill="#000" stroke="none" stroke-width="0.00"/>
<text x="0" y="0" font-size="10" text-anchor="middle" transform="translate(626.6,190.2) rotate(-27)">clustering pair</text>
<text x="0" y="0" font-size="10" text-anchor="middle" transform="translate(633.0,200.3) rotate(-27)">[Hf-Cr]</text>
<text x="0" y="0" font-size="15.75" transform="translate(537.2,270.7) rotate(-90)">Pair SRO [Laue]</text>
<text x="555.8" y="300.3" font-size="12.5">X<tspan font-size="12.8" dy="3.1">Hf</tspan><tspan dy="-3.1" font-size="12.15"> [Hf atomic-fraction]</tspan></text>
<text x="572.80" y="265.20" font-size="10.00" text-anchor="start" fill="#ff0000" style="stroke:#ff0000;stroke-width:0.1px" >ordering pair [Cr-Ni]</text><text x="638.30" y="223.90" font-size="13.00" text-anchor="start" fill="#000" >BCC</text><text x="572.50" y="169.50" font-size="17.00" text-anchor="start" fill="#cc0000" style="stroke:none">(e)</text>
</svg>
</body></html>
